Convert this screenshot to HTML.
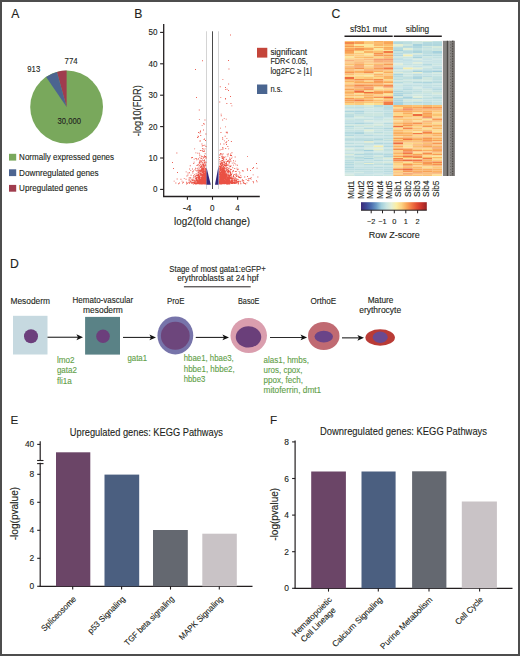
<!DOCTYPE html>
<html><head><meta charset="utf-8"><style>
html,body{margin:0;padding:0;background:#fff;}
body{width:520px;height:656px;overflow:hidden;position:relative;}
svg{position:absolute;left:0;top:0;}
text{font-family:"Liberation Sans", sans-serif;stroke:currentColor;stroke-width:0.12px;}
</style></head><body>
<svg width="520" height="656" viewBox="0 0 520 656" shape-rendering="auto">
<rect x="0" y="0" width="520" height="656" fill="#fff"/>
<text x="11.3" y="17.9" font-size="12.2" text-anchor="start" fill="#231f20" color="#231f20">A</text>
<circle cx="66.6" cy="107.0" r="36.4" fill="#79a85c"/>
<path d="M66.6,107.0 L66.60,70.60 A36.4,36.4 0 0 0 56.93,71.91 Z" fill="#a03c4e"/>
<path d="M66.6,107.0 L56.93,71.91 A36.4,36.4 0 0 0 46.14,76.89 Z" fill="#4c6490"/>
<text x="27.3" y="72.3" font-size="9.0" text-anchor="start" fill="#231f20" color="#231f20" textLength="12.9" lengthAdjust="spacingAndGlyphs">913</text>
<text x="64.6" y="64.0" font-size="9.0" text-anchor="start" fill="#231f20" color="#231f20" textLength="13.1" lengthAdjust="spacingAndGlyphs">774</text>
<text x="57.5" y="124.1" font-size="9.0" text-anchor="start" fill="#231f20" color="#231f20" textLength="23.5" lengthAdjust="spacingAndGlyphs">30,000</text>
<rect x="9" y="153.8" width="7.2" height="6.8" fill="#79a85c"/>
<rect x="9" y="169.3" width="7.2" height="6.8" fill="#4c6490"/>
<rect x="9" y="184.9" width="7.2" height="6.8" fill="#a03c4e"/>
<text x="19.1" y="160.0" font-size="8.6" text-anchor="start" fill="#231f20" color="#231f20" textLength="95" lengthAdjust="spacingAndGlyphs">Normally expressed genes</text>
<text x="19.1" y="175.5" font-size="8.6" text-anchor="start" fill="#231f20" color="#231f20" textLength="79.6" lengthAdjust="spacingAndGlyphs">Downregulated genes</text>
<text x="19.1" y="191.1" font-size="8.6" text-anchor="start" fill="#231f20" color="#231f20" textLength="68.4" lengthAdjust="spacingAndGlyphs">Upregulated genes</text>
<text x="134.2" y="18.3" font-size="12.2" text-anchor="start" fill="#231f20" color="#231f20">B</text>
<line x1="206.5" y1="31.3" x2="206.5" y2="189" stroke="#cfcfcf" stroke-width="0.9"/>
<line x1="218.5" y1="31.3" x2="218.5" y2="189" stroke="#cfcfcf" stroke-width="0.9"/>
<path d="M203.9,182.4h0.9v0.9h-0.9zM205.3,179.3h0.9v0.9h-0.9zM205.3,179.9h0.9v0.9h-0.9zM203.2,183.3h0.9v0.9h-0.9zM203.2,174.1h0.9v0.9h-0.9zM204.5,177.6h0.9v0.9h-0.9zM201.9,180.2h0.9v0.9h-0.9zM205.4,172.8h0.9v0.9h-0.9zM204.9,182.9h0.9v0.9h-0.9zM198.3,182.2h0.9v0.9h-0.9zM201.2,180.8h0.9v0.9h-0.9zM205.3,183.3h0.9v0.9h-0.9zM200.7,180.5h0.9v0.9h-0.9zM201.8,180.2h0.9v0.9h-0.9zM198.8,177.0h0.9v0.9h-0.9zM201.9,179.0h0.9v0.9h-0.9zM200.0,181.1h0.9v0.9h-0.9zM205.1,180.2h0.9v0.9h-0.9zM204.9,180.1h0.9v0.9h-0.9zM200.9,175.4h0.9v0.9h-0.9zM196.6,181.2h0.9v0.9h-0.9zM201.7,178.7h0.9v0.9h-0.9zM197.7,167.5h0.9v0.9h-0.9zM200.9,182.9h0.9v0.9h-0.9zM201.1,155.8h0.9v0.9h-0.9zM204.2,180.6h0.9v0.9h-0.9zM205.5,180.3h0.9v0.9h-0.9zM205.1,182.9h0.9v0.9h-0.9zM205.0,181.9h0.9v0.9h-0.9zM196.8,183.0h0.9v0.9h-0.9zM202.2,171.3h0.9v0.9h-0.9zM197.0,181.7h0.9v0.9h-0.9zM203.7,171.2h0.9v0.9h-0.9zM204.9,182.5h0.9v0.9h-0.9zM204.5,179.7h0.9v0.9h-0.9zM204.3,183.4h0.9v0.9h-0.9zM203.6,178.4h0.9v0.9h-0.9zM200.6,179.3h0.9v0.9h-0.9zM200.8,182.8h0.9v0.9h-0.9zM199.1,171.7h0.9v0.9h-0.9zM203.5,180.9h0.9v0.9h-0.9zM201.3,183.4h0.9v0.9h-0.9zM204.6,182.6h0.9v0.9h-0.9zM205.4,183.7h0.9v0.9h-0.9zM205.1,181.3h0.9v0.9h-0.9zM196.7,178.4h0.9v0.9h-0.9zM204.4,181.2h0.9v0.9h-0.9zM205.0,172.6h0.9v0.9h-0.9zM202.9,180.1h0.9v0.9h-0.9zM205.1,181.3h0.9v0.9h-0.9zM198.0,182.8h0.9v0.9h-0.9zM192.6,179.6h0.9v0.9h-0.9zM202.2,183.2h0.9v0.9h-0.9zM189.1,172.3h0.9v0.9h-0.9zM204.3,181.2h0.9v0.9h-0.9zM199.2,179.0h0.9v0.9h-0.9zM203.9,181.8h0.9v0.9h-0.9zM187.6,172.6h0.9v0.9h-0.9zM198.3,176.2h0.9v0.9h-0.9zM202.5,181.4h0.9v0.9h-0.9zM205.5,181.8h0.9v0.9h-0.9zM200.5,166.2h0.9v0.9h-0.9zM193.7,158.7h0.9v0.9h-0.9zM203.6,182.2h0.9v0.9h-0.9zM204.7,182.0h0.9v0.9h-0.9zM195.7,173.3h0.9v0.9h-0.9zM201.0,174.9h0.9v0.9h-0.9zM201.0,169.9h0.9v0.9h-0.9zM199.6,180.1h0.9v0.9h-0.9zM198.9,180.9h0.9v0.9h-0.9zM190.3,180.7h0.9v0.9h-0.9zM193.0,176.6h0.9v0.9h-0.9zM205.0,182.2h0.9v0.9h-0.9zM198.5,182.3h0.9v0.9h-0.9zM188.7,177.6h0.9v0.9h-0.9zM202.2,183.0h0.9v0.9h-0.9zM190.4,177.6h0.9v0.9h-0.9zM193.9,180.0h0.9v0.9h-0.9zM198.1,182.3h0.9v0.9h-0.9zM204.1,181.8h0.9v0.9h-0.9zM204.3,180.7h0.9v0.9h-0.9zM195.2,181.0h0.9v0.9h-0.9zM201.8,170.6h0.9v0.9h-0.9zM194.9,179.5h0.9v0.9h-0.9zM202.4,183.3h0.9v0.9h-0.9zM204.7,183.1h0.9v0.9h-0.9zM204.8,179.7h0.9v0.9h-0.9zM202.1,181.2h0.9v0.9h-0.9zM202.1,175.3h0.9v0.9h-0.9zM202.1,182.0h0.9v0.9h-0.9zM199.2,179.5h0.9v0.9h-0.9zM199.5,170.0h0.9v0.9h-0.9zM201.5,179.5h0.9v0.9h-0.9zM200.5,180.1h0.9v0.9h-0.9zM202.8,167.6h0.9v0.9h-0.9zM196.6,167.9h0.9v0.9h-0.9zM202.1,167.3h0.9v0.9h-0.9zM205.0,182.7h0.9v0.9h-0.9zM205.3,182.2h0.9v0.9h-0.9zM200.8,174.7h0.9v0.9h-0.9zM204.9,176.3h0.9v0.9h-0.9zM204.9,171.2h0.9v0.9h-0.9zM204.5,166.7h0.9v0.9h-0.9zM202.7,157.9h0.9v0.9h-0.9zM204.8,180.3h0.9v0.9h-0.9zM203.8,182.3h0.9v0.9h-0.9zM200.1,183.2h0.9v0.9h-0.9zM203.1,183.4h0.9v0.9h-0.9zM201.4,179.8h0.9v0.9h-0.9zM187.5,174.5h0.9v0.9h-0.9zM205.1,182.1h0.9v0.9h-0.9zM199.1,182.0h0.9v0.9h-0.9zM203.2,169.8h0.9v0.9h-0.9zM204.3,182.2h0.9v0.9h-0.9zM202.0,177.1h0.9v0.9h-0.9zM205.3,177.0h0.9v0.9h-0.9zM205.3,168.0h0.9v0.9h-0.9zM198.6,182.6h0.9v0.9h-0.9zM205.3,172.5h0.9v0.9h-0.9zM203.8,178.6h0.9v0.9h-0.9zM204.3,182.6h0.9v0.9h-0.9zM204.4,183.0h0.9v0.9h-0.9zM205.4,182.3h0.9v0.9h-0.9zM204.0,175.7h0.9v0.9h-0.9zM202.6,182.4h0.9v0.9h-0.9zM205.5,182.2h0.9v0.9h-0.9zM199.9,179.2h0.9v0.9h-0.9zM202.8,168.7h0.9v0.9h-0.9zM198.3,180.3h0.9v0.9h-0.9zM197.9,180.6h0.9v0.9h-0.9zM200.6,161.3h0.9v0.9h-0.9zM197.9,176.5h0.9v0.9h-0.9zM203.4,181.4h0.9v0.9h-0.9zM205.0,182.8h0.9v0.9h-0.9zM204.3,182.8h0.9v0.9h-0.9zM197.7,172.0h0.9v0.9h-0.9zM204.2,182.0h0.9v0.9h-0.9zM203.0,182.5h0.9v0.9h-0.9zM204.3,165.1h0.9v0.9h-0.9zM202.2,181.5h0.9v0.9h-0.9zM204.0,181.4h0.9v0.9h-0.9zM203.5,179.9h0.9v0.9h-0.9zM204.6,179.9h0.9v0.9h-0.9zM204.3,183.0h0.9v0.9h-0.9zM205.4,183.4h0.9v0.9h-0.9zM204.5,178.5h0.9v0.9h-0.9zM199.6,177.3h0.9v0.9h-0.9zM196.5,180.8h0.9v0.9h-0.9zM187.6,182.3h0.9v0.9h-0.9zM201.2,182.9h0.9v0.9h-0.9zM196.0,177.8h0.9v0.9h-0.9zM198.4,182.6h0.9v0.9h-0.9zM202.6,173.2h0.9v0.9h-0.9zM198.1,178.3h0.9v0.9h-0.9zM200.7,177.1h0.9v0.9h-0.9zM205.5,182.7h0.9v0.9h-0.9zM205.1,173.4h0.9v0.9h-0.9zM201.4,177.8h0.9v0.9h-0.9zM202.7,183.1h0.9v0.9h-0.9zM199.7,179.5h0.9v0.9h-0.9zM201.0,182.8h0.9v0.9h-0.9zM204.4,183.2h0.9v0.9h-0.9zM200.0,181.9h0.9v0.9h-0.9zM189.6,179.7h0.9v0.9h-0.9zM202.8,176.9h0.9v0.9h-0.9zM201.5,178.1h0.9v0.9h-0.9zM204.9,181.6h0.9v0.9h-0.9zM204.0,179.2h0.9v0.9h-0.9zM205.3,181.5h0.9v0.9h-0.9zM200.5,177.4h0.9v0.9h-0.9zM202.5,180.0h0.9v0.9h-0.9zM205.1,171.3h0.9v0.9h-0.9zM189.2,168.6h0.9v0.9h-0.9zM203.0,173.6h0.9v0.9h-0.9zM203.0,181.9h0.9v0.9h-0.9zM193.1,182.0h0.9v0.9h-0.9zM204.9,179.0h0.9v0.9h-0.9zM205.0,174.0h0.9v0.9h-0.9zM196.2,176.9h0.9v0.9h-0.9zM195.8,180.1h0.9v0.9h-0.9zM205.6,179.7h0.9v0.9h-0.9zM204.1,182.7h0.9v0.9h-0.9zM204.0,173.7h0.9v0.9h-0.9zM199.6,173.7h0.9v0.9h-0.9zM194.4,176.2h0.9v0.9h-0.9zM204.1,180.9h0.9v0.9h-0.9zM176.7,178.6h0.9v0.9h-0.9zM203.2,182.0h0.9v0.9h-0.9zM205.1,173.7h0.9v0.9h-0.9zM193.8,182.0h0.9v0.9h-0.9zM202.5,182.3h0.9v0.9h-0.9zM192.2,171.3h0.9v0.9h-0.9zM201.3,169.6h0.9v0.9h-0.9zM202.2,176.8h0.9v0.9h-0.9zM199.9,179.9h0.9v0.9h-0.9zM201.2,181.9h0.9v0.9h-0.9zM194.4,182.7h0.9v0.9h-0.9zM203.8,181.3h0.9v0.9h-0.9zM189.5,181.6h0.9v0.9h-0.9zM204.1,179.0h0.9v0.9h-0.9zM204.8,182.7h0.9v0.9h-0.9zM195.4,179.8h0.9v0.9h-0.9zM195.4,152.4h0.9v0.9h-0.9zM205.0,182.6h0.9v0.9h-0.9zM203.8,183.1h0.9v0.9h-0.9zM204.3,178.5h0.9v0.9h-0.9zM199.6,180.5h0.9v0.9h-0.9zM202.4,180.9h0.9v0.9h-0.9zM205.3,181.2h0.9v0.9h-0.9zM205.0,179.4h0.9v0.9h-0.9zM197.1,182.2h0.9v0.9h-0.9zM204.4,180.6h0.9v0.9h-0.9zM192.4,172.7h0.9v0.9h-0.9zM205.5,183.1h0.9v0.9h-0.9zM195.9,179.8h0.9v0.9h-0.9zM205.6,180.3h0.9v0.9h-0.9zM198.1,172.4h0.9v0.9h-0.9zM204.4,183.0h0.9v0.9h-0.9zM202.4,176.7h0.9v0.9h-0.9zM200.1,177.5h0.9v0.9h-0.9zM203.0,179.4h0.9v0.9h-0.9zM199.0,181.6h0.9v0.9h-0.9zM201.1,181.7h0.9v0.9h-0.9zM204.4,177.7h0.9v0.9h-0.9zM205.1,183.0h0.9v0.9h-0.9zM201.8,180.9h0.9v0.9h-0.9zM201.6,183.5h0.9v0.9h-0.9zM202.9,165.7h0.9v0.9h-0.9zM196.3,180.1h0.9v0.9h-0.9zM204.4,165.4h0.9v0.9h-0.9zM204.0,183.3h0.9v0.9h-0.9zM200.8,180.6h0.9v0.9h-0.9zM200.9,169.4h0.9v0.9h-0.9zM205.5,181.2h0.9v0.9h-0.9zM200.7,181.9h0.9v0.9h-0.9zM199.8,179.8h0.9v0.9h-0.9zM190.5,181.1h0.9v0.9h-0.9zM204.5,181.8h0.9v0.9h-0.9zM204.1,166.7h0.9v0.9h-0.9zM204.7,182.1h0.9v0.9h-0.9zM200.9,167.3h0.9v0.9h-0.9zM203.5,181.7h0.9v0.9h-0.9zM204.9,183.5h0.9v0.9h-0.9zM203.5,170.5h0.9v0.9h-0.9zM199.9,150.0h0.9v0.9h-0.9zM203.9,181.9h0.9v0.9h-0.9zM199.7,183.1h0.9v0.9h-0.9zM203.6,181.0h0.9v0.9h-0.9zM204.8,183.6h0.9v0.9h-0.9zM203.7,166.6h0.9v0.9h-0.9zM191.3,182.2h0.9v0.9h-0.9zM198.2,174.0h0.9v0.9h-0.9zM205.4,180.0h0.9v0.9h-0.9zM194.8,182.3h0.9v0.9h-0.9zM195.8,183.3h0.9v0.9h-0.9zM198.4,175.8h0.9v0.9h-0.9zM205.4,182.7h0.9v0.9h-0.9zM204.3,175.5h0.9v0.9h-0.9zM203.8,181.3h0.9v0.9h-0.9zM201.5,181.6h0.9v0.9h-0.9zM204.0,182.0h0.9v0.9h-0.9zM199.5,169.6h0.9v0.9h-0.9zM193.3,183.5h0.9v0.9h-0.9zM202.8,165.8h0.9v0.9h-0.9zM203.5,181.9h0.9v0.9h-0.9zM202.7,169.2h0.9v0.9h-0.9zM198.6,175.8h0.9v0.9h-0.9zM199.2,178.4h0.9v0.9h-0.9zM203.9,180.7h0.9v0.9h-0.9zM205.2,182.0h0.9v0.9h-0.9zM204.4,183.4h0.9v0.9h-0.9zM202.1,180.8h0.9v0.9h-0.9zM196.4,159.3h0.9v0.9h-0.9zM205.2,182.8h0.9v0.9h-0.9zM200.3,180.4h0.9v0.9h-0.9zM203.3,177.9h0.9v0.9h-0.9zM199.7,172.9h0.9v0.9h-0.9zM205.0,173.5h0.9v0.9h-0.9zM202.0,180.6h0.9v0.9h-0.9zM204.6,182.0h0.9v0.9h-0.9zM204.9,171.5h0.9v0.9h-0.9zM203.9,180.2h0.9v0.9h-0.9zM202.6,181.7h0.9v0.9h-0.9zM201.0,157.8h0.9v0.9h-0.9zM202.8,173.7h0.9v0.9h-0.9zM195.0,183.3h0.9v0.9h-0.9zM205.1,181.9h0.9v0.9h-0.9zM201.8,168.9h0.9v0.9h-0.9zM197.0,180.3h0.9v0.9h-0.9zM199.1,167.7h0.9v0.9h-0.9zM201.7,178.3h0.9v0.9h-0.9zM203.6,182.8h0.9v0.9h-0.9zM204.3,178.2h0.9v0.9h-0.9zM204.6,183.5h0.9v0.9h-0.9zM200.7,182.4h0.9v0.9h-0.9zM204.6,174.6h0.9v0.9h-0.9zM205.3,182.9h0.9v0.9h-0.9zM202.2,178.1h0.9v0.9h-0.9zM204.8,176.9h0.9v0.9h-0.9zM204.2,181.0h0.9v0.9h-0.9zM204.0,178.9h0.9v0.9h-0.9zM203.3,172.0h0.9v0.9h-0.9zM203.7,182.0h0.9v0.9h-0.9zM204.6,183.0h0.9v0.9h-0.9zM203.2,174.0h0.9v0.9h-0.9zM196.4,180.3h0.9v0.9h-0.9zM205.5,178.9h0.9v0.9h-0.9zM195.3,182.8h0.9v0.9h-0.9zM203.6,179.8h0.9v0.9h-0.9zM204.2,179.0h0.9v0.9h-0.9zM205.1,179.4h0.9v0.9h-0.9zM190.9,182.5h0.9v0.9h-0.9zM193.3,163.0h0.9v0.9h-0.9zM205.4,169.2h0.9v0.9h-0.9zM195.5,177.8h0.9v0.9h-0.9zM204.8,175.1h0.9v0.9h-0.9zM203.4,172.8h0.9v0.9h-0.9zM204.7,182.1h0.9v0.9h-0.9zM202.5,181.0h0.9v0.9h-0.9zM204.4,176.0h0.9v0.9h-0.9zM205.4,178.6h0.9v0.9h-0.9zM205.4,173.7h0.9v0.9h-0.9zM201.7,178.9h0.9v0.9h-0.9zM204.0,180.3h0.9v0.9h-0.9zM203.2,177.5h0.9v0.9h-0.9zM203.1,183.2h0.9v0.9h-0.9zM202.7,181.7h0.9v0.9h-0.9zM199.1,180.3h0.9v0.9h-0.9zM202.8,183.1h0.9v0.9h-0.9zM203.2,182.9h0.9v0.9h-0.9zM202.5,183.1h0.9v0.9h-0.9zM205.2,175.9h0.9v0.9h-0.9zM202.5,183.1h0.9v0.9h-0.9zM203.6,167.1h0.9v0.9h-0.9zM197.2,152.7h0.9v0.9h-0.9zM198.3,181.8h0.9v0.9h-0.9zM202.7,165.8h0.9v0.9h-0.9zM204.8,174.5h0.9v0.9h-0.9zM205.3,180.8h0.9v0.9h-0.9zM204.9,171.1h0.9v0.9h-0.9zM198.3,182.5h0.9v0.9h-0.9zM194.7,182.3h0.9v0.9h-0.9zM202.6,181.7h0.9v0.9h-0.9zM204.7,182.1h0.9v0.9h-0.9zM200.7,171.2h0.9v0.9h-0.9zM199.0,182.7h0.9v0.9h-0.9zM201.3,180.6h0.9v0.9h-0.9zM202.1,178.3h0.9v0.9h-0.9zM205.1,156.0h0.9v0.9h-0.9zM203.4,174.8h0.9v0.9h-0.9zM185.6,178.8h0.9v0.9h-0.9zM199.4,180.4h0.9v0.9h-0.9zM199.7,182.9h0.9v0.9h-0.9zM204.3,177.4h0.9v0.9h-0.9zM201.8,177.6h0.9v0.9h-0.9zM205.6,183.5h0.9v0.9h-0.9zM201.5,180.3h0.9v0.9h-0.9zM195.9,182.8h0.9v0.9h-0.9zM201.0,183.7h0.9v0.9h-0.9zM203.7,182.9h0.9v0.9h-0.9zM204.5,178.5h0.9v0.9h-0.9zM204.6,178.0h0.9v0.9h-0.9zM205.0,168.4h0.9v0.9h-0.9zM204.9,182.7h0.9v0.9h-0.9zM196.8,175.1h0.9v0.9h-0.9zM204.3,183.2h0.9v0.9h-0.9zM202.0,180.9h0.9v0.9h-0.9zM203.1,168.0h0.9v0.9h-0.9zM204.4,170.9h0.9v0.9h-0.9zM202.3,180.7h0.9v0.9h-0.9zM205.3,175.5h0.9v0.9h-0.9zM202.2,168.1h0.9v0.9h-0.9zM204.6,178.2h0.9v0.9h-0.9zM201.2,174.4h0.9v0.9h-0.9zM204.0,181.8h0.9v0.9h-0.9zM196.1,174.8h0.9v0.9h-0.9zM205.6,173.0h0.9v0.9h-0.9zM202.9,176.0h0.9v0.9h-0.9zM204.5,183.0h0.9v0.9h-0.9zM205.4,181.0h0.9v0.9h-0.9zM200.5,173.0h0.9v0.9h-0.9zM204.3,179.0h0.9v0.9h-0.9zM198.9,179.5h0.9v0.9h-0.9zM201.2,165.2h0.9v0.9h-0.9zM196.5,183.5h0.9v0.9h-0.9zM204.4,175.6h0.9v0.9h-0.9zM199.7,180.9h0.9v0.9h-0.9zM203.9,181.6h0.9v0.9h-0.9zM201.3,176.8h0.9v0.9h-0.9zM189.0,179.6h0.9v0.9h-0.9zM200.5,172.7h0.9v0.9h-0.9zM200.1,178.9h0.9v0.9h-0.9zM204.6,178.4h0.9v0.9h-0.9zM195.2,182.9h0.9v0.9h-0.9zM205.1,169.0h0.9v0.9h-0.9zM204.9,183.6h0.9v0.9h-0.9zM200.5,177.7h0.9v0.9h-0.9zM199.9,183.0h0.9v0.9h-0.9zM203.7,173.8h0.9v0.9h-0.9zM196.1,182.7h0.9v0.9h-0.9zM195.0,167.8h0.9v0.9h-0.9zM204.6,183.1h0.9v0.9h-0.9zM197.5,174.1h0.9v0.9h-0.9zM198.1,178.1h0.9v0.9h-0.9zM205.1,182.6h0.9v0.9h-0.9zM204.6,181.3h0.9v0.9h-0.9zM205.5,181.9h0.9v0.9h-0.9zM200.2,181.0h0.9v0.9h-0.9zM191.3,179.3h0.9v0.9h-0.9zM201.5,183.3h0.9v0.9h-0.9zM203.1,175.4h0.9v0.9h-0.9zM200.4,179.4h0.9v0.9h-0.9zM197.1,182.6h0.9v0.9h-0.9zM204.8,183.6h0.9v0.9h-0.9zM199.4,162.8h0.9v0.9h-0.9zM202.7,179.4h0.9v0.9h-0.9zM204.7,179.8h0.9v0.9h-0.9zM197.9,181.4h0.9v0.9h-0.9zM204.2,181.9h0.9v0.9h-0.9zM202.6,182.7h0.9v0.9h-0.9zM205.2,174.7h0.9v0.9h-0.9zM199.0,178.1h0.9v0.9h-0.9zM203.4,180.3h0.9v0.9h-0.9zM205.2,171.7h0.9v0.9h-0.9zM204.6,181.4h0.9v0.9h-0.9zM202.6,180.5h0.9v0.9h-0.9zM204.5,180.0h0.9v0.9h-0.9zM199.6,175.6h0.9v0.9h-0.9zM203.8,181.5h0.9v0.9h-0.9zM197.6,177.2h0.9v0.9h-0.9zM204.8,180.0h0.9v0.9h-0.9zM201.9,182.7h0.9v0.9h-0.9zM196.3,182.2h0.9v0.9h-0.9zM204.1,176.4h0.9v0.9h-0.9zM204.9,182.7h0.9v0.9h-0.9zM203.9,179.6h0.9v0.9h-0.9zM203.9,181.9h0.9v0.9h-0.9zM200.0,182.4h0.9v0.9h-0.9zM205.1,180.3h0.9v0.9h-0.9zM198.8,176.2h0.9v0.9h-0.9zM204.7,178.1h0.9v0.9h-0.9zM204.6,181.1h0.9v0.9h-0.9zM203.4,174.6h0.9v0.9h-0.9zM202.6,177.9h0.9v0.9h-0.9zM204.9,178.4h0.9v0.9h-0.9zM199.8,170.3h0.9v0.9h-0.9zM201.9,175.9h0.9v0.9h-0.9zM204.5,176.1h0.9v0.9h-0.9zM199.2,176.5h0.9v0.9h-0.9zM200.7,177.8h0.9v0.9h-0.9zM204.0,178.3h0.9v0.9h-0.9zM203.3,174.8h0.9v0.9h-0.9zM201.3,181.9h0.9v0.9h-0.9zM203.0,178.1h0.9v0.9h-0.9zM200.8,169.0h0.9v0.9h-0.9zM201.0,175.2h0.9v0.9h-0.9zM202.7,163.6h0.9v0.9h-0.9zM202.2,182.2h0.9v0.9h-0.9zM193.5,179.7h0.9v0.9h-0.9zM201.9,178.9h0.9v0.9h-0.9zM202.5,177.5h0.9v0.9h-0.9zM202.4,180.1h0.9v0.9h-0.9zM204.6,177.1h0.9v0.9h-0.9zM199.4,182.3h0.9v0.9h-0.9zM203.7,183.3h0.9v0.9h-0.9zM203.4,183.4h0.9v0.9h-0.9zM203.3,176.9h0.9v0.9h-0.9zM204.3,181.8h0.9v0.9h-0.9zM193.5,179.5h0.9v0.9h-0.9zM198.6,180.9h0.9v0.9h-0.9zM205.0,174.9h0.9v0.9h-0.9zM201.3,179.9h0.9v0.9h-0.9zM204.5,165.3h0.9v0.9h-0.9zM201.2,173.8h0.9v0.9h-0.9zM202.9,181.4h0.9v0.9h-0.9zM205.0,173.6h0.9v0.9h-0.9zM197.4,181.8h0.9v0.9h-0.9zM204.3,180.6h0.9v0.9h-0.9zM205.6,176.5h0.9v0.9h-0.9zM204.4,181.4h0.9v0.9h-0.9zM203.2,177.7h0.9v0.9h-0.9zM203.7,168.6h0.9v0.9h-0.9zM205.3,173.4h0.9v0.9h-0.9zM199.0,182.3h0.9v0.9h-0.9zM201.3,183.7h0.9v0.9h-0.9zM192.6,177.7h0.9v0.9h-0.9zM205.1,182.8h0.9v0.9h-0.9zM199.2,181.3h0.9v0.9h-0.9zM195.5,175.0h0.9v0.9h-0.9zM196.1,178.0h0.9v0.9h-0.9zM200.9,170.8h0.9v0.9h-0.9zM197.8,182.0h0.9v0.9h-0.9zM202.3,176.0h0.9v0.9h-0.9zM196.4,179.1h0.9v0.9h-0.9zM204.5,182.6h0.9v0.9h-0.9zM205.3,180.2h0.9v0.9h-0.9zM202.7,179.6h0.9v0.9h-0.9zM197.1,183.1h0.9v0.9h-0.9zM202.9,178.7h0.9v0.9h-0.9zM197.7,180.9h0.9v0.9h-0.9zM191.7,182.9h0.9v0.9h-0.9zM201.3,183.2h0.9v0.9h-0.9zM200.7,168.8h0.9v0.9h-0.9zM188.4,179.5h0.9v0.9h-0.9zM195.8,183.0h0.9v0.9h-0.9zM201.4,180.8h0.9v0.9h-0.9zM203.6,179.8h0.9v0.9h-0.9zM199.3,182.2h0.9v0.9h-0.9zM203.2,178.7h0.9v0.9h-0.9zM204.1,173.8h0.9v0.9h-0.9zM202.6,181.7h0.9v0.9h-0.9zM189.7,177.3h0.9v0.9h-0.9zM203.9,181.5h0.9v0.9h-0.9zM201.8,177.6h0.9v0.9h-0.9zM205.4,176.0h0.9v0.9h-0.9zM202.2,183.3h0.9v0.9h-0.9zM205.6,181.9h0.9v0.9h-0.9zM201.6,177.3h0.9v0.9h-0.9zM195.3,178.1h0.9v0.9h-0.9zM201.4,176.8h0.9v0.9h-0.9zM200.7,182.0h0.9v0.9h-0.9zM203.0,175.8h0.9v0.9h-0.9zM204.7,183.0h0.9v0.9h-0.9zM195.0,177.6h0.9v0.9h-0.9zM198.2,174.9h0.9v0.9h-0.9zM204.3,181.5h0.9v0.9h-0.9zM204.0,180.2h0.9v0.9h-0.9zM193.9,183.0h0.9v0.9h-0.9zM205.4,182.5h0.9v0.9h-0.9zM201.9,169.6h0.9v0.9h-0.9zM205.5,180.6h0.9v0.9h-0.9zM193.7,161.7h0.9v0.9h-0.9zM203.3,182.7h0.9v0.9h-0.9zM204.6,182.9h0.9v0.9h-0.9zM205.6,177.4h0.9v0.9h-0.9zM191.0,182.6h0.9v0.9h-0.9zM205.0,183.1h0.9v0.9h-0.9zM204.4,176.4h0.9v0.9h-0.9zM205.4,175.0h0.9v0.9h-0.9zM197.3,176.5h0.9v0.9h-0.9zM201.3,176.6h0.9v0.9h-0.9zM194.0,181.4h0.9v0.9h-0.9zM200.2,183.7h0.9v0.9h-0.9zM201.1,174.4h0.9v0.9h-0.9zM204.0,176.5h0.9v0.9h-0.9zM197.1,180.1h0.9v0.9h-0.9zM203.6,178.7h0.9v0.9h-0.9zM200.7,182.3h0.9v0.9h-0.9zM203.7,177.6h0.9v0.9h-0.9zM203.3,180.5h0.9v0.9h-0.9zM193.1,174.9h0.9v0.9h-0.9zM204.1,182.7h0.9v0.9h-0.9zM200.4,173.9h0.9v0.9h-0.9zM201.6,162.3h0.9v0.9h-0.9zM201.6,181.4h0.9v0.9h-0.9zM196.2,180.7h0.9v0.9h-0.9zM201.6,170.7h0.9v0.9h-0.9zM204.2,183.6h0.9v0.9h-0.9zM203.2,178.3h0.9v0.9h-0.9zM196.2,182.9h0.9v0.9h-0.9zM198.4,172.2h0.9v0.9h-0.9zM204.2,172.7h0.9v0.9h-0.9zM200.6,170.0h0.9v0.9h-0.9zM205.2,178.7h0.9v0.9h-0.9zM204.6,175.4h0.9v0.9h-0.9zM204.5,178.1h0.9v0.9h-0.9zM202.9,182.3h0.9v0.9h-0.9zM199.6,174.8h0.9v0.9h-0.9zM205.2,174.1h0.9v0.9h-0.9zM204.5,178.3h0.9v0.9h-0.9zM196.3,179.4h0.9v0.9h-0.9zM201.8,182.5h0.9v0.9h-0.9zM204.7,176.9h0.9v0.9h-0.9zM202.0,180.6h0.9v0.9h-0.9zM204.9,182.8h0.9v0.9h-0.9zM203.6,182.7h0.9v0.9h-0.9zM198.9,182.4h0.9v0.9h-0.9zM203.8,179.8h0.9v0.9h-0.9zM205.5,157.6h0.9v0.9h-0.9zM202.7,179.0h0.9v0.9h-0.9zM199.1,180.0h0.9v0.9h-0.9zM199.3,173.6h0.9v0.9h-0.9zM204.3,183.4h0.9v0.9h-0.9zM204.7,183.3h0.9v0.9h-0.9zM202.1,172.2h0.9v0.9h-0.9zM193.0,170.5h0.9v0.9h-0.9zM201.7,180.9h0.9v0.9h-0.9zM191.8,181.7h0.9v0.9h-0.9zM201.2,166.0h0.9v0.9h-0.9zM203.5,180.4h0.9v0.9h-0.9zM191.1,157.3h0.9v0.9h-0.9zM205.4,181.9h0.9v0.9h-0.9zM195.6,170.2h0.9v0.9h-0.9zM205.4,174.7h0.9v0.9h-0.9zM201.1,160.5h0.9v0.9h-0.9zM204.9,175.3h0.9v0.9h-0.9zM200.7,181.4h0.9v0.9h-0.9zM199.5,182.9h0.9v0.9h-0.9zM204.3,182.7h0.9v0.9h-0.9zM204.8,182.2h0.9v0.9h-0.9zM200.7,183.2h0.9v0.9h-0.9zM204.7,182.9h0.9v0.9h-0.9zM204.5,168.2h0.9v0.9h-0.9zM196.2,182.6h0.9v0.9h-0.9zM205.2,168.6h0.9v0.9h-0.9zM201.3,180.2h0.9v0.9h-0.9zM198.2,179.7h0.9v0.9h-0.9zM204.9,182.4h0.9v0.9h-0.9zM200.2,179.3h0.9v0.9h-0.9zM196.8,181.8h0.9v0.9h-0.9zM204.9,181.4h0.9v0.9h-0.9zM203.8,182.4h0.9v0.9h-0.9zM204.0,170.9h0.9v0.9h-0.9zM189.1,182.8h0.9v0.9h-0.9zM200.9,182.1h0.9v0.9h-0.9zM204.2,182.0h0.9v0.9h-0.9zM203.7,157.1h0.9v0.9h-0.9zM194.5,183.0h0.9v0.9h-0.9zM195.9,182.9h0.9v0.9h-0.9zM204.1,162.6h0.9v0.9h-0.9zM198.5,181.4h0.9v0.9h-0.9zM205.6,173.6h0.9v0.9h-0.9zM204.7,179.9h0.9v0.9h-0.9zM204.5,179.0h0.9v0.9h-0.9zM204.7,175.1h0.9v0.9h-0.9zM204.7,183.3h0.9v0.9h-0.9zM201.6,179.8h0.9v0.9h-0.9zM204.6,178.0h0.9v0.9h-0.9zM198.4,178.8h0.9v0.9h-0.9zM205.3,176.2h0.9v0.9h-0.9zM200.1,182.8h0.9v0.9h-0.9zM203.8,173.0h0.9v0.9h-0.9zM202.7,183.0h0.9v0.9h-0.9zM202.8,172.3h0.9v0.9h-0.9zM204.7,173.7h0.9v0.9h-0.9zM204.8,180.8h0.9v0.9h-0.9zM205.6,179.4h0.9v0.9h-0.9zM202.5,182.5h0.9v0.9h-0.9zM198.3,172.5h0.9v0.9h-0.9zM200.3,180.6h0.9v0.9h-0.9zM205.3,171.7h0.9v0.9h-0.9zM202.7,179.4h0.9v0.9h-0.9zM202.3,182.9h0.9v0.9h-0.9zM204.5,182.6h0.9v0.9h-0.9zM204.4,174.4h0.9v0.9h-0.9zM205.2,177.0h0.9v0.9h-0.9zM205.5,178.3h0.9v0.9h-0.9zM202.4,177.0h0.9v0.9h-0.9zM196.8,176.8h0.9v0.9h-0.9zM205.0,179.7h0.9v0.9h-0.9zM204.2,182.8h0.9v0.9h-0.9zM205.0,178.2h0.9v0.9h-0.9zM204.9,178.5h0.9v0.9h-0.9zM204.8,173.4h0.9v0.9h-0.9zM203.5,180.1h0.9v0.9h-0.9zM202.4,180.3h0.9v0.9h-0.9zM199.1,181.3h0.9v0.9h-0.9zM203.8,179.9h0.9v0.9h-0.9zM198.6,169.7h0.9v0.9h-0.9zM197.5,183.1h0.9v0.9h-0.9zM192.0,168.6h0.9v0.9h-0.9zM203.2,178.0h0.9v0.9h-0.9zM202.3,183.1h0.9v0.9h-0.9zM202.6,183.6h0.9v0.9h-0.9zM190.6,174.8h0.9v0.9h-0.9zM201.3,174.0h0.9v0.9h-0.9zM196.3,183.1h0.9v0.9h-0.9zM204.3,177.3h0.9v0.9h-0.9zM202.2,169.1h0.9v0.9h-0.9zM204.4,179.4h0.9v0.9h-0.9zM192.6,181.7h0.9v0.9h-0.9zM201.1,182.6h0.9v0.9h-0.9zM192.2,179.6h0.9v0.9h-0.9zM202.9,179.5h0.9v0.9h-0.9zM205.0,182.8h0.9v0.9h-0.9zM203.4,181.7h0.9v0.9h-0.9zM205.2,178.8h0.9v0.9h-0.9zM201.6,178.6h0.9v0.9h-0.9zM204.6,176.6h0.9v0.9h-0.9zM202.2,178.2h0.9v0.9h-0.9zM204.0,182.1h0.9v0.9h-0.9zM202.5,180.7h0.9v0.9h-0.9zM205.5,180.7h0.9v0.9h-0.9zM204.4,178.9h0.9v0.9h-0.9zM204.2,159.5h0.9v0.9h-0.9zM199.2,182.8h0.9v0.9h-0.9zM196.8,180.6h0.9v0.9h-0.9zM203.5,180.0h0.9v0.9h-0.9zM205.1,181.6h0.9v0.9h-0.9zM199.8,182.6h0.9v0.9h-0.9zM203.7,177.1h0.9v0.9h-0.9zM197.4,173.9h0.9v0.9h-0.9zM199.8,175.7h0.9v0.9h-0.9zM202.8,174.8h0.9v0.9h-0.9zM195.0,182.4h0.9v0.9h-0.9zM205.6,175.4h0.9v0.9h-0.9zM202.6,165.2h0.9v0.9h-0.9zM203.3,174.7h0.9v0.9h-0.9zM201.6,180.8h0.9v0.9h-0.9zM203.0,176.5h0.9v0.9h-0.9zM203.5,179.0h0.9v0.9h-0.9zM203.9,174.6h0.9v0.9h-0.9zM202.6,180.4h0.9v0.9h-0.9zM204.0,182.5h0.9v0.9h-0.9zM201.9,182.6h0.9v0.9h-0.9zM203.9,172.9h0.9v0.9h-0.9zM191.9,182.2h0.9v0.9h-0.9zM195.2,183.7h0.9v0.9h-0.9zM202.0,179.3h0.9v0.9h-0.9zM199.2,178.7h0.9v0.9h-0.9zM202.5,179.2h0.9v0.9h-0.9zM203.5,180.9h0.9v0.9h-0.9zM203.7,167.0h0.9v0.9h-0.9zM202.4,182.9h0.9v0.9h-0.9zM203.4,178.8h0.9v0.9h-0.9zM196.5,165.1h0.9v0.9h-0.9zM203.1,177.6h0.9v0.9h-0.9zM203.8,179.0h0.9v0.9h-0.9zM204.8,180.9h0.9v0.9h-0.9zM198.1,179.8h0.9v0.9h-0.9zM195.9,176.7h0.9v0.9h-0.9zM185.7,171.4h0.9v0.9h-0.9zM204.9,181.5h0.9v0.9h-0.9zM202.6,182.5h0.9v0.9h-0.9zM201.3,178.4h0.9v0.9h-0.9zM183.8,178.2h0.9v0.9h-0.9zM203.3,175.0h0.9v0.9h-0.9zM200.6,183.5h0.9v0.9h-0.9zM197.7,178.4h0.9v0.9h-0.9zM204.7,179.6h0.9v0.9h-0.9zM204.3,177.7h0.9v0.9h-0.9zM180.5,178.8h0.9v0.9h-0.9zM205.0,182.3h0.9v0.9h-0.9zM205.1,183.1h0.9v0.9h-0.9zM202.4,173.8h0.9v0.9h-0.9zM198.5,183.4h0.9v0.9h-0.9zM199.3,181.1h0.9v0.9h-0.9zM203.7,182.6h0.9v0.9h-0.9zM205.1,170.5h0.9v0.9h-0.9zM203.8,180.2h0.9v0.9h-0.9zM205.4,171.2h0.9v0.9h-0.9zM191.8,180.1h0.9v0.9h-0.9zM204.4,182.8h0.9v0.9h-0.9zM197.3,181.0h0.9v0.9h-0.9zM198.3,181.3h0.9v0.9h-0.9zM191.8,179.3h0.9v0.9h-0.9zM204.4,180.5h0.9v0.9h-0.9zM204.5,181.1h0.9v0.9h-0.9zM202.8,174.9h0.9v0.9h-0.9zM204.8,181.2h0.9v0.9h-0.9zM190.3,181.5h0.9v0.9h-0.9zM205.1,179.3h0.9v0.9h-0.9zM203.4,183.3h0.9v0.9h-0.9zM198.1,181.2h0.9v0.9h-0.9zM204.7,181.8h0.9v0.9h-0.9zM205.4,177.5h0.9v0.9h-0.9zM204.9,177.0h0.9v0.9h-0.9zM204.2,173.8h0.9v0.9h-0.9zM203.1,173.2h0.9v0.9h-0.9zM204.9,180.8h0.9v0.9h-0.9zM203.6,166.1h0.9v0.9h-0.9zM192.6,179.8h0.9v0.9h-0.9zM203.0,182.5h0.9v0.9h-0.9zM204.3,170.7h0.9v0.9h-0.9zM203.6,181.8h0.9v0.9h-0.9zM204.6,172.4h0.9v0.9h-0.9zM202.5,179.3h0.9v0.9h-0.9zM199.2,180.6h0.9v0.9h-0.9zM202.0,181.4h0.9v0.9h-0.9zM205.2,182.0h0.9v0.9h-0.9zM203.9,177.7h0.9v0.9h-0.9zM202.1,180.9h0.9v0.9h-0.9zM204.1,183.2h0.9v0.9h-0.9zM204.5,182.5h0.9v0.9h-0.9zM204.2,180.2h0.9v0.9h-0.9zM199.2,171.3h0.9v0.9h-0.9zM205.0,182.0h0.9v0.9h-0.9zM200.7,177.5h0.9v0.9h-0.9zM203.3,177.3h0.9v0.9h-0.9zM204.4,173.2h0.9v0.9h-0.9zM201.3,182.6h0.9v0.9h-0.9zM195.1,175.9h0.9v0.9h-0.9zM205.4,183.4h0.9v0.9h-0.9zM204.7,181.5h0.9v0.9h-0.9zM205.4,181.2h0.9v0.9h-0.9zM204.7,173.3h0.9v0.9h-0.9zM200.2,181.8h0.9v0.9h-0.9zM200.6,181.4h0.9v0.9h-0.9zM197.9,175.3h0.9v0.9h-0.9zM205.4,172.7h0.9v0.9h-0.9zM205.4,182.2h0.9v0.9h-0.9zM198.9,181.8h0.9v0.9h-0.9zM199.6,182.7h0.9v0.9h-0.9zM203.4,175.6h0.9v0.9h-0.9zM204.2,182.5h0.9v0.9h-0.9zM203.2,168.6h0.9v0.9h-0.9zM199.8,173.6h0.9v0.9h-0.9zM203.0,182.9h0.9v0.9h-0.9zM203.2,179.1h0.9v0.9h-0.9zM205.0,175.9h0.9v0.9h-0.9zM200.4,174.6h0.9v0.9h-0.9zM202.2,164.1h0.9v0.9h-0.9zM202.2,182.2h0.9v0.9h-0.9zM203.7,180.7h0.9v0.9h-0.9zM204.0,182.4h0.9v0.9h-0.9zM200.8,182.1h0.9v0.9h-0.9zM202.5,179.8h0.9v0.9h-0.9zM203.7,181.1h0.9v0.9h-0.9zM204.9,179.0h0.9v0.9h-0.9zM198.3,178.8h0.9v0.9h-0.9zM204.8,177.3h0.9v0.9h-0.9zM202.9,175.1h0.9v0.9h-0.9zM205.1,181.6h0.9v0.9h-0.9zM204.6,183.2h0.9v0.9h-0.9zM204.7,176.8h0.9v0.9h-0.9zM205.1,181.3h0.9v0.9h-0.9zM203.7,182.7h0.9v0.9h-0.9zM205.6,156.6h0.9v0.9h-0.9zM205.2,176.1h0.9v0.9h-0.9zM202.0,182.8h0.9v0.9h-0.9zM203.2,182.2h0.9v0.9h-0.9zM205.6,169.4h0.9v0.9h-0.9zM201.4,168.2h0.9v0.9h-0.9zM204.4,182.1h0.9v0.9h-0.9zM205.5,174.9h0.9v0.9h-0.9zM204.1,182.2h0.9v0.9h-0.9zM197.6,169.3h0.9v0.9h-0.9zM199.0,173.4h0.9v0.9h-0.9zM203.9,182.0h0.9v0.9h-0.9zM203.9,180.8h0.9v0.9h-0.9zM203.6,173.8h0.9v0.9h-0.9zM205.4,178.7h0.9v0.9h-0.9zM198.2,176.4h0.9v0.9h-0.9zM193.1,179.6h0.9v0.9h-0.9zM204.9,181.4h0.9v0.9h-0.9zM205.2,177.3h0.9v0.9h-0.9zM203.1,164.5h0.9v0.9h-0.9zM205.4,180.5h0.9v0.9h-0.9zM200.1,183.1h0.9v0.9h-0.9zM197.3,175.0h0.9v0.9h-0.9zM204.2,177.4h0.9v0.9h-0.9zM203.2,181.2h0.9v0.9h-0.9zM200.9,173.5h0.9v0.9h-0.9zM204.8,181.5h0.9v0.9h-0.9zM202.0,181.3h0.9v0.9h-0.9zM205.2,181.3h0.9v0.9h-0.9zM190.3,169.9h0.9v0.9h-0.9zM189.8,165.3h0.9v0.9h-0.9zM198.4,182.9h0.9v0.9h-0.9zM201.6,181.4h0.9v0.9h-0.9zM192.5,179.7h0.9v0.9h-0.9zM204.1,180.8h0.9v0.9h-0.9zM205.5,182.1h0.9v0.9h-0.9zM203.1,182.8h0.9v0.9h-0.9zM203.6,178.7h0.9v0.9h-0.9zM202.4,178.9h0.9v0.9h-0.9zM205.1,182.0h0.9v0.9h-0.9zM202.2,182.5h0.9v0.9h-0.9zM204.3,182.8h0.9v0.9h-0.9zM204.4,179.7h0.9v0.9h-0.9zM204.5,179.0h0.9v0.9h-0.9zM202.5,178.9h0.9v0.9h-0.9zM203.3,183.0h0.9v0.9h-0.9zM197.0,178.8h0.9v0.9h-0.9zM199.5,182.3h0.9v0.9h-0.9zM200.1,182.5h0.9v0.9h-0.9zM203.5,182.0h0.9v0.9h-0.9zM202.0,175.5h0.9v0.9h-0.9zM199.2,183.3h0.9v0.9h-0.9zM203.6,183.2h0.9v0.9h-0.9zM204.6,181.3h0.9v0.9h-0.9zM203.2,171.2h0.9v0.9h-0.9zM196.8,178.5h0.9v0.9h-0.9zM196.8,182.2h0.9v0.9h-0.9zM203.8,175.3h0.9v0.9h-0.9zM198.1,182.8h0.9v0.9h-0.9zM199.9,167.0h0.9v0.9h-0.9zM205.4,178.6h0.9v0.9h-0.9zM202.2,174.8h0.9v0.9h-0.9zM194.4,177.4h0.9v0.9h-0.9zM204.7,179.9h0.9v0.9h-0.9zM201.9,183.1h0.9v0.9h-0.9zM205.1,174.8h0.9v0.9h-0.9zM202.1,181.4h0.9v0.9h-0.9zM203.5,182.2h0.9v0.9h-0.9zM202.3,176.7h0.9v0.9h-0.9zM192.8,183.4h0.9v0.9h-0.9zM204.9,179.3h0.9v0.9h-0.9zM198.7,183.5h0.9v0.9h-0.9zM198.3,177.2h0.9v0.9h-0.9zM202.8,182.2h0.9v0.9h-0.9zM203.5,172.0h0.9v0.9h-0.9zM205.3,181.4h0.9v0.9h-0.9zM196.0,178.9h0.9v0.9h-0.9zM204.8,181.0h0.9v0.9h-0.9zM201.9,180.8h0.9v0.9h-0.9zM205.6,178.8h0.9v0.9h-0.9zM205.5,179.6h0.9v0.9h-0.9zM205.4,182.4h0.9v0.9h-0.9zM204.2,181.6h0.9v0.9h-0.9zM204.3,178.7h0.9v0.9h-0.9zM192.1,157.1h0.9v0.9h-0.9zM202.1,175.0h0.9v0.9h-0.9zM199.2,177.8h0.9v0.9h-0.9zM203.7,181.3h0.9v0.9h-0.9zM196.7,167.9h0.9v0.9h-0.9zM204.0,175.3h0.9v0.9h-0.9zM202.5,178.0h0.9v0.9h-0.9zM202.2,180.9h0.9v0.9h-0.9zM203.8,180.9h0.9v0.9h-0.9zM202.8,181.1h0.9v0.9h-0.9zM204.4,181.3h0.9v0.9h-0.9zM205.6,172.2h0.9v0.9h-0.9zM203.1,178.9h0.9v0.9h-0.9zM204.8,183.2h0.9v0.9h-0.9zM204.0,176.2h0.9v0.9h-0.9zM193.7,180.8h0.9v0.9h-0.9zM201.8,183.2h0.9v0.9h-0.9zM201.9,159.4h0.9v0.9h-0.9zM199.2,180.0h0.9v0.9h-0.9zM205.3,179.4h0.9v0.9h-0.9zM204.2,182.1h0.9v0.9h-0.9zM204.8,181.5h0.9v0.9h-0.9zM204.5,180.8h0.9v0.9h-0.9zM201.6,172.3h0.9v0.9h-0.9zM204.7,175.7h0.9v0.9h-0.9zM201.6,182.7h0.9v0.9h-0.9zM196.6,181.4h0.9v0.9h-0.9zM204.7,178.9h0.9v0.9h-0.9zM201.2,169.5h0.9v0.9h-0.9zM203.9,175.7h0.9v0.9h-0.9zM203.4,177.3h0.9v0.9h-0.9zM205.3,180.8h0.9v0.9h-0.9zM201.4,181.2h0.9v0.9h-0.9zM201.7,181.8h0.9v0.9h-0.9zM205.5,169.1h0.9v0.9h-0.9zM186.7,183.0h0.9v0.9h-0.9zM200.1,181.5h0.9v0.9h-0.9zM204.9,182.3h0.9v0.9h-0.9zM205.2,174.2h0.9v0.9h-0.9zM202.3,178.5h0.9v0.9h-0.9zM201.0,178.5h0.9v0.9h-0.9zM199.8,181.6h0.9v0.9h-0.9zM199.4,175.3h0.9v0.9h-0.9zM199.2,162.6h0.9v0.9h-0.9zM204.2,179.0h0.9v0.9h-0.9zM205.0,183.4h0.9v0.9h-0.9zM201.0,175.3h0.9v0.9h-0.9zM186.0,181.8h0.9v0.9h-0.9zM205.2,183.5h0.9v0.9h-0.9zM205.3,179.5h0.9v0.9h-0.9zM204.7,168.1h0.9v0.9h-0.9zM204.9,182.1h0.9v0.9h-0.9zM194.7,182.8h0.9v0.9h-0.9zM199.1,181.5h0.9v0.9h-0.9zM202.6,178.0h0.9v0.9h-0.9zM198.7,180.2h0.9v0.9h-0.9zM195.5,182.6h0.9v0.9h-0.9zM205.3,177.8h0.9v0.9h-0.9zM197.0,183.0h0.9v0.9h-0.9zM203.3,169.2h0.9v0.9h-0.9zM201.4,182.2h0.9v0.9h-0.9zM204.3,180.5h0.9v0.9h-0.9zM204.6,175.5h0.9v0.9h-0.9zM204.1,155.2h0.9v0.9h-0.9zM202.0,182.2h0.9v0.9h-0.9zM196.9,181.5h0.9v0.9h-0.9zM198.2,181.7h0.9v0.9h-0.9zM202.7,171.5h0.9v0.9h-0.9zM200.7,178.4h0.9v0.9h-0.9zM201.9,171.8h0.9v0.9h-0.9zM196.4,180.7h0.9v0.9h-0.9zM197.0,182.0h0.9v0.9h-0.9zM183.0,181.8h0.9v0.9h-0.9zM205.1,163.6h0.9v0.9h-0.9zM195.2,182.3h0.9v0.9h-0.9zM205.2,182.2h0.9v0.9h-0.9zM205.2,180.8h0.9v0.9h-0.9zM200.2,171.3h0.9v0.9h-0.9zM205.5,181.7h0.9v0.9h-0.9zM200.6,183.2h0.9v0.9h-0.9zM204.5,180.6h0.9v0.9h-0.9zM205.5,157.8h0.9v0.9h-0.9zM196.5,182.7h0.9v0.9h-0.9zM205.0,180.6h0.9v0.9h-0.9zM200.6,182.3h0.9v0.9h-0.9zM202.6,182.9h0.9v0.9h-0.9zM202.7,169.7h0.9v0.9h-0.9zM204.6,164.2h0.9v0.9h-0.9zM199.9,181.9h0.9v0.9h-0.9zM204.3,183.4h0.9v0.9h-0.9zM202.5,180.5h0.9v0.9h-0.9zM203.7,183.2h0.9v0.9h-0.9zM201.0,179.0h0.9v0.9h-0.9zM200.6,160.9h0.9v0.9h-0.9zM200.2,180.7h0.9v0.9h-0.9zM203.3,163.6h0.9v0.9h-0.9zM203.5,180.8h0.9v0.9h-0.9zM178.0,183.3h0.9v0.9h-0.9zM194.4,181.7h0.9v0.9h-0.9zM201.6,165.4h0.9v0.9h-0.9zM199.7,173.1h0.9v0.9h-0.9zM200.3,135.1h0.9v0.9h-0.9zM203.0,174.7h0.9v0.9h-0.9zM203.7,149.7h0.9v0.9h-0.9zM197.9,158.3h0.9v0.9h-0.9zM201.6,167.5h0.9v0.9h-0.9zM201.8,145.6h0.9v0.9h-0.9zM205.4,133.5h0.9v0.9h-0.9zM202.0,60.3h0.9v0.9h-0.9zM205.1,169.9h0.9v0.9h-0.9zM205.3,165.3h0.9v0.9h-0.9zM204.6,148.4h0.9v0.9h-0.9zM199.4,154.9h0.9v0.9h-0.9zM203.6,150.9h0.9v0.9h-0.9zM197.9,158.6h0.9v0.9h-0.9zM203.5,170.2h0.9v0.9h-0.9zM203.3,123.1h0.9v0.9h-0.9zM202.4,161.7h0.9v0.9h-0.9zM205.3,161.6h0.9v0.9h-0.9zM197.4,170.3h0.9v0.9h-0.9zM196.4,159.2h0.9v0.9h-0.9zM204.0,159.5h0.9v0.9h-0.9zM202.7,169.8h0.9v0.9h-0.9zM200.3,171.6h0.9v0.9h-0.9zM204.7,153.3h0.9v0.9h-0.9zM197.0,137.1h0.9v0.9h-0.9zM205.5,174.8h0.9v0.9h-0.9zM199.0,165.2h0.9v0.9h-0.9zM204.6,172.9h0.9v0.9h-0.9zM201.7,172.1h0.9v0.9h-0.9zM200.3,166.1h0.9v0.9h-0.9zM205.0,140.0h0.9v0.9h-0.9zM202.2,173.8h0.9v0.9h-0.9zM197.1,164.7h0.9v0.9h-0.9zM201.8,162.7h0.9v0.9h-0.9zM200.2,161.5h0.9v0.9h-0.9zM204.6,172.2h0.9v0.9h-0.9zM204.2,150.7h0.9v0.9h-0.9zM199.0,169.8h0.9v0.9h-0.9zM203.3,165.6h0.9v0.9h-0.9zM199.2,175.4h0.9v0.9h-0.9zM202.7,170.9h0.9v0.9h-0.9zM202.2,171.5h0.9v0.9h-0.9zM202.1,147.9h0.9v0.9h-0.9zM199.1,169.7h0.9v0.9h-0.9zM198.1,136.3h0.9v0.9h-0.9zM199.4,132.7h0.9v0.9h-0.9zM204.7,170.8h0.9v0.9h-0.9zM199.3,154.6h0.9v0.9h-0.9zM198.6,165.6h0.9v0.9h-0.9zM200.8,165.7h0.9v0.9h-0.9zM202.6,148.4h0.9v0.9h-0.9zM198.8,152.8h0.9v0.9h-0.9zM203.5,139.2h0.9v0.9h-0.9zM199.4,156.8h0.9v0.9h-0.9zM198.9,118.9h0.9v0.9h-0.9zM194.2,148.4h0.9v0.9h-0.9zM203.1,165.6h0.9v0.9h-0.9zM204.1,174.2h0.9v0.9h-0.9zM204.4,144.8h0.9v0.9h-0.9zM199.2,160.7h0.9v0.9h-0.9zM201.7,124.9h0.9v0.9h-0.9zM202.4,156.0h0.9v0.9h-0.9zM203.9,162.1h0.9v0.9h-0.9zM200.4,164.0h0.9v0.9h-0.9zM199.2,161.7h0.9v0.9h-0.9zM203.8,160.9h0.9v0.9h-0.9zM199.7,160.0h0.9v0.9h-0.9zM205.5,146.1h0.9v0.9h-0.9zM197.3,164.5h0.9v0.9h-0.9zM200.6,158.0h0.9v0.9h-0.9zM201.5,143.5h0.9v0.9h-0.9zM203.2,170.3h0.9v0.9h-0.9zM201.2,174.0h0.9v0.9h-0.9zM203.0,173.8h0.9v0.9h-0.9zM202.7,145.0h0.9v0.9h-0.9zM202.1,150.7h0.9v0.9h-0.9zM202.7,148.5h0.9v0.9h-0.9zM201.6,150.0h0.9v0.9h-0.9zM200.3,163.9h0.9v0.9h-0.9zM204.1,138.5h0.9v0.9h-0.9zM200.1,130.6h0.9v0.9h-0.9zM199.6,159.7h0.9v0.9h-0.9zM199.3,175.7h0.9v0.9h-0.9zM201.9,169.1h0.9v0.9h-0.9zM201.9,167.5h0.9v0.9h-0.9zM195.8,158.0h0.9v0.9h-0.9zM202.6,160.1h0.9v0.9h-0.9zM201.3,167.8h0.9v0.9h-0.9zM199.8,131.5h0.9v0.9h-0.9zM203.9,169.3h0.9v0.9h-0.9zM198.2,170.8h0.9v0.9h-0.9zM200.5,165.5h0.9v0.9h-0.9zM205.5,162.1h0.9v0.9h-0.9zM201.5,165.8h0.9v0.9h-0.9zM199.7,140.2h0.9v0.9h-0.9zM195.3,157.9h0.9v0.9h-0.9zM203.2,174.6h0.9v0.9h-0.9zM198.3,164.2h0.9v0.9h-0.9zM202.8,157.5h0.9v0.9h-0.9zM199.6,140.8h0.9v0.9h-0.9zM203.1,168.2h0.9v0.9h-0.9zM204.2,156.1h0.9v0.9h-0.9zM198.7,162.5h0.9v0.9h-0.9zM203.0,129.5h0.9v0.9h-0.9zM205.5,174.5h0.9v0.9h-0.9zM200.0,174.7h0.9v0.9h-0.9zM198.1,132.1h0.9v0.9h-0.9zM200.0,171.4h0.9v0.9h-0.9zM204.5,119.6h0.9v0.9h-0.9zM203.8,160.6h0.9v0.9h-0.9zM202.9,151.2h0.9v0.9h-0.9zM204.0,170.6h0.9v0.9h-0.9zM197.6,135.7h0.9v0.9h-0.9zM196.4,170.7h0.9v0.9h-0.9zM197.4,173.5h0.9v0.9h-0.9zM198.8,109.5h0.9v0.9h-0.9zM203.0,164.0h0.9v0.9h-0.9zM203.7,123.8h0.9v0.9h-0.9zM179.1,182.5h0.9v0.9h-0.9zM194.2,174.3h0.9v0.9h-0.9zM194.6,169.3h0.9v0.9h-0.9zM188.6,181.7h0.9v0.9h-0.9zM181.6,180.7h0.9v0.9h-0.9zM182.1,182.5h0.9v0.9h-0.9zM173.7,180.7h0.9v0.9h-0.9zM175.4,182.5h0.9v0.9h-0.9zM176.4,152.5h0.9v0.9h-0.9zM186.2,183.5h0.9v0.9h-0.9zM186.5,175.6h0.9v0.9h-0.9zM190.2,177.5h0.9v0.9h-0.9zM219.6,179.8h0.9v0.9h-0.9zM222.4,177.5h0.9v0.9h-0.9zM229.6,182.3h0.9v0.9h-0.9zM252.3,168.0h0.9v0.9h-0.9zM221.1,180.8h0.9v0.9h-0.9zM223.1,169.1h0.9v0.9h-0.9zM223.0,172.3h0.9v0.9h-0.9zM223.7,183.2h0.9v0.9h-0.9zM220.9,170.8h0.9v0.9h-0.9zM220.5,169.6h0.9v0.9h-0.9zM224.5,164.7h0.9v0.9h-0.9zM236.3,177.9h0.9v0.9h-0.9zM221.4,180.3h0.9v0.9h-0.9zM227.1,182.1h0.9v0.9h-0.9zM221.1,183.0h0.9v0.9h-0.9zM219.6,178.8h0.9v0.9h-0.9zM224.4,180.4h0.9v0.9h-0.9zM223.3,182.7h0.9v0.9h-0.9zM219.8,178.8h0.9v0.9h-0.9zM221.8,177.7h0.9v0.9h-0.9zM220.1,167.9h0.9v0.9h-0.9zM230.1,172.0h0.9v0.9h-0.9zM220.0,182.6h0.9v0.9h-0.9zM219.7,179.6h0.9v0.9h-0.9zM219.8,180.2h0.9v0.9h-0.9zM223.6,179.6h0.9v0.9h-0.9zM220.3,180.8h0.9v0.9h-0.9zM219.8,181.6h0.9v0.9h-0.9zM223.2,171.6h0.9v0.9h-0.9zM236.2,179.5h0.9v0.9h-0.9zM224.1,177.2h0.9v0.9h-0.9zM227.3,182.7h0.9v0.9h-0.9zM219.2,180.6h0.9v0.9h-0.9zM221.1,171.6h0.9v0.9h-0.9zM224.2,181.9h0.9v0.9h-0.9zM228.2,176.9h0.9v0.9h-0.9zM220.7,178.0h0.9v0.9h-0.9zM219.3,178.0h0.9v0.9h-0.9zM229.1,180.8h0.9v0.9h-0.9zM222.7,169.8h0.9v0.9h-0.9zM235.9,180.6h0.9v0.9h-0.9zM219.6,181.7h0.9v0.9h-0.9zM225.8,182.6h0.9v0.9h-0.9zM219.9,182.4h0.9v0.9h-0.9zM221.4,162.5h0.9v0.9h-0.9zM228.4,179.8h0.9v0.9h-0.9zM228.1,170.1h0.9v0.9h-0.9zM225.1,182.1h0.9v0.9h-0.9zM230.2,175.2h0.9v0.9h-0.9zM226.6,181.3h0.9v0.9h-0.9zM239.2,177.1h0.9v0.9h-0.9zM219.9,173.4h0.9v0.9h-0.9zM233.1,175.6h0.9v0.9h-0.9zM228.7,178.5h0.9v0.9h-0.9zM229.5,174.7h0.9v0.9h-0.9zM221.1,165.5h0.9v0.9h-0.9zM236.5,182.3h0.9v0.9h-0.9zM228.3,181.5h0.9v0.9h-0.9zM220.6,182.2h0.9v0.9h-0.9zM220.6,179.3h0.9v0.9h-0.9zM225.9,176.7h0.9v0.9h-0.9zM228.2,174.6h0.9v0.9h-0.9zM236.1,173.9h0.9v0.9h-0.9zM219.5,177.3h0.9v0.9h-0.9zM221.5,178.2h0.9v0.9h-0.9zM228.4,183.4h0.9v0.9h-0.9zM219.1,182.5h0.9v0.9h-0.9zM222.3,178.3h0.9v0.9h-0.9zM221.5,182.2h0.9v0.9h-0.9zM230.2,178.3h0.9v0.9h-0.9zM219.6,181.5h0.9v0.9h-0.9zM222.5,177.2h0.9v0.9h-0.9zM219.8,177.4h0.9v0.9h-0.9zM229.4,182.5h0.9v0.9h-0.9zM238.0,181.1h0.9v0.9h-0.9zM232.2,177.9h0.9v0.9h-0.9zM222.0,179.2h0.9v0.9h-0.9zM223.2,159.1h0.9v0.9h-0.9zM229.7,182.4h0.9v0.9h-0.9zM219.0,182.0h0.9v0.9h-0.9zM222.6,174.5h0.9v0.9h-0.9zM221.6,182.8h0.9v0.9h-0.9zM230.9,179.5h0.9v0.9h-0.9zM234.8,170.9h0.9v0.9h-0.9zM219.5,178.1h0.9v0.9h-0.9zM238.0,180.8h0.9v0.9h-0.9zM225.0,180.8h0.9v0.9h-0.9zM225.8,170.3h0.9v0.9h-0.9zM221.7,163.2h0.9v0.9h-0.9zM229.8,177.0h0.9v0.9h-0.9zM222.6,175.4h0.9v0.9h-0.9zM226.8,176.2h0.9v0.9h-0.9zM221.4,182.2h0.9v0.9h-0.9zM232.3,182.5h0.9v0.9h-0.9zM224.2,183.2h0.9v0.9h-0.9zM227.3,177.9h0.9v0.9h-0.9zM227.6,181.5h0.9v0.9h-0.9zM222.3,162.3h0.9v0.9h-0.9zM228.8,177.3h0.9v0.9h-0.9zM238.8,176.4h0.9v0.9h-0.9zM221.0,182.4h0.9v0.9h-0.9zM229.5,174.8h0.9v0.9h-0.9zM219.9,179.1h0.9v0.9h-0.9zM220.1,176.3h0.9v0.9h-0.9zM221.2,183.3h0.9v0.9h-0.9zM221.9,164.3h0.9v0.9h-0.9zM220.2,181.0h0.9v0.9h-0.9zM220.3,181.3h0.9v0.9h-0.9zM219.7,181.8h0.9v0.9h-0.9zM221.9,165.4h0.9v0.9h-0.9zM220.4,170.3h0.9v0.9h-0.9zM229.9,177.6h0.9v0.9h-0.9zM221.3,182.3h0.9v0.9h-0.9zM222.8,178.8h0.9v0.9h-0.9zM227.4,181.7h0.9v0.9h-0.9zM234.0,179.4h0.9v0.9h-0.9zM225.0,181.5h0.9v0.9h-0.9zM219.3,173.7h0.9v0.9h-0.9zM221.6,168.1h0.9v0.9h-0.9zM220.7,183.0h0.9v0.9h-0.9zM227.4,177.2h0.9v0.9h-0.9zM228.9,182.9h0.9v0.9h-0.9zM225.2,164.5h0.9v0.9h-0.9zM226.1,175.3h0.9v0.9h-0.9zM235.9,176.1h0.9v0.9h-0.9zM222.0,174.5h0.9v0.9h-0.9zM220.2,172.1h0.9v0.9h-0.9zM223.4,177.0h0.9v0.9h-0.9zM219.9,181.5h0.9v0.9h-0.9zM222.2,179.3h0.9v0.9h-0.9zM225.6,178.7h0.9v0.9h-0.9zM224.1,181.4h0.9v0.9h-0.9zM228.3,173.7h0.9v0.9h-0.9zM225.7,175.7h0.9v0.9h-0.9zM232.7,170.6h0.9v0.9h-0.9zM229.3,177.3h0.9v0.9h-0.9zM219.8,176.5h0.9v0.9h-0.9zM224.7,182.0h0.9v0.9h-0.9zM224.5,174.0h0.9v0.9h-0.9zM220.4,182.3h0.9v0.9h-0.9zM225.8,162.9h0.9v0.9h-0.9zM221.7,177.1h0.9v0.9h-0.9zM229.9,181.6h0.9v0.9h-0.9zM225.0,182.8h0.9v0.9h-0.9zM219.4,180.1h0.9v0.9h-0.9zM228.9,182.9h0.9v0.9h-0.9zM219.7,181.9h0.9v0.9h-0.9zM221.5,181.1h0.9v0.9h-0.9zM220.5,175.0h0.9v0.9h-0.9zM230.0,174.3h0.9v0.9h-0.9zM219.2,175.5h0.9v0.9h-0.9zM223.2,180.7h0.9v0.9h-0.9zM225.0,176.2h0.9v0.9h-0.9zM222.1,179.4h0.9v0.9h-0.9zM220.5,171.9h0.9v0.9h-0.9zM228.8,165.6h0.9v0.9h-0.9zM244.7,183.0h0.9v0.9h-0.9zM219.9,179.9h0.9v0.9h-0.9zM226.4,180.2h0.9v0.9h-0.9zM220.3,180.7h0.9v0.9h-0.9zM220.3,176.1h0.9v0.9h-0.9zM222.5,182.0h0.9v0.9h-0.9zM220.3,181.7h0.9v0.9h-0.9zM226.2,163.3h0.9v0.9h-0.9zM236.8,169.3h0.9v0.9h-0.9zM226.6,183.3h0.9v0.9h-0.9zM219.1,172.3h0.9v0.9h-0.9zM225.0,181.8h0.9v0.9h-0.9zM220.1,177.5h0.9v0.9h-0.9zM221.2,183.4h0.9v0.9h-0.9zM221.6,170.5h0.9v0.9h-0.9zM222.6,183.1h0.9v0.9h-0.9zM220.0,175.2h0.9v0.9h-0.9zM247.0,169.8h0.9v0.9h-0.9zM222.9,174.2h0.9v0.9h-0.9zM219.7,178.8h0.9v0.9h-0.9zM220.4,182.2h0.9v0.9h-0.9zM233.4,176.2h0.9v0.9h-0.9zM242.6,180.1h0.9v0.9h-0.9zM221.9,173.9h0.9v0.9h-0.9zM219.9,183.6h0.9v0.9h-0.9zM224.3,181.2h0.9v0.9h-0.9zM229.6,174.9h0.9v0.9h-0.9zM219.3,171.3h0.9v0.9h-0.9zM219.4,181.2h0.9v0.9h-0.9zM232.0,179.6h0.9v0.9h-0.9zM220.4,181.5h0.9v0.9h-0.9zM221.9,182.7h0.9v0.9h-0.9zM219.8,182.2h0.9v0.9h-0.9zM224.3,177.7h0.9v0.9h-0.9zM222.5,182.8h0.9v0.9h-0.9zM219.3,180.0h0.9v0.9h-0.9zM225.7,176.7h0.9v0.9h-0.9zM225.3,176.9h0.9v0.9h-0.9zM219.9,170.1h0.9v0.9h-0.9zM219.4,181.5h0.9v0.9h-0.9zM220.6,180.4h0.9v0.9h-0.9zM229.4,177.7h0.9v0.9h-0.9zM219.2,182.5h0.9v0.9h-0.9zM228.7,183.5h0.9v0.9h-0.9zM220.7,168.9h0.9v0.9h-0.9zM225.7,168.6h0.9v0.9h-0.9zM234.1,182.0h0.9v0.9h-0.9zM219.1,175.9h0.9v0.9h-0.9zM240.7,176.8h0.9v0.9h-0.9zM228.9,182.4h0.9v0.9h-0.9zM219.7,174.6h0.9v0.9h-0.9zM233.9,183.1h0.9v0.9h-0.9zM223.9,173.9h0.9v0.9h-0.9zM224.8,178.2h0.9v0.9h-0.9zM219.5,183.1h0.9v0.9h-0.9zM221.1,181.0h0.9v0.9h-0.9zM227.2,183.0h0.9v0.9h-0.9zM229.0,180.3h0.9v0.9h-0.9zM225.3,182.2h0.9v0.9h-0.9zM219.7,162.7h0.9v0.9h-0.9zM221.6,182.7h0.9v0.9h-0.9zM230.4,173.3h0.9v0.9h-0.9zM221.7,181.2h0.9v0.9h-0.9zM220.0,177.9h0.9v0.9h-0.9zM227.8,183.7h0.9v0.9h-0.9zM219.7,176.8h0.9v0.9h-0.9zM223.4,180.1h0.9v0.9h-0.9zM224.7,177.3h0.9v0.9h-0.9zM226.9,174.3h0.9v0.9h-0.9zM229.9,176.8h0.9v0.9h-0.9zM225.9,173.0h0.9v0.9h-0.9zM231.6,182.0h0.9v0.9h-0.9zM222.5,176.9h0.9v0.9h-0.9zM221.1,181.2h0.9v0.9h-0.9zM219.6,179.8h0.9v0.9h-0.9zM225.4,168.4h0.9v0.9h-0.9zM229.9,154.8h0.9v0.9h-0.9zM220.9,181.9h0.9v0.9h-0.9zM219.1,181.6h0.9v0.9h-0.9zM234.2,181.0h0.9v0.9h-0.9zM227.9,171.0h0.9v0.9h-0.9zM223.6,182.5h0.9v0.9h-0.9zM221.3,178.1h0.9v0.9h-0.9zM223.6,165.1h0.9v0.9h-0.9zM223.5,177.6h0.9v0.9h-0.9zM235.7,180.2h0.9v0.9h-0.9zM226.0,164.9h0.9v0.9h-0.9zM220.4,181.2h0.9v0.9h-0.9zM219.1,181.6h0.9v0.9h-0.9zM246.5,182.4h0.9v0.9h-0.9zM226.0,176.8h0.9v0.9h-0.9zM227.4,182.0h0.9v0.9h-0.9zM219.2,177.2h0.9v0.9h-0.9zM220.8,165.0h0.9v0.9h-0.9zM224.4,177.5h0.9v0.9h-0.9zM226.1,181.8h0.9v0.9h-0.9zM219.4,183.4h0.9v0.9h-0.9zM219.9,182.7h0.9v0.9h-0.9zM239.9,177.2h0.9v0.9h-0.9zM227.8,182.6h0.9v0.9h-0.9zM221.2,180.4h0.9v0.9h-0.9zM222.5,176.6h0.9v0.9h-0.9zM235.2,180.8h0.9v0.9h-0.9zM219.2,173.9h0.9v0.9h-0.9zM230.6,174.3h0.9v0.9h-0.9zM221.0,183.6h0.9v0.9h-0.9zM233.1,182.3h0.9v0.9h-0.9zM224.3,177.7h0.9v0.9h-0.9zM219.9,182.5h0.9v0.9h-0.9zM221.9,177.5h0.9v0.9h-0.9zM220.5,183.4h0.9v0.9h-0.9zM230.5,182.3h0.9v0.9h-0.9zM221.7,176.6h0.9v0.9h-0.9zM228.3,181.9h0.9v0.9h-0.9zM223.4,183.0h0.9v0.9h-0.9zM228.5,181.6h0.9v0.9h-0.9zM227.7,182.3h0.9v0.9h-0.9zM220.5,180.8h0.9v0.9h-0.9zM225.2,179.6h0.9v0.9h-0.9zM219.3,177.1h0.9v0.9h-0.9zM220.6,183.3h0.9v0.9h-0.9zM219.7,179.8h0.9v0.9h-0.9zM219.6,182.7h0.9v0.9h-0.9zM220.1,182.0h0.9v0.9h-0.9zM219.8,183.1h0.9v0.9h-0.9zM222.8,168.2h0.9v0.9h-0.9zM219.4,181.8h0.9v0.9h-0.9zM224.0,171.8h0.9v0.9h-0.9zM230.7,182.4h0.9v0.9h-0.9zM223.5,182.2h0.9v0.9h-0.9zM231.0,182.4h0.9v0.9h-0.9zM220.8,169.3h0.9v0.9h-0.9zM226.9,183.0h0.9v0.9h-0.9zM221.3,182.0h0.9v0.9h-0.9zM221.7,182.3h0.9v0.9h-0.9zM222.9,182.7h0.9v0.9h-0.9zM225.4,179.8h0.9v0.9h-0.9zM222.8,176.0h0.9v0.9h-0.9zM220.6,179.5h0.9v0.9h-0.9zM225.3,182.3h0.9v0.9h-0.9zM236.5,175.7h0.9v0.9h-0.9zM221.8,170.8h0.9v0.9h-0.9zM220.5,178.1h0.9v0.9h-0.9zM219.5,182.4h0.9v0.9h-0.9zM222.5,182.8h0.9v0.9h-0.9zM227.3,178.2h0.9v0.9h-0.9zM222.1,177.5h0.9v0.9h-0.9zM236.8,182.0h0.9v0.9h-0.9zM223.3,167.1h0.9v0.9h-0.9zM247.9,178.3h0.9v0.9h-0.9zM229.8,181.8h0.9v0.9h-0.9zM222.7,181.6h0.9v0.9h-0.9zM221.3,180.7h0.9v0.9h-0.9zM225.6,183.4h0.9v0.9h-0.9zM220.1,174.1h0.9v0.9h-0.9zM224.6,181.8h0.9v0.9h-0.9zM224.0,176.8h0.9v0.9h-0.9zM220.7,182.3h0.9v0.9h-0.9zM220.0,182.6h0.9v0.9h-0.9zM224.2,171.8h0.9v0.9h-0.9zM220.6,182.3h0.9v0.9h-0.9zM222.6,180.2h0.9v0.9h-0.9zM225.5,172.2h0.9v0.9h-0.9zM220.9,167.8h0.9v0.9h-0.9zM219.3,170.2h0.9v0.9h-0.9zM219.1,181.7h0.9v0.9h-0.9zM239.4,172.2h0.9v0.9h-0.9zM223.5,172.8h0.9v0.9h-0.9zM225.4,179.8h0.9v0.9h-0.9zM220.7,177.4h0.9v0.9h-0.9zM228.7,170.4h0.9v0.9h-0.9zM220.3,182.6h0.9v0.9h-0.9zM224.1,182.1h0.9v0.9h-0.9zM220.8,182.0h0.9v0.9h-0.9zM223.5,177.5h0.9v0.9h-0.9zM227.1,178.0h0.9v0.9h-0.9zM225.7,175.0h0.9v0.9h-0.9zM222.9,177.0h0.9v0.9h-0.9zM225.3,181.9h0.9v0.9h-0.9zM228.2,182.0h0.9v0.9h-0.9zM238.0,182.2h0.9v0.9h-0.9zM238.6,170.9h0.9v0.9h-0.9zM227.0,180.8h0.9v0.9h-0.9zM227.7,182.9h0.9v0.9h-0.9zM220.5,182.1h0.9v0.9h-0.9zM219.9,180.6h0.9v0.9h-0.9zM219.5,178.2h0.9v0.9h-0.9zM224.2,180.8h0.9v0.9h-0.9zM222.4,182.4h0.9v0.9h-0.9zM219.1,177.5h0.9v0.9h-0.9zM221.8,165.1h0.9v0.9h-0.9zM229.8,177.6h0.9v0.9h-0.9zM226.3,165.0h0.9v0.9h-0.9zM227.7,181.6h0.9v0.9h-0.9zM229.3,178.1h0.9v0.9h-0.9zM231.5,178.8h0.9v0.9h-0.9zM219.1,179.0h0.9v0.9h-0.9zM220.9,183.4h0.9v0.9h-0.9zM220.1,177.2h0.9v0.9h-0.9zM220.6,181.5h0.9v0.9h-0.9zM245.2,183.6h0.9v0.9h-0.9zM235.4,164.4h0.9v0.9h-0.9zM221.5,179.5h0.9v0.9h-0.9zM222.2,180.0h0.9v0.9h-0.9zM219.3,183.2h0.9v0.9h-0.9zM219.6,177.9h0.9v0.9h-0.9zM220.8,174.6h0.9v0.9h-0.9zM221.5,179.9h0.9v0.9h-0.9zM234.9,179.2h0.9v0.9h-0.9zM220.0,177.0h0.9v0.9h-0.9zM226.6,181.7h0.9v0.9h-0.9zM228.7,182.8h0.9v0.9h-0.9zM220.3,176.4h0.9v0.9h-0.9zM228.4,182.3h0.9v0.9h-0.9zM225.5,179.1h0.9v0.9h-0.9zM220.3,178.9h0.9v0.9h-0.9zM225.0,182.1h0.9v0.9h-0.9zM222.3,179.0h0.9v0.9h-0.9zM219.2,176.5h0.9v0.9h-0.9zM221.1,177.6h0.9v0.9h-0.9zM224.7,170.9h0.9v0.9h-0.9zM221.2,177.6h0.9v0.9h-0.9zM220.0,181.8h0.9v0.9h-0.9zM229.5,176.1h0.9v0.9h-0.9zM228.5,181.5h0.9v0.9h-0.9zM226.7,183.0h0.9v0.9h-0.9zM219.6,183.1h0.9v0.9h-0.9zM220.0,168.3h0.9v0.9h-0.9zM222.7,182.5h0.9v0.9h-0.9zM223.2,179.5h0.9v0.9h-0.9zM226.6,179.0h0.9v0.9h-0.9zM219.7,183.1h0.9v0.9h-0.9zM223.0,181.7h0.9v0.9h-0.9zM220.5,181.3h0.9v0.9h-0.9zM226.5,175.4h0.9v0.9h-0.9zM222.6,168.6h0.9v0.9h-0.9zM224.8,182.8h0.9v0.9h-0.9zM225.1,182.0h0.9v0.9h-0.9zM242.8,170.5h0.9v0.9h-0.9zM222.8,178.2h0.9v0.9h-0.9zM219.4,175.5h0.9v0.9h-0.9zM222.5,183.0h0.9v0.9h-0.9zM219.6,165.5h0.9v0.9h-0.9zM221.0,175.7h0.9v0.9h-0.9zM219.7,183.3h0.9v0.9h-0.9zM223.6,173.8h0.9v0.9h-0.9zM220.1,175.5h0.9v0.9h-0.9zM221.5,182.9h0.9v0.9h-0.9zM240.4,182.9h0.9v0.9h-0.9zM227.1,170.8h0.9v0.9h-0.9zM222.8,166.1h0.9v0.9h-0.9zM221.0,179.8h0.9v0.9h-0.9zM226.9,182.9h0.9v0.9h-0.9zM238.1,182.5h0.9v0.9h-0.9zM221.5,182.0h0.9v0.9h-0.9zM222.8,158.0h0.9v0.9h-0.9zM230.6,181.5h0.9v0.9h-0.9zM227.2,181.4h0.9v0.9h-0.9zM222.3,173.6h0.9v0.9h-0.9zM224.1,183.1h0.9v0.9h-0.9zM224.6,170.4h0.9v0.9h-0.9zM221.4,172.8h0.9v0.9h-0.9zM220.9,181.0h0.9v0.9h-0.9zM221.6,181.1h0.9v0.9h-0.9zM220.5,170.3h0.9v0.9h-0.9zM225.1,171.2h0.9v0.9h-0.9zM220.7,169.3h0.9v0.9h-0.9zM247.0,176.0h0.9v0.9h-0.9zM229.1,181.7h0.9v0.9h-0.9zM221.9,173.6h0.9v0.9h-0.9zM223.6,180.9h0.9v0.9h-0.9zM221.5,172.9h0.9v0.9h-0.9zM231.7,182.2h0.9v0.9h-0.9zM227.2,177.1h0.9v0.9h-0.9zM219.3,172.1h0.9v0.9h-0.9zM222.6,180.9h0.9v0.9h-0.9zM228.1,172.4h0.9v0.9h-0.9zM221.5,182.1h0.9v0.9h-0.9zM221.4,183.0h0.9v0.9h-0.9zM220.5,183.3h0.9v0.9h-0.9zM227.1,182.2h0.9v0.9h-0.9zM222.1,174.1h0.9v0.9h-0.9zM221.2,177.6h0.9v0.9h-0.9zM222.8,170.6h0.9v0.9h-0.9zM221.2,172.0h0.9v0.9h-0.9zM219.7,178.3h0.9v0.9h-0.9zM223.4,179.8h0.9v0.9h-0.9zM231.7,177.6h0.9v0.9h-0.9zM221.7,180.6h0.9v0.9h-0.9zM226.1,182.3h0.9v0.9h-0.9zM219.2,178.5h0.9v0.9h-0.9zM226.6,180.6h0.9v0.9h-0.9zM223.4,173.7h0.9v0.9h-0.9zM221.6,181.8h0.9v0.9h-0.9zM228.7,181.7h0.9v0.9h-0.9zM248.3,180.4h0.9v0.9h-0.9zM226.4,169.0h0.9v0.9h-0.9zM221.2,181.0h0.9v0.9h-0.9zM220.2,179.0h0.9v0.9h-0.9zM225.6,182.2h0.9v0.9h-0.9zM220.2,170.1h0.9v0.9h-0.9zM227.6,172.4h0.9v0.9h-0.9zM234.5,182.5h0.9v0.9h-0.9zM223.2,170.5h0.9v0.9h-0.9zM237.6,179.1h0.9v0.9h-0.9zM223.9,182.4h0.9v0.9h-0.9zM228.8,180.3h0.9v0.9h-0.9zM220.8,181.7h0.9v0.9h-0.9zM223.3,180.3h0.9v0.9h-0.9zM219.0,180.9h0.9v0.9h-0.9zM227.3,182.1h0.9v0.9h-0.9zM223.4,182.3h0.9v0.9h-0.9zM233.1,182.1h0.9v0.9h-0.9zM226.7,175.6h0.9v0.9h-0.9zM226.4,181.4h0.9v0.9h-0.9zM234.5,182.7h0.9v0.9h-0.9zM222.5,183.2h0.9v0.9h-0.9zM228.6,177.5h0.9v0.9h-0.9zM222.7,177.4h0.9v0.9h-0.9zM221.5,175.6h0.9v0.9h-0.9zM220.3,182.5h0.9v0.9h-0.9zM224.8,181.7h0.9v0.9h-0.9zM220.5,183.2h0.9v0.9h-0.9zM221.3,179.8h0.9v0.9h-0.9zM222.9,179.8h0.9v0.9h-0.9zM223.0,167.5h0.9v0.9h-0.9zM220.3,178.8h0.9v0.9h-0.9zM220.1,182.8h0.9v0.9h-0.9zM239.5,180.7h0.9v0.9h-0.9zM222.3,180.9h0.9v0.9h-0.9zM222.0,182.2h0.9v0.9h-0.9zM224.1,183.1h0.9v0.9h-0.9zM226.8,180.9h0.9v0.9h-0.9zM234.2,180.6h0.9v0.9h-0.9zM221.1,178.8h0.9v0.9h-0.9zM227.0,167.3h0.9v0.9h-0.9zM221.7,172.7h0.9v0.9h-0.9zM224.3,177.3h0.9v0.9h-0.9zM236.4,179.1h0.9v0.9h-0.9zM220.2,182.4h0.9v0.9h-0.9zM228.7,183.4h0.9v0.9h-0.9zM222.9,179.7h0.9v0.9h-0.9zM232.5,181.0h0.9v0.9h-0.9zM234.9,177.8h0.9v0.9h-0.9zM221.4,180.6h0.9v0.9h-0.9zM228.2,181.8h0.9v0.9h-0.9zM221.9,180.6h0.9v0.9h-0.9zM223.6,181.8h0.9v0.9h-0.9zM229.3,182.3h0.9v0.9h-0.9zM219.1,182.6h0.9v0.9h-0.9zM228.8,182.7h0.9v0.9h-0.9zM219.4,181.5h0.9v0.9h-0.9zM226.6,169.8h0.9v0.9h-0.9zM223.8,169.7h0.9v0.9h-0.9zM234.5,180.5h0.9v0.9h-0.9zM227.3,172.7h0.9v0.9h-0.9zM219.6,171.9h0.9v0.9h-0.9zM224.5,163.1h0.9v0.9h-0.9zM219.3,183.1h0.9v0.9h-0.9zM226.4,178.2h0.9v0.9h-0.9zM220.1,182.2h0.9v0.9h-0.9zM225.7,164.3h0.9v0.9h-0.9zM242.2,180.4h0.9v0.9h-0.9zM220.8,181.6h0.9v0.9h-0.9zM250.7,176.9h0.9v0.9h-0.9zM220.2,182.6h0.9v0.9h-0.9zM227.0,183.0h0.9v0.9h-0.9zM225.8,183.3h0.9v0.9h-0.9zM228.4,178.7h0.9v0.9h-0.9zM231.8,178.5h0.9v0.9h-0.9zM222.0,167.3h0.9v0.9h-0.9zM233.8,179.2h0.9v0.9h-0.9zM220.2,180.6h0.9v0.9h-0.9zM219.0,174.3h0.9v0.9h-0.9zM223.3,183.1h0.9v0.9h-0.9zM222.2,177.3h0.9v0.9h-0.9zM226.8,180.1h0.9v0.9h-0.9zM237.7,168.8h0.9v0.9h-0.9zM221.3,181.0h0.9v0.9h-0.9zM233.0,174.5h0.9v0.9h-0.9zM229.3,157.5h0.9v0.9h-0.9zM221.3,175.8h0.9v0.9h-0.9zM224.7,182.2h0.9v0.9h-0.9zM223.0,181.3h0.9v0.9h-0.9zM219.5,168.6h0.9v0.9h-0.9zM220.0,175.5h0.9v0.9h-0.9zM233.3,178.6h0.9v0.9h-0.9zM235.3,182.7h0.9v0.9h-0.9zM219.7,181.9h0.9v0.9h-0.9zM231.3,180.0h0.9v0.9h-0.9zM220.8,176.1h0.9v0.9h-0.9zM219.6,179.5h0.9v0.9h-0.9zM220.4,177.7h0.9v0.9h-0.9zM221.8,169.2h0.9v0.9h-0.9zM256.0,180.3h0.9v0.9h-0.9zM228.9,175.6h0.9v0.9h-0.9zM231.0,180.2h0.9v0.9h-0.9zM222.8,182.5h0.9v0.9h-0.9zM219.9,177.5h0.9v0.9h-0.9zM245.7,178.9h0.9v0.9h-0.9zM219.8,177.9h0.9v0.9h-0.9zM220.7,174.5h0.9v0.9h-0.9zM222.9,182.6h0.9v0.9h-0.9zM232.4,183.2h0.9v0.9h-0.9zM222.8,176.2h0.9v0.9h-0.9zM221.5,168.8h0.9v0.9h-0.9zM219.9,174.4h0.9v0.9h-0.9zM220.2,179.7h0.9v0.9h-0.9zM220.1,168.8h0.9v0.9h-0.9zM228.2,181.5h0.9v0.9h-0.9zM220.5,170.3h0.9v0.9h-0.9zM240.3,175.2h0.9v0.9h-0.9zM223.6,172.8h0.9v0.9h-0.9zM219.6,169.7h0.9v0.9h-0.9zM225.9,176.1h0.9v0.9h-0.9zM222.7,173.5h0.9v0.9h-0.9zM234.4,182.3h0.9v0.9h-0.9zM223.8,180.8h0.9v0.9h-0.9zM219.9,179.9h0.9v0.9h-0.9zM220.9,180.8h0.9v0.9h-0.9zM227.6,178.8h0.9v0.9h-0.9zM232.0,180.5h0.9v0.9h-0.9zM243.0,182.5h0.9v0.9h-0.9zM239.4,180.7h0.9v0.9h-0.9zM221.3,183.5h0.9v0.9h-0.9zM219.8,181.5h0.9v0.9h-0.9zM224.0,167.0h0.9v0.9h-0.9zM221.7,166.9h0.9v0.9h-0.9zM223.7,172.3h0.9v0.9h-0.9zM221.7,178.5h0.9v0.9h-0.9zM239.9,181.5h0.9v0.9h-0.9zM219.4,183.3h0.9v0.9h-0.9zM220.4,179.8h0.9v0.9h-0.9zM229.9,177.2h0.9v0.9h-0.9zM234.7,156.6h0.9v0.9h-0.9zM226.5,183.8h0.9v0.9h-0.9zM222.3,164.4h0.9v0.9h-0.9zM224.0,183.4h0.9v0.9h-0.9zM233.0,178.2h0.9v0.9h-0.9zM219.1,182.4h0.9v0.9h-0.9zM229.7,182.5h0.9v0.9h-0.9zM220.9,171.7h0.9v0.9h-0.9zM221.3,164.8h0.9v0.9h-0.9zM226.2,182.8h0.9v0.9h-0.9zM242.8,182.6h0.9v0.9h-0.9zM220.9,182.6h0.9v0.9h-0.9zM225.5,166.1h0.9v0.9h-0.9zM249.3,177.9h0.9v0.9h-0.9zM220.1,176.2h0.9v0.9h-0.9zM221.7,170.9h0.9v0.9h-0.9zM219.9,182.7h0.9v0.9h-0.9zM224.3,174.8h0.9v0.9h-0.9zM223.2,178.7h0.9v0.9h-0.9zM222.2,179.5h0.9v0.9h-0.9zM219.4,180.6h0.9v0.9h-0.9zM227.5,181.6h0.9v0.9h-0.9zM220.7,182.9h0.9v0.9h-0.9zM221.9,180.9h0.9v0.9h-0.9zM220.5,177.0h0.9v0.9h-0.9zM222.6,179.2h0.9v0.9h-0.9zM224.6,182.6h0.9v0.9h-0.9zM219.5,181.5h0.9v0.9h-0.9zM225.3,180.5h0.9v0.9h-0.9zM223.3,168.4h0.9v0.9h-0.9zM220.0,181.5h0.9v0.9h-0.9zM233.4,176.7h0.9v0.9h-0.9zM220.1,183.4h0.9v0.9h-0.9zM230.3,177.9h0.9v0.9h-0.9zM224.9,183.1h0.9v0.9h-0.9zM221.5,182.6h0.9v0.9h-0.9zM226.6,179.7h0.9v0.9h-0.9zM225.6,180.1h0.9v0.9h-0.9zM219.6,171.0h0.9v0.9h-0.9zM220.5,180.8h0.9v0.9h-0.9zM219.6,176.6h0.9v0.9h-0.9zM221.4,181.6h0.9v0.9h-0.9zM220.5,180.4h0.9v0.9h-0.9zM222.4,182.8h0.9v0.9h-0.9zM223.7,157.4h0.9v0.9h-0.9zM219.6,179.6h0.9v0.9h-0.9zM220.3,177.3h0.9v0.9h-0.9zM228.9,181.2h0.9v0.9h-0.9zM229.1,180.2h0.9v0.9h-0.9zM223.0,182.5h0.9v0.9h-0.9zM226.2,178.3h0.9v0.9h-0.9zM219.3,176.3h0.9v0.9h-0.9zM219.7,181.6h0.9v0.9h-0.9zM224.2,176.5h0.9v0.9h-0.9zM226.1,180.7h0.9v0.9h-0.9zM220.9,162.4h0.9v0.9h-0.9zM219.0,182.7h0.9v0.9h-0.9zM231.0,178.1h0.9v0.9h-0.9zM231.3,176.8h0.9v0.9h-0.9zM221.9,177.7h0.9v0.9h-0.9zM219.3,180.7h0.9v0.9h-0.9zM252.7,181.0h0.9v0.9h-0.9zM228.3,172.3h0.9v0.9h-0.9zM239.9,177.4h0.9v0.9h-0.9zM224.0,182.2h0.9v0.9h-0.9zM223.0,181.2h0.9v0.9h-0.9zM223.3,178.7h0.9v0.9h-0.9zM220.9,179.6h0.9v0.9h-0.9zM222.3,177.7h0.9v0.9h-0.9zM223.6,181.4h0.9v0.9h-0.9zM226.3,175.0h0.9v0.9h-0.9zM220.7,169.1h0.9v0.9h-0.9zM221.8,181.6h0.9v0.9h-0.9zM226.4,174.0h0.9v0.9h-0.9zM226.9,182.1h0.9v0.9h-0.9zM221.7,181.5h0.9v0.9h-0.9zM227.4,176.4h0.9v0.9h-0.9zM220.6,174.8h0.9v0.9h-0.9zM225.8,177.7h0.9v0.9h-0.9zM220.9,183.2h0.9v0.9h-0.9zM219.2,165.4h0.9v0.9h-0.9zM225.7,164.5h0.9v0.9h-0.9zM220.6,181.5h0.9v0.9h-0.9zM228.5,176.1h0.9v0.9h-0.9zM221.8,181.7h0.9v0.9h-0.9zM226.5,170.7h0.9v0.9h-0.9zM231.1,180.3h0.9v0.9h-0.9zM221.3,163.5h0.9v0.9h-0.9zM220.0,181.2h0.9v0.9h-0.9zM230.5,180.9h0.9v0.9h-0.9zM232.3,180.6h0.9v0.9h-0.9zM227.9,181.1h0.9v0.9h-0.9zM233.0,180.3h0.9v0.9h-0.9zM224.4,182.2h0.9v0.9h-0.9zM222.0,181.2h0.9v0.9h-0.9zM221.8,175.7h0.9v0.9h-0.9zM225.8,178.3h0.9v0.9h-0.9zM219.1,177.1h0.9v0.9h-0.9zM221.1,181.9h0.9v0.9h-0.9zM233.4,181.9h0.9v0.9h-0.9zM224.1,181.6h0.9v0.9h-0.9zM221.4,177.6h0.9v0.9h-0.9zM223.3,182.9h0.9v0.9h-0.9zM221.2,180.5h0.9v0.9h-0.9zM233.0,182.3h0.9v0.9h-0.9zM220.6,172.9h0.9v0.9h-0.9zM224.3,181.2h0.9v0.9h-0.9zM228.5,174.4h0.9v0.9h-0.9zM228.0,179.4h0.9v0.9h-0.9zM219.3,181.0h0.9v0.9h-0.9zM224.9,174.9h0.9v0.9h-0.9zM223.8,180.5h0.9v0.9h-0.9zM219.7,181.5h0.9v0.9h-0.9zM222.5,156.4h0.9v0.9h-0.9zM222.7,182.5h0.9v0.9h-0.9zM219.6,183.0h0.9v0.9h-0.9zM222.4,179.7h0.9v0.9h-0.9zM226.3,179.0h0.9v0.9h-0.9zM220.1,179.5h0.9v0.9h-0.9zM221.8,172.8h0.9v0.9h-0.9zM231.6,181.1h0.9v0.9h-0.9zM224.7,179.0h0.9v0.9h-0.9zM219.5,166.4h0.9v0.9h-0.9zM219.7,177.5h0.9v0.9h-0.9zM221.4,180.9h0.9v0.9h-0.9zM221.5,180.1h0.9v0.9h-0.9zM221.7,180.8h0.9v0.9h-0.9zM225.5,177.4h0.9v0.9h-0.9zM222.1,181.7h0.9v0.9h-0.9zM222.7,173.7h0.9v0.9h-0.9zM226.9,183.5h0.9v0.9h-0.9zM238.4,177.0h0.9v0.9h-0.9zM223.1,180.1h0.9v0.9h-0.9zM220.1,177.5h0.9v0.9h-0.9zM220.8,178.0h0.9v0.9h-0.9zM224.7,182.4h0.9v0.9h-0.9zM221.3,179.3h0.9v0.9h-0.9zM223.0,178.4h0.9v0.9h-0.9zM221.2,177.1h0.9v0.9h-0.9zM224.8,175.0h0.9v0.9h-0.9zM220.5,179.9h0.9v0.9h-0.9zM224.0,175.8h0.9v0.9h-0.9zM222.6,163.9h0.9v0.9h-0.9zM225.3,182.7h0.9v0.9h-0.9zM219.2,168.1h0.9v0.9h-0.9zM226.8,181.4h0.9v0.9h-0.9zM220.2,173.7h0.9v0.9h-0.9zM219.1,171.3h0.9v0.9h-0.9zM229.6,177.0h0.9v0.9h-0.9zM230.9,181.8h0.9v0.9h-0.9zM221.5,183.4h0.9v0.9h-0.9zM219.4,182.9h0.9v0.9h-0.9zM219.8,182.6h0.9v0.9h-0.9zM221.0,169.2h0.9v0.9h-0.9zM231.2,158.2h0.9v0.9h-0.9zM228.5,181.2h0.9v0.9h-0.9zM229.0,176.4h0.9v0.9h-0.9zM219.6,169.1h0.9v0.9h-0.9zM224.7,172.8h0.9v0.9h-0.9zM226.2,179.7h0.9v0.9h-0.9zM222.7,181.8h0.9v0.9h-0.9zM221.0,175.6h0.9v0.9h-0.9zM220.7,177.0h0.9v0.9h-0.9zM220.5,181.7h0.9v0.9h-0.9zM221.8,179.5h0.9v0.9h-0.9zM219.2,175.5h0.9v0.9h-0.9zM231.5,181.2h0.9v0.9h-0.9zM221.6,176.0h0.9v0.9h-0.9zM222.1,179.6h0.9v0.9h-0.9zM234.0,179.9h0.9v0.9h-0.9zM228.3,182.0h0.9v0.9h-0.9zM221.6,174.5h0.9v0.9h-0.9zM220.9,177.9h0.9v0.9h-0.9zM221.8,178.9h0.9v0.9h-0.9zM222.5,183.2h0.9v0.9h-0.9zM220.8,173.6h0.9v0.9h-0.9zM224.5,178.3h0.9v0.9h-0.9zM228.0,181.2h0.9v0.9h-0.9zM228.3,176.9h0.9v0.9h-0.9zM222.4,176.9h0.9v0.9h-0.9zM220.3,182.9h0.9v0.9h-0.9zM223.3,182.7h0.9v0.9h-0.9zM231.1,181.0h0.9v0.9h-0.9zM220.2,178.9h0.9v0.9h-0.9zM222.9,179.2h0.9v0.9h-0.9zM223.2,173.8h0.9v0.9h-0.9zM235.0,182.5h0.9v0.9h-0.9zM227.8,178.7h0.9v0.9h-0.9zM220.5,175.2h0.9v0.9h-0.9zM226.8,181.9h0.9v0.9h-0.9zM225.3,180.9h0.9v0.9h-0.9zM219.4,177.6h0.9v0.9h-0.9zM220.0,178.8h0.9v0.9h-0.9zM219.6,173.1h0.9v0.9h-0.9zM219.3,182.2h0.9v0.9h-0.9zM220.7,182.9h0.9v0.9h-0.9zM220.7,181.5h0.9v0.9h-0.9zM221.8,174.7h0.9v0.9h-0.9zM219.7,182.4h0.9v0.9h-0.9zM221.4,182.6h0.9v0.9h-0.9zM228.1,153.5h0.9v0.9h-0.9zM219.2,175.7h0.9v0.9h-0.9zM235.0,180.8h0.9v0.9h-0.9zM219.5,167.1h0.9v0.9h-0.9zM222.5,180.0h0.9v0.9h-0.9zM229.7,180.1h0.9v0.9h-0.9zM222.1,171.3h0.9v0.9h-0.9zM225.5,178.9h0.9v0.9h-0.9zM224.1,181.8h0.9v0.9h-0.9zM231.0,183.0h0.9v0.9h-0.9zM231.8,162.7h0.9v0.9h-0.9zM224.9,177.6h0.9v0.9h-0.9zM222.8,182.8h0.9v0.9h-0.9zM226.5,176.5h0.9v0.9h-0.9zM225.2,177.4h0.9v0.9h-0.9zM219.1,180.3h0.9v0.9h-0.9zM224.5,181.4h0.9v0.9h-0.9zM225.7,181.3h0.9v0.9h-0.9zM221.2,178.8h0.9v0.9h-0.9zM219.7,176.5h0.9v0.9h-0.9zM235.5,183.1h0.9v0.9h-0.9zM221.8,182.4h0.9v0.9h-0.9zM223.2,180.8h0.9v0.9h-0.9zM223.4,181.1h0.9v0.9h-0.9zM221.9,180.5h0.9v0.9h-0.9zM239.8,181.1h0.9v0.9h-0.9zM229.7,180.4h0.9v0.9h-0.9zM221.0,183.1h0.9v0.9h-0.9zM222.6,172.2h0.9v0.9h-0.9zM222.5,175.7h0.9v0.9h-0.9zM220.0,179.4h0.9v0.9h-0.9zM235.7,171.1h0.9v0.9h-0.9zM223.9,180.8h0.9v0.9h-0.9zM222.5,170.0h0.9v0.9h-0.9zM224.3,176.9h0.9v0.9h-0.9zM234.5,182.9h0.9v0.9h-0.9zM226.5,183.4h0.9v0.9h-0.9zM219.8,180.3h0.9v0.9h-0.9zM220.0,182.4h0.9v0.9h-0.9zM219.6,182.2h0.9v0.9h-0.9zM219.9,174.0h0.9v0.9h-0.9zM220.7,181.6h0.9v0.9h-0.9zM219.3,176.3h0.9v0.9h-0.9zM236.4,180.4h0.9v0.9h-0.9zM230.9,183.2h0.9v0.9h-0.9zM226.1,178.4h0.9v0.9h-0.9zM221.0,179.9h0.9v0.9h-0.9zM222.4,181.5h0.9v0.9h-0.9zM221.1,181.5h0.9v0.9h-0.9zM219.5,174.5h0.9v0.9h-0.9zM220.6,182.7h0.9v0.9h-0.9zM223.2,176.5h0.9v0.9h-0.9zM222.2,171.3h0.9v0.9h-0.9zM242.8,170.7h0.9v0.9h-0.9zM236.2,181.5h0.9v0.9h-0.9zM224.7,181.7h0.9v0.9h-0.9zM225.3,174.2h0.9v0.9h-0.9zM219.5,172.7h0.9v0.9h-0.9zM220.8,178.4h0.9v0.9h-0.9zM222.7,176.8h0.9v0.9h-0.9zM225.5,182.8h0.9v0.9h-0.9zM225.3,177.4h0.9v0.9h-0.9zM220.3,165.8h0.9v0.9h-0.9zM222.3,180.7h0.9v0.9h-0.9zM227.1,177.7h0.9v0.9h-0.9zM224.1,179.7h0.9v0.9h-0.9zM236.9,164.8h0.9v0.9h-0.9zM248.4,179.7h0.9v0.9h-0.9zM220.7,175.8h0.9v0.9h-0.9zM235.7,173.2h0.9v0.9h-0.9zM220.9,174.9h0.9v0.9h-0.9zM221.2,180.6h0.9v0.9h-0.9zM230.1,173.0h0.9v0.9h-0.9zM220.1,182.4h0.9v0.9h-0.9zM220.4,181.5h0.9v0.9h-0.9zM220.0,176.7h0.9v0.9h-0.9zM230.3,180.9h0.9v0.9h-0.9zM221.2,181.8h0.9v0.9h-0.9zM219.1,180.4h0.9v0.9h-0.9zM219.1,172.6h0.9v0.9h-0.9zM219.0,165.9h0.9v0.9h-0.9zM220.8,183.6h0.9v0.9h-0.9zM226.4,178.6h0.9v0.9h-0.9zM220.7,181.2h0.9v0.9h-0.9zM221.8,158.1h0.9v0.9h-0.9zM219.8,173.4h0.9v0.9h-0.9zM226.4,174.1h0.9v0.9h-0.9zM223.8,174.5h0.9v0.9h-0.9zM223.7,181.8h0.9v0.9h-0.9zM220.3,176.6h0.9v0.9h-0.9zM228.1,177.9h0.9v0.9h-0.9zM234.3,174.1h0.9v0.9h-0.9zM221.4,169.0h0.9v0.9h-0.9zM219.6,181.0h0.9v0.9h-0.9zM235.1,177.6h0.9v0.9h-0.9zM235.6,175.2h0.9v0.9h-0.9zM222.7,175.7h0.9v0.9h-0.9zM219.7,177.8h0.9v0.9h-0.9zM220.7,176.8h0.9v0.9h-0.9zM219.8,182.6h0.9v0.9h-0.9zM221.4,166.6h0.9v0.9h-0.9zM222.5,174.6h0.9v0.9h-0.9zM220.1,164.0h0.9v0.9h-0.9zM219.5,180.5h0.9v0.9h-0.9zM222.9,180.1h0.9v0.9h-0.9zM222.2,172.8h0.9v0.9h-0.9zM224.3,182.1h0.9v0.9h-0.9zM223.1,180.5h0.9v0.9h-0.9zM223.2,181.2h0.9v0.9h-0.9zM253.0,182.3h0.9v0.9h-0.9zM219.1,183.2h0.9v0.9h-0.9zM222.3,173.3h0.9v0.9h-0.9zM239.3,173.4h0.9v0.9h-0.9zM224.2,183.4h0.9v0.9h-0.9zM220.8,178.4h0.9v0.9h-0.9zM223.7,180.8h0.9v0.9h-0.9zM222.1,182.6h0.9v0.9h-0.9zM228.7,178.7h0.9v0.9h-0.9zM224.5,171.7h0.9v0.9h-0.9zM227.5,182.8h0.9v0.9h-0.9zM225.6,181.3h0.9v0.9h-0.9zM229.5,171.2h0.9v0.9h-0.9zM224.2,180.9h0.9v0.9h-0.9zM227.6,178.3h0.9v0.9h-0.9zM223.7,168.8h0.9v0.9h-0.9zM233.7,178.4h0.9v0.9h-0.9zM219.2,180.0h0.9v0.9h-0.9zM226.8,164.2h0.9v0.9h-0.9zM222.9,177.8h0.9v0.9h-0.9zM226.3,167.6h0.9v0.9h-0.9zM221.3,172.3h0.9v0.9h-0.9zM228.4,183.1h0.9v0.9h-0.9zM228.7,182.0h0.9v0.9h-0.9zM220.5,176.7h0.9v0.9h-0.9zM224.6,181.2h0.9v0.9h-0.9zM237.5,174.7h0.9v0.9h-0.9zM220.7,179.5h0.9v0.9h-0.9zM221.5,174.7h0.9v0.9h-0.9zM223.9,174.9h0.9v0.9h-0.9zM219.1,181.7h0.9v0.9h-0.9zM235.5,182.1h0.9v0.9h-0.9zM222.0,178.7h0.9v0.9h-0.9zM219.4,181.5h0.9v0.9h-0.9zM219.9,181.2h0.9v0.9h-0.9zM224.2,182.4h0.9v0.9h-0.9zM223.2,182.3h0.9v0.9h-0.9zM229.3,181.7h0.9v0.9h-0.9zM229.0,182.4h0.9v0.9h-0.9zM231.1,174.1h0.9v0.9h-0.9zM227.7,175.1h0.9v0.9h-0.9zM229.7,160.5h0.9v0.9h-0.9zM229.8,169.6h0.9v0.9h-0.9zM225.9,176.8h0.9v0.9h-0.9zM224.0,181.8h0.9v0.9h-0.9zM223.7,182.3h0.9v0.9h-0.9zM232.2,181.7h0.9v0.9h-0.9zM225.7,182.5h0.9v0.9h-0.9zM227.7,181.7h0.9v0.9h-0.9zM221.0,175.3h0.9v0.9h-0.9zM229.1,182.8h0.9v0.9h-0.9zM221.6,172.0h0.9v0.9h-0.9zM219.5,176.0h0.9v0.9h-0.9zM225.6,183.1h0.9v0.9h-0.9zM225.5,172.1h0.9v0.9h-0.9zM222.6,183.4h0.9v0.9h-0.9zM220.7,174.7h0.9v0.9h-0.9zM228.2,179.1h0.9v0.9h-0.9zM219.8,180.9h0.9v0.9h-0.9zM221.0,176.2h0.9v0.9h-0.9zM221.4,181.3h0.9v0.9h-0.9zM225.1,179.9h0.9v0.9h-0.9zM234.3,168.0h0.9v0.9h-0.9zM224.0,172.7h0.9v0.9h-0.9zM220.8,182.8h0.9v0.9h-0.9zM227.8,182.5h0.9v0.9h-0.9zM247.0,179.9h0.9v0.9h-0.9zM230.0,171.3h0.9v0.9h-0.9zM219.8,177.6h0.9v0.9h-0.9zM234.4,177.6h0.9v0.9h-0.9zM223.3,181.6h0.9v0.9h-0.9zM222.8,169.7h0.9v0.9h-0.9zM234.6,179.5h0.9v0.9h-0.9zM219.9,169.3h0.9v0.9h-0.9zM231.4,180.1h0.9v0.9h-0.9zM219.2,172.8h0.9v0.9h-0.9zM221.8,173.9h0.9v0.9h-0.9zM227.4,180.0h0.9v0.9h-0.9zM220.3,174.4h0.9v0.9h-0.9zM219.6,162.6h0.9v0.9h-0.9zM221.8,180.4h0.9v0.9h-0.9zM232.3,167.3h0.9v0.9h-0.9zM221.7,183.1h0.9v0.9h-0.9zM223.4,178.6h0.9v0.9h-0.9zM243.3,180.6h0.9v0.9h-0.9zM222.2,182.0h0.9v0.9h-0.9zM224.4,179.2h0.9v0.9h-0.9zM220.7,181.3h0.9v0.9h-0.9zM222.5,162.0h0.9v0.9h-0.9zM220.4,183.4h0.9v0.9h-0.9zM221.5,174.7h0.9v0.9h-0.9zM220.6,175.1h0.9v0.9h-0.9zM223.6,179.6h0.9v0.9h-0.9zM219.4,177.2h0.9v0.9h-0.9zM221.9,169.3h0.9v0.9h-0.9zM221.2,183.0h0.9v0.9h-0.9zM225.4,182.4h0.9v0.9h-0.9zM223.0,183.0h0.9v0.9h-0.9zM224.9,181.6h0.9v0.9h-0.9zM220.6,182.5h0.9v0.9h-0.9zM229.1,179.9h0.9v0.9h-0.9zM221.6,174.3h0.9v0.9h-0.9zM225.4,180.6h0.9v0.9h-0.9zM220.3,163.2h0.9v0.9h-0.9zM223.6,178.1h0.9v0.9h-0.9zM221.4,181.7h0.9v0.9h-0.9zM219.1,179.9h0.9v0.9h-0.9zM228.2,176.6h0.9v0.9h-0.9zM220.6,176.9h0.9v0.9h-0.9zM226.7,180.8h0.9v0.9h-0.9zM224.1,173.7h0.9v0.9h-0.9zM221.9,160.1h0.9v0.9h-0.9zM231.6,183.2h0.9v0.9h-0.9zM221.9,175.5h0.9v0.9h-0.9zM220.4,174.9h0.9v0.9h-0.9zM227.5,180.1h0.9v0.9h-0.9zM227.8,182.1h0.9v0.9h-0.9zM219.0,181.6h0.9v0.9h-0.9zM227.7,177.9h0.9v0.9h-0.9zM226.9,177.6h0.9v0.9h-0.9zM223.6,178.2h0.9v0.9h-0.9zM220.3,181.5h0.9v0.9h-0.9zM219.6,180.9h0.9v0.9h-0.9zM224.2,182.2h0.9v0.9h-0.9zM219.7,176.0h0.9v0.9h-0.9zM219.6,181.8h0.9v0.9h-0.9zM220.9,171.2h0.9v0.9h-0.9zM221.0,175.6h0.9v0.9h-0.9zM223.9,181.4h0.9v0.9h-0.9zM237.8,183.5h0.9v0.9h-0.9zM221.3,182.2h0.9v0.9h-0.9zM232.7,183.0h0.9v0.9h-0.9zM221.2,183.0h0.9v0.9h-0.9zM220.9,182.4h0.9v0.9h-0.9zM221.7,183.0h0.9v0.9h-0.9zM220.7,178.7h0.9v0.9h-0.9zM221.2,179.1h0.9v0.9h-0.9zM226.7,180.8h0.9v0.9h-0.9zM228.4,178.9h0.9v0.9h-0.9zM221.4,182.3h0.9v0.9h-0.9zM224.6,182.5h0.9v0.9h-0.9zM232.1,183.1h0.9v0.9h-0.9zM220.6,178.9h0.9v0.9h-0.9zM221.6,179.5h0.9v0.9h-0.9zM220.3,178.0h0.9v0.9h-0.9zM243.3,182.1h0.9v0.9h-0.9zM219.3,181.9h0.9v0.9h-0.9zM220.0,179.5h0.9v0.9h-0.9zM228.5,182.7h0.9v0.9h-0.9zM230.8,182.9h0.9v0.9h-0.9zM227.7,179.6h0.9v0.9h-0.9zM221.5,180.2h0.9v0.9h-0.9zM221.5,164.4h0.9v0.9h-0.9zM220.3,178.7h0.9v0.9h-0.9zM219.7,172.8h0.9v0.9h-0.9zM227.3,178.7h0.9v0.9h-0.9zM238.1,182.6h0.9v0.9h-0.9zM226.7,181.2h0.9v0.9h-0.9zM222.2,176.1h0.9v0.9h-0.9zM235.3,180.5h0.9v0.9h-0.9zM222.8,174.4h0.9v0.9h-0.9zM223.7,183.3h0.9v0.9h-0.9zM219.5,172.5h0.9v0.9h-0.9zM222.3,162.9h0.9v0.9h-0.9zM237.8,182.8h0.9v0.9h-0.9zM226.8,178.7h0.9v0.9h-0.9zM234.5,180.1h0.9v0.9h-0.9zM229.1,182.0h0.9v0.9h-0.9zM234.4,182.0h0.9v0.9h-0.9zM219.9,154.3h0.9v0.9h-0.9zM220.4,182.2h0.9v0.9h-0.9zM225.6,178.9h0.9v0.9h-0.9zM222.2,167.7h0.9v0.9h-0.9zM222.3,182.7h0.9v0.9h-0.9zM219.7,166.2h0.9v0.9h-0.9zM226.9,183.0h0.9v0.9h-0.9zM223.1,180.0h0.9v0.9h-0.9zM223.3,174.8h0.9v0.9h-0.9zM231.5,180.6h0.9v0.9h-0.9zM220.6,179.9h0.9v0.9h-0.9zM224.1,171.2h0.9v0.9h-0.9zM223.3,158.9h0.9v0.9h-0.9zM219.1,181.4h0.9v0.9h-0.9zM219.8,180.8h0.9v0.9h-0.9zM234.2,179.5h0.9v0.9h-0.9zM226.2,176.0h0.9v0.9h-0.9zM221.2,176.5h0.9v0.9h-0.9zM223.9,178.2h0.9v0.9h-0.9zM220.1,180.8h0.9v0.9h-0.9zM228.8,162.7h0.9v0.9h-0.9zM220.4,182.6h0.9v0.9h-0.9zM227.2,177.4h0.9v0.9h-0.9zM223.4,178.5h0.9v0.9h-0.9zM225.3,177.5h0.9v0.9h-0.9zM223.1,175.6h0.9v0.9h-0.9zM219.8,180.4h0.9v0.9h-0.9zM222.4,179.0h0.9v0.9h-0.9zM222.0,180.4h0.9v0.9h-0.9zM240.4,183.3h0.9v0.9h-0.9zM226.7,180.7h0.9v0.9h-0.9zM224.4,181.1h0.9v0.9h-0.9zM219.1,171.7h0.9v0.9h-0.9zM221.0,180.1h0.9v0.9h-0.9zM219.4,170.9h0.9v0.9h-0.9zM220.7,181.6h0.9v0.9h-0.9zM228.6,180.0h0.9v0.9h-0.9zM220.6,174.3h0.9v0.9h-0.9zM230.7,182.7h0.9v0.9h-0.9zM244.3,176.5h0.9v0.9h-0.9zM219.9,182.9h0.9v0.9h-0.9zM219.4,174.2h0.9v0.9h-0.9zM222.8,170.8h0.9v0.9h-0.9zM224.8,182.8h0.9v0.9h-0.9zM222.3,181.5h0.9v0.9h-0.9zM226.9,182.9h0.9v0.9h-0.9zM221.5,178.9h0.9v0.9h-0.9zM222.5,174.4h0.9v0.9h-0.9zM226.6,180.8h0.9v0.9h-0.9zM237.2,181.1h0.9v0.9h-0.9zM219.7,180.4h0.9v0.9h-0.9zM225.1,181.5h0.9v0.9h-0.9zM219.8,179.1h0.9v0.9h-0.9zM221.2,177.8h0.9v0.9h-0.9zM223.3,181.7h0.9v0.9h-0.9zM220.9,175.3h0.9v0.9h-0.9zM220.8,179.9h0.9v0.9h-0.9zM220.1,182.5h0.9v0.9h-0.9zM220.4,181.3h0.9v0.9h-0.9zM227.6,180.6h0.9v0.9h-0.9zM222.0,174.9h0.9v0.9h-0.9zM222.3,169.6h0.9v0.9h-0.9zM241.9,179.2h0.9v0.9h-0.9zM221.9,181.9h0.9v0.9h-0.9zM232.0,180.8h0.9v0.9h-0.9zM222.7,179.5h0.9v0.9h-0.9zM220.2,181.0h0.9v0.9h-0.9zM223.7,183.2h0.9v0.9h-0.9zM222.4,183.2h0.9v0.9h-0.9zM220.4,173.8h0.9v0.9h-0.9zM221.4,182.0h0.9v0.9h-0.9zM221.0,180.8h0.9v0.9h-0.9zM228.3,176.5h0.9v0.9h-0.9zM225.4,183.1h0.9v0.9h-0.9zM220.1,181.7h0.9v0.9h-0.9zM229.4,178.6h0.9v0.9h-0.9zM220.7,161.2h0.9v0.9h-0.9zM221.5,182.8h0.9v0.9h-0.9zM220.8,173.4h0.9v0.9h-0.9zM225.4,180.7h0.9v0.9h-0.9zM221.1,183.1h0.9v0.9h-0.9zM228.8,162.1h0.9v0.9h-0.9zM225.9,181.8h0.9v0.9h-0.9zM219.5,160.7h0.9v0.9h-0.9zM224.7,181.3h0.9v0.9h-0.9zM222.4,168.9h0.9v0.9h-0.9zM220.1,177.8h0.9v0.9h-0.9zM223.3,182.0h0.9v0.9h-0.9zM219.7,182.6h0.9v0.9h-0.9zM223.3,179.8h0.9v0.9h-0.9zM226.8,171.1h0.9v0.9h-0.9zM219.3,174.0h0.9v0.9h-0.9zM221.3,182.5h0.9v0.9h-0.9zM228.1,182.8h0.9v0.9h-0.9zM230.4,177.3h0.9v0.9h-0.9zM226.0,174.8h0.9v0.9h-0.9zM220.0,177.6h0.9v0.9h-0.9zM219.9,182.5h0.9v0.9h-0.9zM219.8,180.7h0.9v0.9h-0.9zM223.8,180.3h0.9v0.9h-0.9zM219.6,180.9h0.9v0.9h-0.9zM231.0,169.2h0.9v0.9h-0.9zM223.6,174.8h0.9v0.9h-0.9zM219.8,182.1h0.9v0.9h-0.9zM231.5,181.3h0.9v0.9h-0.9zM223.6,182.7h0.9v0.9h-0.9zM228.5,174.3h0.9v0.9h-0.9zM221.3,182.3h0.9v0.9h-0.9zM226.1,181.0h0.9v0.9h-0.9zM220.0,173.6h0.9v0.9h-0.9zM229.0,181.3h0.9v0.9h-0.9zM223.3,175.6h0.9v0.9h-0.9zM221.6,177.0h0.9v0.9h-0.9zM230.9,175.5h0.9v0.9h-0.9zM221.7,181.3h0.9v0.9h-0.9zM228.7,181.7h0.9v0.9h-0.9zM220.3,165.5h0.9v0.9h-0.9zM229.0,179.2h0.9v0.9h-0.9zM223.7,180.4h0.9v0.9h-0.9zM219.6,169.8h0.9v0.9h-0.9zM219.9,177.1h0.9v0.9h-0.9zM228.9,176.6h0.9v0.9h-0.9zM219.3,183.6h0.9v0.9h-0.9zM228.1,182.5h0.9v0.9h-0.9zM227.8,182.4h0.9v0.9h-0.9zM232.9,175.9h0.9v0.9h-0.9zM222.9,181.2h0.9v0.9h-0.9zM228.2,177.3h0.9v0.9h-0.9zM226.9,179.5h0.9v0.9h-0.9zM221.7,171.5h0.9v0.9h-0.9zM222.6,178.6h0.9v0.9h-0.9zM223.5,166.1h0.9v0.9h-0.9zM232.7,176.5h0.9v0.9h-0.9zM230.4,182.6h0.9v0.9h-0.9zM226.5,174.0h0.9v0.9h-0.9zM249.8,178.0h0.9v0.9h-0.9zM219.8,182.9h0.9v0.9h-0.9zM221.3,181.8h0.9v0.9h-0.9zM219.5,170.0h0.9v0.9h-0.9zM223.9,180.3h0.9v0.9h-0.9zM224.5,180.7h0.9v0.9h-0.9zM237.8,176.0h0.9v0.9h-0.9zM219.5,182.8h0.9v0.9h-0.9zM219.8,180.0h0.9v0.9h-0.9zM229.8,166.1h0.9v0.9h-0.9zM220.5,183.5h0.9v0.9h-0.9zM219.3,179.4h0.9v0.9h-0.9zM225.7,178.8h0.9v0.9h-0.9zM221.1,175.9h0.9v0.9h-0.9zM226.5,179.9h0.9v0.9h-0.9zM221.0,183.2h0.9v0.9h-0.9zM224.7,182.0h0.9v0.9h-0.9zM231.7,172.6h0.9v0.9h-0.9zM223.0,182.5h0.9v0.9h-0.9zM227.0,160.8h0.9v0.9h-0.9zM219.0,181.1h0.9v0.9h-0.9zM224.5,182.5h0.9v0.9h-0.9zM221.5,170.4h0.9v0.9h-0.9zM221.2,182.0h0.9v0.9h-0.9zM224.3,174.1h0.9v0.9h-0.9zM223.7,175.7h0.9v0.9h-0.9zM235.6,182.9h0.9v0.9h-0.9zM220.8,182.9h0.9v0.9h-0.9zM220.8,179.0h0.9v0.9h-0.9zM224.2,168.1h0.9v0.9h-0.9zM231.6,181.5h0.9v0.9h-0.9zM219.1,180.1h0.9v0.9h-0.9zM220.8,180.8h0.9v0.9h-0.9zM220.6,176.5h0.9v0.9h-0.9zM219.6,169.8h0.9v0.9h-0.9zM226.2,181.3h0.9v0.9h-0.9zM219.5,149.7h0.9v0.9h-0.9zM222.7,174.3h0.9v0.9h-0.9zM234.7,179.4h0.9v0.9h-0.9zM223.4,161.3h0.9v0.9h-0.9zM225.6,173.3h0.9v0.9h-0.9zM223.9,173.3h0.9v0.9h-0.9zM230.7,183.2h0.9v0.9h-0.9zM224.1,182.2h0.9v0.9h-0.9zM222.5,182.3h0.9v0.9h-0.9zM224.4,180.7h0.9v0.9h-0.9zM219.6,176.8h0.9v0.9h-0.9zM220.8,174.0h0.9v0.9h-0.9zM231.8,182.7h0.9v0.9h-0.9zM227.4,178.5h0.9v0.9h-0.9zM219.1,180.5h0.9v0.9h-0.9zM224.3,161.9h0.9v0.9h-0.9zM219.5,177.2h0.9v0.9h-0.9zM220.5,179.8h0.9v0.9h-0.9zM221.4,181.3h0.9v0.9h-0.9zM220.1,180.4h0.9v0.9h-0.9zM221.3,174.9h0.9v0.9h-0.9zM219.6,178.0h0.9v0.9h-0.9zM234.0,182.6h0.9v0.9h-0.9zM225.6,181.2h0.9v0.9h-0.9zM224.7,175.6h0.9v0.9h-0.9zM222.8,176.9h0.9v0.9h-0.9zM222.3,182.3h0.9v0.9h-0.9zM223.8,170.5h0.9v0.9h-0.9zM223.9,181.4h0.9v0.9h-0.9zM225.0,176.2h0.9v0.9h-0.9zM226.0,144.1h0.9v0.9h-0.9zM235.8,180.1h0.9v0.9h-0.9zM231.1,182.3h0.9v0.9h-0.9zM243.9,183.2h0.9v0.9h-0.9zM222.9,175.8h0.9v0.9h-0.9zM234.9,177.7h0.9v0.9h-0.9zM219.4,183.2h0.9v0.9h-0.9zM219.2,179.2h0.9v0.9h-0.9zM220.4,172.8h0.9v0.9h-0.9zM238.3,180.9h0.9v0.9h-0.9zM223.7,181.5h0.9v0.9h-0.9zM219.0,182.0h0.9v0.9h-0.9zM231.8,180.0h0.9v0.9h-0.9zM221.1,178.0h0.9v0.9h-0.9zM219.7,175.2h0.9v0.9h-0.9zM223.5,180.4h0.9v0.9h-0.9zM246.9,169.2h0.9v0.9h-0.9zM227.0,177.1h0.9v0.9h-0.9zM219.2,173.5h0.9v0.9h-0.9zM225.0,181.5h0.9v0.9h-0.9zM234.2,179.6h0.9v0.9h-0.9zM221.5,181.4h0.9v0.9h-0.9zM241.9,170.3h0.9v0.9h-0.9zM219.0,180.7h0.9v0.9h-0.9zM226.8,174.1h0.9v0.9h-0.9zM228.4,183.1h0.9v0.9h-0.9zM219.6,173.0h0.9v0.9h-0.9zM223.4,181.6h0.9v0.9h-0.9zM219.8,181.6h0.9v0.9h-0.9zM219.8,86.3h0.9v0.9h-0.9zM228.1,140.2h0.9v0.9h-0.9zM231.6,156.7h0.9v0.9h-0.9zM223.8,118.2h0.9v0.9h-0.9zM230.5,103.0h0.9v0.9h-0.9zM227.9,170.2h0.9v0.9h-0.9zM220.4,167.2h0.9v0.9h-0.9zM234.9,174.4h0.9v0.9h-0.9zM234.5,163.2h0.9v0.9h-0.9zM234.9,160.7h0.9v0.9h-0.9zM220.7,149.2h0.9v0.9h-0.9zM223.5,166.8h0.9v0.9h-0.9zM224.2,164.1h0.9v0.9h-0.9zM220.1,127.7h0.9v0.9h-0.9zM228.4,167.7h0.9v0.9h-0.9zM219.2,157.1h0.9v0.9h-0.9zM222.9,164.3h0.9v0.9h-0.9zM223.7,173.6h0.9v0.9h-0.9zM225.3,167.6h0.9v0.9h-0.9zM225.3,148.0h0.9v0.9h-0.9zM222.3,146.9h0.9v0.9h-0.9zM222.5,147.6h0.9v0.9h-0.9zM222.2,137.3h0.9v0.9h-0.9zM222.3,157.5h0.9v0.9h-0.9zM224.1,164.8h0.9v0.9h-0.9zM226.8,131.8h0.9v0.9h-0.9zM226.8,153.8h0.9v0.9h-0.9zM223.3,169.1h0.9v0.9h-0.9zM227.7,160.1h0.9v0.9h-0.9zM225.7,158.7h0.9v0.9h-0.9zM229.0,161.3h0.9v0.9h-0.9zM221.4,153.5h0.9v0.9h-0.9zM225.3,156.4h0.9v0.9h-0.9zM220.5,175.8h0.9v0.9h-0.9zM225.0,89.2h0.9v0.9h-0.9zM222.3,173.2h0.9v0.9h-0.9zM223.2,170.3h0.9v0.9h-0.9zM222.5,175.4h0.9v0.9h-0.9zM227.6,160.8h0.9v0.9h-0.9zM224.5,165.2h0.9v0.9h-0.9zM227.7,170.7h0.9v0.9h-0.9zM224.5,169.7h0.9v0.9h-0.9zM221.0,167.2h0.9v0.9h-0.9zM226.4,167.2h0.9v0.9h-0.9zM228.0,175.4h0.9v0.9h-0.9zM219.5,160.9h0.9v0.9h-0.9zM225.3,175.7h0.9v0.9h-0.9zM233.4,162.4h0.9v0.9h-0.9zM228.2,170.7h0.9v0.9h-0.9zM221.6,172.9h0.9v0.9h-0.9zM222.5,160.5h0.9v0.9h-0.9zM223.6,167.3h0.9v0.9h-0.9zM221.7,154.6h0.9v0.9h-0.9zM219.2,154.5h0.9v0.9h-0.9zM225.1,165.4h0.9v0.9h-0.9zM224.7,135.8h0.9v0.9h-0.9zM225.8,131.8h0.9v0.9h-0.9zM223.5,143.5h0.9v0.9h-0.9zM222.8,171.7h0.9v0.9h-0.9zM226.7,132.5h0.9v0.9h-0.9zM226.4,138.2h0.9v0.9h-0.9zM220.8,115.3h0.9v0.9h-0.9zM219.2,169.2h0.9v0.9h-0.9zM221.6,169.9h0.9v0.9h-0.9zM230.5,165.2h0.9v0.9h-0.9zM228.8,171.3h0.9v0.9h-0.9zM223.4,172.6h0.9v0.9h-0.9zM230.3,153.5h0.9v0.9h-0.9zM228.7,159.4h0.9v0.9h-0.9zM219.2,170.6h0.9v0.9h-0.9zM225.9,159.0h0.9v0.9h-0.9zM227.1,172.3h0.9v0.9h-0.9zM219.2,174.0h0.9v0.9h-0.9zM231.5,152.3h0.9v0.9h-0.9zM225.5,173.8h0.9v0.9h-0.9zM229.9,159.2h0.9v0.9h-0.9zM228.9,175.2h0.9v0.9h-0.9zM227.4,155.6h0.9v0.9h-0.9zM224.8,174.0h0.9v0.9h-0.9zM221.3,156.2h0.9v0.9h-0.9zM219.0,159.2h0.9v0.9h-0.9zM233.0,164.7h0.9v0.9h-0.9zM221.4,163.7h0.9v0.9h-0.9zM222.4,79.2h0.9v0.9h-0.9zM220.1,143.5h0.9v0.9h-0.9zM222.8,153.4h0.9v0.9h-0.9zM231.4,105.4h0.9v0.9h-0.9zM223.1,170.4h0.9v0.9h-0.9zM221.6,157.3h0.9v0.9h-0.9zM225.5,142.3h0.9v0.9h-0.9zM223.2,170.3h0.9v0.9h-0.9zM219.7,163.6h0.9v0.9h-0.9zM222.4,148.8h0.9v0.9h-0.9zM223.9,140.4h0.9v0.9h-0.9zM230.6,160.7h0.9v0.9h-0.9zM220.7,113.7h0.9v0.9h-0.9zM225.7,175.2h0.9v0.9h-0.9zM220.9,161.8h0.9v0.9h-0.9zM223.7,173.4h0.9v0.9h-0.9zM226.7,161.2h0.9v0.9h-0.9zM225.5,162.9h0.9v0.9h-0.9zM219.2,166.4h0.9v0.9h-0.9zM224.4,165.0h0.9v0.9h-0.9zM229.7,172.6h0.9v0.9h-0.9zM225.0,98.6h0.9v0.9h-0.9zM222.2,168.5h0.9v0.9h-0.9zM227.4,146.0h0.9v0.9h-0.9zM224.5,160.8h0.9v0.9h-0.9zM224.0,172.7h0.9v0.9h-0.9zM221.5,170.7h0.9v0.9h-0.9zM227.5,165.1h0.9v0.9h-0.9zM219.3,101.6h0.9v0.9h-0.9zM226.4,103.0h0.9v0.9h-0.9zM220.1,153.2h0.9v0.9h-0.9zM220.0,166.8h0.9v0.9h-0.9zM229.4,175.0h0.9v0.9h-0.9zM223.0,156.6h0.9v0.9h-0.9zM224.3,174.3h0.9v0.9h-0.9zM220.3,153.1h0.9v0.9h-0.9zM227.9,168.5h0.9v0.9h-0.9zM222.4,168.7h0.9v0.9h-0.9zM225.0,126.4h0.9v0.9h-0.9zM227.7,161.1h0.9v0.9h-0.9zM226.6,88.8h0.9v0.9h-0.9zM226.3,140.9h0.9v0.9h-0.9zM219.9,174.1h0.9v0.9h-0.9zM228.2,148.4h0.9v0.9h-0.9zM230.9,141.1h0.9v0.9h-0.9zM230.3,166.1h0.9v0.9h-0.9zM222.3,138.8h0.9v0.9h-0.9zM226.0,161.5h0.9v0.9h-0.9zM227.3,169.2h0.9v0.9h-0.9zM228.4,174.7h0.9v0.9h-0.9zM228.3,171.9h0.9v0.9h-0.9zM220.5,132.0h0.9v0.9h-0.9zM219.7,172.2h0.9v0.9h-0.9zM225.0,173.3h0.9v0.9h-0.9zM230.3,169.1h0.9v0.9h-0.9zM221.2,160.2h0.9v0.9h-0.9zM231.1,155.1h0.9v0.9h-0.9zM221.6,155.9h0.9v0.9h-0.9zM226.1,174.7h0.9v0.9h-0.9zM222.6,169.8h0.9v0.9h-0.9zM219.1,172.6h0.9v0.9h-0.9zM224.0,162.2h0.9v0.9h-0.9zM228.6,161.8h0.9v0.9h-0.9zM229.6,158.8h0.9v0.9h-0.9zM229.4,167.7h0.9v0.9h-0.9zM222.2,119.6h0.9v0.9h-0.9zM228.2,83.5h0.9v0.9h-0.9zM226.1,162.7h0.9v0.9h-0.9zM224.0,169.3h0.9v0.9h-0.9zM222.7,172.5h0.9v0.9h-0.9zM233.0,160.3h0.9v0.9h-0.9zM222.6,162.6h0.9v0.9h-0.9zM219.5,173.4h0.9v0.9h-0.9zM225.8,141.9h0.9v0.9h-0.9zM222.2,171.3h0.9v0.9h-0.9zM236.3,175.5h0.9v0.9h-0.9zM230.2,155.0h0.9v0.9h-0.9zM228.3,163.7h0.9v0.9h-0.9zM225.8,118.7h0.9v0.9h-0.9zM232.9,170.1h0.9v0.9h-0.9zM225.8,174.7h0.9v0.9h-0.9zM225.3,165.0h0.9v0.9h-0.9zM220.3,97.2h0.9v0.9h-0.9zM229.7,175.0h0.9v0.9h-0.9zM222.6,159.8h0.9v0.9h-0.9zM223.9,156.7h0.9v0.9h-0.9zM241.7,180.6h0.9v0.9h-0.9zM252.7,174.4h0.9v0.9h-0.9zM232.4,182.9h0.9v0.9h-0.9zM230.5,181.4h0.9v0.9h-0.9zM247.1,156.2h0.9v0.9h-0.9zM256.6,167.8h0.9v0.9h-0.9zM232.5,171.2h0.9v0.9h-0.9zM250.7,178.7h0.9v0.9h-0.9zM257.4,176.5h0.9v0.9h-0.9zM232.4,181.9h0.9v0.9h-0.9zM232.7,176.3h0.9v0.9h-0.9zM246.8,168.2h0.9v0.9h-0.9zM229.3,183.7h0.9v0.9h-0.9zM256.7,181.4h0.9v0.9h-0.9zM236.5,167.7h0.9v0.9h-0.9zM232.2,171.2h0.9v0.9h-0.9zM230.0,34.6h0.9v0.9h-0.9zM228.0,60.0h0.9v0.9h-0.9zM228.5,68.5h0.9v0.9h-0.9zM195.0,69.0h0.9v0.9h-0.9zM196.0,97.0h0.9v0.9h-0.9zM225.0,87.0h0.9v0.9h-0.9zM228.0,90.0h0.9v0.9h-0.9zM230.0,96.0h0.9v0.9h-0.9zM225.0,98.0h0.9v0.9h-0.9zM172.0,162.0h0.9v0.9h-0.9zM173.0,168.0h0.9v0.9h-0.9zM177.0,172.0h0.9v0.9h-0.9zM253.0,167.0h0.9v0.9h-0.9zM256.0,163.0h0.9v0.9h-0.9zM250.0,170.0h0.9v0.9h-0.9z" fill="#e63323" fill-opacity="0.85"/>
<path d="M206.5,167.2 L206.5,184.7 L210.8,184.7 Z" fill="#35297e"/>
<path d="M218.5,165.9 L218.5,184.7 L215,184.7 Z" fill="#35297e"/>
<line x1="212.5" y1="31.3" x2="212.5" y2="189" stroke="#4a4a4a" stroke-width="1.0"/>
<line x1="163.7" y1="24" x2="163.7" y2="196.5" stroke="#231f20" stroke-width="1.3"/>
<line x1="163.05" y1="196.5" x2="259.8" y2="196.5" stroke="#231f20" stroke-width="1.3"/>
<line x1="160.1" y1="189.4" x2="163.7" y2="189.4" stroke="#231f20" stroke-width="1.1"/>
<text x="157.6" y="192.3" font-size="8.4" text-anchor="end" fill="#231f20" color="#231f20" textLength="4.5" lengthAdjust="spacingAndGlyphs">0</text>
<line x1="160.1" y1="158.0" x2="163.7" y2="158.0" stroke="#231f20" stroke-width="1.1"/>
<text x="157.6" y="160.9" font-size="8.4" text-anchor="end" fill="#231f20" color="#231f20" textLength="9.0" lengthAdjust="spacingAndGlyphs">10</text>
<line x1="160.1" y1="126.60000000000001" x2="163.7" y2="126.60000000000001" stroke="#231f20" stroke-width="1.1"/>
<text x="157.6" y="129.5" font-size="8.4" text-anchor="end" fill="#231f20" color="#231f20" textLength="9.0" lengthAdjust="spacingAndGlyphs">20</text>
<line x1="160.1" y1="95.20000000000002" x2="163.7" y2="95.20000000000002" stroke="#231f20" stroke-width="1.1"/>
<text x="157.6" y="98.10000000000002" font-size="8.4" text-anchor="end" fill="#231f20" color="#231f20" textLength="9.0" lengthAdjust="spacingAndGlyphs">30</text>
<line x1="160.1" y1="63.80000000000001" x2="163.7" y2="63.80000000000001" stroke="#231f20" stroke-width="1.1"/>
<text x="157.6" y="66.70000000000002" font-size="8.4" text-anchor="end" fill="#231f20" color="#231f20" textLength="9.0" lengthAdjust="spacingAndGlyphs">40</text>
<line x1="160.1" y1="32.400000000000006" x2="163.7" y2="32.400000000000006" stroke="#231f20" stroke-width="1.1"/>
<text x="157.6" y="35.300000000000004" font-size="8.4" text-anchor="end" fill="#231f20" color="#231f20" textLength="9.0" lengthAdjust="spacingAndGlyphs">50</text>
<line x1="187.4" y1="196.5" x2="187.4" y2="199.8" stroke="#231f20" stroke-width="1.1"/>
<text x="187.20000000000002" y="211.0" font-size="8.4" text-anchor="middle" fill="#231f20" color="#231f20" textLength="9.0" lengthAdjust="spacingAndGlyphs">-4</text>
<line x1="212.5" y1="196.5" x2="212.5" y2="199.8" stroke="#231f20" stroke-width="1.1"/>
<text x="212.3" y="211.0" font-size="8.4" text-anchor="middle" fill="#231f20" color="#231f20" textLength="4.5" lengthAdjust="spacingAndGlyphs">0</text>
<line x1="237.6" y1="196.5" x2="237.6" y2="199.8" stroke="#231f20" stroke-width="1.1"/>
<text x="237.4" y="211.0" font-size="8.4" text-anchor="middle" fill="#231f20" color="#231f20" textLength="4.5" lengthAdjust="spacingAndGlyphs">4</text>
<text x="174.1" y="224.7" font-size="10" text-anchor="start" fill="#231f20" color="#231f20" textLength="76" lengthAdjust="spacingAndGlyphs">log2(fold change)</text>
<text x="141.4" y="110.7" font-size="10" text-anchor="middle" fill="#231f20" color="#231f20" textLength="51" lengthAdjust="spacingAndGlyphs" transform="rotate(-90 141.4 110.7)">-log10(FDR)</text>
<rect x="257" y="47.8" width="10.3" height="9.8" fill="#c4453a"/>
<rect x="257" y="84.5" width="10.3" height="9.5" fill="#4a6590"/>
<text x="270.4" y="54.7" font-size="8.6" text-anchor="start" fill="#231f20" color="#231f20" textLength="36.7" lengthAdjust="spacingAndGlyphs">significant</text>
<text x="270.4" y="64.4" font-size="8.6" text-anchor="start" fill="#231f20" color="#231f20" textLength="37.5" lengthAdjust="spacingAndGlyphs">FDR&lt; 0.05,</text>
<text x="270.4" y="74.3" font-size="8.6" text-anchor="start" fill="#231f20" color="#231f20" textLength="41.5" lengthAdjust="spacingAndGlyphs">log2FC ≥ |1|</text>
<text x="270.4" y="92.0" font-size="8.6" text-anchor="start" fill="#231f20" color="#231f20" textLength="12.2" lengthAdjust="spacingAndGlyphs">n.s.</text>
<text x="331.5" y="18.2" font-size="12.2" text-anchor="start" fill="#231f20" color="#231f20">C</text>
<text x="350" y="31.5" font-size="8.8" text-anchor="start" fill="#231f20" color="#231f20" textLength="36.8" lengthAdjust="spacingAndGlyphs">sf3b1 mut</text>
<text x="405.8" y="31.5" font-size="8.8" text-anchor="start" fill="#231f20" color="#231f20" textLength="23.4" lengthAdjust="spacingAndGlyphs">sibling</text>
<line x1="344.5" y1="36.2" x2="392.7" y2="36.2" stroke="#231f20" stroke-width="1.5"/>
<line x1="393.8" y1="36.2" x2="441.8" y2="36.2" stroke="#231f20" stroke-width="1.5"/>
<defs><filter id="hb" x="-1%" y="-1%" width="102%" height="102%"><feGaussianBlur stdDeviation="0.35 0.45"/></filter><clipPath id="hc"><rect x="344.5" y="41" width="97.5" height="135"/></clipPath></defs><g clip-path="url(#hc)"><g filter="url(#hb)">
<rect x="344.50" y="41.0" width="9.80" height="1.05" fill="#fcc576"/>
<rect x="344.50" y="42.0" width="9.80" height="2.05" fill="#f4874b"/>
<rect x="344.50" y="44.0" width="9.80" height="2.05" fill="#fbb96a"/>
<rect x="344.50" y="46.0" width="9.80" height="1.05" fill="#f79953"/>
<rect x="344.50" y="47.0" width="9.80" height="1.05" fill="#fcc879"/>
<rect x="344.50" y="48.0" width="9.80" height="2.05" fill="#f9a559"/>
<rect x="344.50" y="50.0" width="9.80" height="1.05" fill="#f69552"/>
<rect x="344.50" y="51.0" width="9.80" height="2.05" fill="#f8a257"/>
<rect x="344.50" y="53.0" width="9.80" height="1.55" fill="#fab364"/>
<rect x="344.50" y="54.5" width="9.80" height="2.05" fill="#fcc778"/>
<rect x="344.50" y="56.5" width="9.80" height="2.05" fill="#fce79c"/>
<rect x="344.50" y="58.5" width="9.80" height="1.05" fill="#fbbd6f"/>
<rect x="344.50" y="59.5" width="9.80" height="1.05" fill="#fcc677"/>
<rect x="344.50" y="60.5" width="9.80" height="1.05" fill="#f4864b"/>
<rect x="344.50" y="61.5" width="9.80" height="1.05" fill="#fdd98b"/>
<rect x="344.50" y="62.5" width="9.80" height="1.05" fill="#fab465"/>
<rect x="344.50" y="63.5" width="9.80" height="2.05" fill="#fbc172"/>
<rect x="344.50" y="65.5" width="9.80" height="1.05" fill="#fdd688"/>
<rect x="344.50" y="66.5" width="9.80" height="1.05" fill="#f69652"/>
<rect x="344.50" y="67.5" width="9.80" height="2.05" fill="#fab365"/>
<rect x="344.50" y="69.5" width="9.80" height="1.05" fill="#f9ab5d"/>
<rect x="344.50" y="70.5" width="9.80" height="1.55" fill="#fab466"/>
<rect x="344.50" y="72.0" width="9.80" height="1.55" fill="#f69552"/>
<rect x="344.50" y="73.5" width="9.80" height="2.05" fill="#fbc173"/>
<rect x="344.50" y="75.5" width="9.80" height="1.55" fill="#fdd88a"/>
<rect x="344.50" y="77.0" width="9.80" height="2.05" fill="#ed6c40"/>
<rect x="344.50" y="79.0" width="9.80" height="1.55" fill="#fab162"/>
<rect x="344.50" y="80.5" width="9.80" height="1.55" fill="#fab365"/>
<rect x="344.50" y="82.0" width="9.80" height="1.55" fill="#fdd485"/>
<rect x="344.50" y="83.5" width="9.80" height="1.05" fill="#fbc071"/>
<rect x="344.50" y="84.5" width="9.80" height="2.05" fill="#fab668"/>
<rect x="344.50" y="86.5" width="9.80" height="1.05" fill="#f8a257"/>
<rect x="344.50" y="87.5" width="9.80" height="1.05" fill="#fdcf81"/>
<rect x="344.50" y="88.5" width="9.80" height="2.05" fill="#f8a157"/>
<rect x="344.50" y="90.5" width="9.80" height="1.55" fill="#fbc273"/>
<rect x="344.50" y="92.0" width="9.80" height="1.05" fill="#f9ac5e"/>
<rect x="344.50" y="93.0" width="9.80" height="1.55" fill="#fbbe6f"/>
<rect x="344.50" y="94.5" width="9.80" height="2.05" fill="#fbbd6f"/>
<rect x="344.50" y="96.5" width="9.80" height="1.55" fill="#fdd485"/>
<rect x="344.50" y="98.0" width="9.80" height="1.55" fill="#f79a54"/>
<rect x="344.50" y="99.5" width="9.80" height="2.05" fill="#f8a358"/>
<rect x="344.50" y="101.5" width="9.80" height="1.55" fill="#fab466"/>
<rect x="344.50" y="103.0" width="9.80" height="2.05" fill="#fdd384"/>
<rect x="344.50" y="105.0" width="9.80" height="2.05" fill="#cfe7df"/>
<rect x="344.50" y="107.0" width="9.80" height="1.55" fill="#c2e1e1"/>
<rect x="344.50" y="108.5" width="9.80" height="1.05" fill="#b8dbe0"/>
<rect x="344.50" y="109.5" width="9.80" height="1.05" fill="#d8eadb"/>
<rect x="344.50" y="110.5" width="9.80" height="2.05" fill="#afd6de"/>
<rect x="344.50" y="112.5" width="9.80" height="1.55" fill="#cce6e0"/>
<rect x="344.50" y="114.0" width="9.80" height="2.05" fill="#bddee0"/>
<rect x="344.50" y="116.0" width="9.80" height="1.55" fill="#b6dadf"/>
<rect x="344.50" y="117.5" width="9.80" height="1.05" fill="#bbdde0"/>
<rect x="344.50" y="118.5" width="9.80" height="2.05" fill="#cce6e0"/>
<rect x="344.50" y="120.5" width="9.80" height="1.05" fill="#aed6de"/>
<rect x="344.50" y="121.5" width="9.80" height="1.05" fill="#b8dbdf"/>
<rect x="344.50" y="122.5" width="9.80" height="2.05" fill="#b9dce0"/>
<rect x="344.50" y="124.5" width="9.80" height="1.55" fill="#cfe7df"/>
<rect x="344.50" y="126.0" width="9.80" height="1.55" fill="#b4d9df"/>
<rect x="344.50" y="127.5" width="9.80" height="2.05" fill="#c2e1e1"/>
<rect x="344.50" y="129.5" width="9.80" height="2.05" fill="#c8e4e2"/>
<rect x="344.50" y="131.5" width="9.80" height="1.55" fill="#b6dadf"/>
<rect x="344.50" y="133.0" width="9.80" height="1.55" fill="#badde0"/>
<rect x="344.50" y="134.5" width="9.80" height="2.05" fill="#b4d9df"/>
<rect x="344.50" y="136.5" width="9.80" height="1.05" fill="#d6e9dc"/>
<rect x="344.50" y="137.5" width="9.80" height="1.55" fill="#c0e0e1"/>
<rect x="344.50" y="139.0" width="9.80" height="1.05" fill="#badce0"/>
<rect x="344.50" y="140.0" width="9.80" height="1.55" fill="#bedee0"/>
<rect x="344.50" y="141.5" width="9.80" height="1.05" fill="#c9e4e1"/>
<rect x="344.50" y="142.5" width="9.80" height="2.05" fill="#bbdde0"/>
<rect x="344.50" y="144.5" width="9.80" height="1.05" fill="#cee6df"/>
<rect x="344.50" y="145.5" width="9.80" height="2.05" fill="#b8dbe0"/>
<rect x="344.50" y="147.5" width="9.80" height="1.05" fill="#cae5e1"/>
<rect x="344.50" y="148.5" width="9.80" height="1.55" fill="#d5e9dc"/>
<rect x="344.50" y="150.0" width="9.80" height="1.55" fill="#cae5e1"/>
<rect x="344.50" y="151.5" width="9.80" height="1.05" fill="#c7e3e2"/>
<rect x="344.50" y="152.5" width="9.80" height="1.55" fill="#c5e2e2"/>
<rect x="344.50" y="154.0" width="9.80" height="1.55" fill="#daebda"/>
<rect x="344.50" y="155.5" width="9.80" height="1.55" fill="#c1e0e1"/>
<rect x="344.50" y="157.0" width="9.80" height="1.05" fill="#c5e3e2"/>
<rect x="344.50" y="158.0" width="9.80" height="1.55" fill="#cfe7df"/>
<rect x="344.50" y="159.5" width="9.80" height="2.05" fill="#bbdde0"/>
<rect x="344.50" y="161.5" width="9.80" height="1.55" fill="#b7dbdf"/>
<rect x="344.50" y="163.0" width="9.80" height="1.05" fill="#c8e4e2"/>
<rect x="344.50" y="164.0" width="9.80" height="1.55" fill="#b4d9df"/>
<rect x="344.50" y="165.5" width="9.80" height="1.05" fill="#b6dadf"/>
<rect x="344.50" y="166.5" width="9.80" height="2.05" fill="#b0d7de"/>
<rect x="344.50" y="168.5" width="9.80" height="2.05" fill="#bcdde0"/>
<rect x="344.50" y="170.5" width="9.80" height="2.05" fill="#c0e0e1"/>
<rect x="344.50" y="172.5" width="9.80" height="1.05" fill="#c1e0e1"/>
<rect x="344.50" y="173.5" width="9.80" height="1.05" fill="#cde6e0"/>
<rect x="344.50" y="174.5" width="9.80" height="1.55" fill="#d1e7de"/>
<rect x="354.25" y="41.0" width="9.80" height="1.05" fill="#fbbb6d"/>
<rect x="354.25" y="42.0" width="9.80" height="2.05" fill="#f79d55"/>
<rect x="354.25" y="44.0" width="9.80" height="2.05" fill="#fce69a"/>
<rect x="354.25" y="46.0" width="9.80" height="1.05" fill="#f9a95b"/>
<rect x="354.25" y="47.0" width="9.80" height="1.05" fill="#fcca7b"/>
<rect x="354.25" y="48.0" width="9.80" height="2.05" fill="#f69551"/>
<rect x="354.25" y="50.0" width="9.80" height="1.05" fill="#fab466"/>
<rect x="354.25" y="51.0" width="9.80" height="2.05" fill="#fce397"/>
<rect x="354.25" y="53.0" width="9.80" height="1.55" fill="#fcca7b"/>
<rect x="354.25" y="54.5" width="9.80" height="2.05" fill="#fdce7f"/>
<rect x="354.25" y="56.5" width="9.80" height="2.05" fill="#fbc273"/>
<rect x="354.25" y="58.5" width="9.80" height="1.05" fill="#fdd88a"/>
<rect x="354.25" y="59.5" width="9.80" height="1.05" fill="#f9a659"/>
<rect x="354.25" y="60.5" width="9.80" height="1.05" fill="#fbc172"/>
<rect x="354.25" y="61.5" width="9.80" height="1.05" fill="#fab365"/>
<rect x="354.25" y="62.5" width="9.80" height="1.05" fill="#f9a559"/>
<rect x="354.25" y="63.5" width="9.80" height="2.05" fill="#faae60"/>
<rect x="354.25" y="65.5" width="9.80" height="1.05" fill="#f4854a"/>
<rect x="354.25" y="66.5" width="9.80" height="1.05" fill="#f8a358"/>
<rect x="354.25" y="67.5" width="9.80" height="2.05" fill="#f69451"/>
<rect x="354.25" y="69.5" width="9.80" height="1.05" fill="#fce195"/>
<rect x="354.25" y="70.5" width="9.80" height="1.55" fill="#fab061"/>
<rect x="354.25" y="72.0" width="9.80" height="1.55" fill="#fab465"/>
<rect x="354.25" y="73.5" width="9.80" height="2.05" fill="#fdd88a"/>
<rect x="354.25" y="75.5" width="9.80" height="1.55" fill="#fdd88a"/>
<rect x="354.25" y="77.0" width="9.80" height="2.05" fill="#fdcf80"/>
<rect x="354.25" y="79.0" width="9.80" height="1.55" fill="#f58e4e"/>
<rect x="354.25" y="80.5" width="9.80" height="1.55" fill="#fab264"/>
<rect x="354.25" y="82.0" width="9.80" height="1.55" fill="#f9a85a"/>
<rect x="354.25" y="83.5" width="9.80" height="1.05" fill="#fbc172"/>
<rect x="354.25" y="84.5" width="9.80" height="2.05" fill="#f58b4d"/>
<rect x="354.25" y="86.5" width="9.80" height="1.05" fill="#f79a54"/>
<rect x="354.25" y="87.5" width="9.80" height="1.05" fill="#f79b54"/>
<rect x="354.25" y="88.5" width="9.80" height="2.05" fill="#fab264"/>
<rect x="354.25" y="90.5" width="9.80" height="1.55" fill="#ed6c40"/>
<rect x="354.25" y="92.0" width="9.80" height="1.05" fill="#f58b4d"/>
<rect x="354.25" y="93.0" width="9.80" height="1.55" fill="#fce296"/>
<rect x="354.25" y="94.5" width="9.80" height="2.05" fill="#fbbf70"/>
<rect x="354.25" y="96.5" width="9.80" height="1.55" fill="#fcdd90"/>
<rect x="354.25" y="98.0" width="9.80" height="1.55" fill="#fab566"/>
<rect x="354.25" y="99.5" width="9.80" height="2.05" fill="#f38048"/>
<rect x="354.25" y="101.5" width="9.80" height="1.55" fill="#fbbf70"/>
<rect x="354.25" y="103.0" width="9.80" height="2.05" fill="#fccc7d"/>
<rect x="354.25" y="105.0" width="9.80" height="2.05" fill="#cbe5e1"/>
<rect x="354.25" y="107.0" width="9.80" height="1.55" fill="#c0dfe1"/>
<rect x="354.25" y="108.5" width="9.80" height="1.05" fill="#b6dadf"/>
<rect x="354.25" y="109.5" width="9.80" height="1.05" fill="#cce6e0"/>
<rect x="354.25" y="110.5" width="9.80" height="2.05" fill="#add5de"/>
<rect x="354.25" y="112.5" width="9.80" height="1.55" fill="#b9dce0"/>
<rect x="354.25" y="114.0" width="9.80" height="2.05" fill="#c9e4e2"/>
<rect x="354.25" y="116.0" width="9.80" height="1.55" fill="#d1e8de"/>
<rect x="354.25" y="117.5" width="9.80" height="1.05" fill="#cfe7df"/>
<rect x="354.25" y="118.5" width="9.80" height="2.05" fill="#c2e1e1"/>
<rect x="354.25" y="120.5" width="9.80" height="1.05" fill="#b1d7de"/>
<rect x="354.25" y="121.5" width="9.80" height="1.05" fill="#bfdfe1"/>
<rect x="354.25" y="122.5" width="9.80" height="2.05" fill="#acd5de"/>
<rect x="354.25" y="124.5" width="9.80" height="1.55" fill="#d3e8dd"/>
<rect x="354.25" y="126.0" width="9.80" height="1.55" fill="#c6e3e2"/>
<rect x="354.25" y="127.5" width="9.80" height="2.05" fill="#cde6e0"/>
<rect x="354.25" y="129.5" width="9.80" height="2.05" fill="#c5e2e2"/>
<rect x="354.25" y="131.5" width="9.80" height="1.55" fill="#b0d7de"/>
<rect x="354.25" y="133.0" width="9.80" height="1.55" fill="#abd4dd"/>
<rect x="354.25" y="134.5" width="9.80" height="2.05" fill="#c3e1e1"/>
<rect x="354.25" y="136.5" width="9.80" height="1.05" fill="#bddee0"/>
<rect x="354.25" y="137.5" width="9.80" height="1.55" fill="#c0dfe1"/>
<rect x="354.25" y="139.0" width="9.80" height="1.05" fill="#badce0"/>
<rect x="354.25" y="140.0" width="9.80" height="1.55" fill="#bddee0"/>
<rect x="354.25" y="141.5" width="9.80" height="1.05" fill="#c9e4e2"/>
<rect x="354.25" y="142.5" width="9.80" height="2.05" fill="#c5e2e1"/>
<rect x="354.25" y="144.5" width="9.80" height="1.05" fill="#c8e4e2"/>
<rect x="354.25" y="145.5" width="9.80" height="2.05" fill="#b2d8de"/>
<rect x="354.25" y="147.5" width="9.80" height="1.05" fill="#c9e4e1"/>
<rect x="354.25" y="148.5" width="9.80" height="1.55" fill="#c1e0e1"/>
<rect x="354.25" y="150.0" width="9.80" height="1.55" fill="#bedee0"/>
<rect x="354.25" y="151.5" width="9.80" height="1.05" fill="#c3e1e1"/>
<rect x="354.25" y="152.5" width="9.80" height="1.55" fill="#cce6e0"/>
<rect x="354.25" y="154.0" width="9.80" height="1.55" fill="#b1d7de"/>
<rect x="354.25" y="155.5" width="9.80" height="1.55" fill="#cae5e1"/>
<rect x="354.25" y="157.0" width="9.80" height="1.05" fill="#b4d9df"/>
<rect x="354.25" y="158.0" width="9.80" height="1.55" fill="#bedfe0"/>
<rect x="354.25" y="159.5" width="9.80" height="2.05" fill="#b5dadf"/>
<rect x="354.25" y="161.5" width="9.80" height="1.55" fill="#cde6e0"/>
<rect x="354.25" y="163.0" width="9.80" height="1.05" fill="#c7e3e2"/>
<rect x="354.25" y="164.0" width="9.80" height="1.55" fill="#c8e4e2"/>
<rect x="354.25" y="165.5" width="9.80" height="1.05" fill="#bddee0"/>
<rect x="354.25" y="166.5" width="9.80" height="2.05" fill="#c5e2e1"/>
<rect x="354.25" y="168.5" width="9.80" height="2.05" fill="#b9dce0"/>
<rect x="354.25" y="170.5" width="9.80" height="2.05" fill="#c4e2e1"/>
<rect x="354.25" y="172.5" width="9.80" height="1.05" fill="#cee7df"/>
<rect x="354.25" y="173.5" width="9.80" height="1.05" fill="#aed6de"/>
<rect x="354.25" y="174.5" width="9.80" height="1.55" fill="#c2e1e1"/>
<rect x="364.00" y="41.0" width="9.80" height="1.05" fill="#fdd182"/>
<rect x="364.00" y="42.0" width="9.80" height="2.05" fill="#fcc677"/>
<rect x="364.00" y="44.0" width="9.80" height="2.05" fill="#fce79c"/>
<rect x="364.00" y="46.0" width="9.80" height="1.05" fill="#fce79c"/>
<rect x="364.00" y="47.0" width="9.80" height="1.05" fill="#fdcf80"/>
<rect x="364.00" y="48.0" width="9.80" height="2.05" fill="#f9a95b"/>
<rect x="364.00" y="50.0" width="9.80" height="1.05" fill="#fdd486"/>
<rect x="364.00" y="51.0" width="9.80" height="2.05" fill="#fab365"/>
<rect x="364.00" y="53.0" width="9.80" height="1.55" fill="#fce296"/>
<rect x="364.00" y="54.5" width="9.80" height="2.05" fill="#fcde91"/>
<rect x="364.00" y="56.5" width="9.80" height="2.05" fill="#fab667"/>
<rect x="364.00" y="58.5" width="9.80" height="1.05" fill="#fdcf80"/>
<rect x="364.00" y="59.5" width="9.80" height="1.05" fill="#f69451"/>
<rect x="364.00" y="60.5" width="9.80" height="1.05" fill="#fce194"/>
<rect x="364.00" y="61.5" width="9.80" height="1.05" fill="#f8a358"/>
<rect x="364.00" y="62.5" width="9.80" height="1.05" fill="#fdd587"/>
<rect x="364.00" y="63.5" width="9.80" height="2.05" fill="#fcc779"/>
<rect x="364.00" y="65.5" width="9.80" height="1.05" fill="#fce296"/>
<rect x="364.00" y="66.5" width="9.80" height="1.05" fill="#fab667"/>
<rect x="364.00" y="67.5" width="9.80" height="2.05" fill="#fcc476"/>
<rect x="364.00" y="69.5" width="9.80" height="1.05" fill="#f69150"/>
<rect x="364.00" y="70.5" width="9.80" height="1.55" fill="#f9a559"/>
<rect x="364.00" y="72.0" width="9.80" height="1.55" fill="#f58e4e"/>
<rect x="364.00" y="73.5" width="9.80" height="2.05" fill="#fcdc8e"/>
<rect x="364.00" y="75.5" width="9.80" height="1.55" fill="#fce296"/>
<rect x="364.00" y="77.0" width="9.80" height="2.05" fill="#fcc577"/>
<rect x="364.00" y="79.0" width="9.80" height="1.55" fill="#f89f56"/>
<rect x="364.00" y="80.5" width="9.80" height="1.55" fill="#fdd486"/>
<rect x="364.00" y="82.0" width="9.80" height="1.55" fill="#f9a75a"/>
<rect x="364.00" y="83.5" width="9.80" height="1.05" fill="#fbbd6f"/>
<rect x="364.00" y="84.5" width="9.80" height="2.05" fill="#f69752"/>
<rect x="364.00" y="86.5" width="9.80" height="1.05" fill="#f9a75a"/>
<rect x="364.00" y="87.5" width="9.80" height="1.05" fill="#ee6f41"/>
<rect x="364.00" y="88.5" width="9.80" height="2.05" fill="#f79953"/>
<rect x="364.00" y="90.5" width="9.80" height="1.55" fill="#fcda8c"/>
<rect x="364.00" y="92.0" width="9.80" height="1.05" fill="#ed6c40"/>
<rect x="364.00" y="93.0" width="9.80" height="1.55" fill="#faaf61"/>
<rect x="364.00" y="94.5" width="9.80" height="2.05" fill="#fab768"/>
<rect x="364.00" y="96.5" width="9.80" height="1.55" fill="#faae60"/>
<rect x="364.00" y="98.0" width="9.80" height="1.55" fill="#fbc071"/>
<rect x="364.00" y="99.5" width="9.80" height="2.05" fill="#f8a458"/>
<rect x="364.00" y="101.5" width="9.80" height="1.55" fill="#fcc778"/>
<rect x="364.00" y="103.0" width="9.80" height="2.05" fill="#fce79c"/>
<rect x="364.00" y="105.0" width="9.80" height="2.05" fill="#d5e9dd"/>
<rect x="364.00" y="107.0" width="9.80" height="1.55" fill="#c8e4e2"/>
<rect x="364.00" y="108.5" width="9.80" height="1.05" fill="#cce5e0"/>
<rect x="364.00" y="109.5" width="9.80" height="1.05" fill="#b9dce0"/>
<rect x="364.00" y="110.5" width="9.80" height="2.05" fill="#c8e4e2"/>
<rect x="364.00" y="112.5" width="9.80" height="1.55" fill="#cbe5e1"/>
<rect x="364.00" y="114.0" width="9.80" height="2.05" fill="#cce6e0"/>
<rect x="364.00" y="116.0" width="9.80" height="1.55" fill="#c4e2e1"/>
<rect x="364.00" y="117.5" width="9.80" height="1.05" fill="#cae5e1"/>
<rect x="364.00" y="118.5" width="9.80" height="2.05" fill="#c3e1e1"/>
<rect x="364.00" y="120.5" width="9.80" height="1.05" fill="#dcecd9"/>
<rect x="364.00" y="121.5" width="9.80" height="1.05" fill="#c5e2e1"/>
<rect x="364.00" y="122.5" width="9.80" height="2.05" fill="#badce0"/>
<rect x="364.00" y="124.5" width="9.80" height="1.55" fill="#cfe7df"/>
<rect x="364.00" y="126.0" width="9.80" height="1.55" fill="#d5e9dc"/>
<rect x="364.00" y="127.5" width="9.80" height="2.05" fill="#b6dadf"/>
<rect x="364.00" y="129.5" width="9.80" height="2.05" fill="#e0eed8"/>
<rect x="364.00" y="131.5" width="9.80" height="1.55" fill="#cae5e1"/>
<rect x="364.00" y="133.0" width="9.80" height="1.55" fill="#cce5e0"/>
<rect x="364.00" y="134.5" width="9.80" height="2.05" fill="#b7dadf"/>
<rect x="364.00" y="136.5" width="9.80" height="1.05" fill="#cce5e0"/>
<rect x="364.00" y="137.5" width="9.80" height="1.55" fill="#c0dfe1"/>
<rect x="364.00" y="139.0" width="9.80" height="1.05" fill="#bddee0"/>
<rect x="364.00" y="140.0" width="9.80" height="1.55" fill="#b1d7de"/>
<rect x="364.00" y="141.5" width="9.80" height="1.05" fill="#f3eeb5"/>
<rect x="364.00" y="142.5" width="9.80" height="2.05" fill="#c4e2e1"/>
<rect x="364.00" y="144.5" width="9.80" height="1.05" fill="#aed5de"/>
<rect x="364.00" y="145.5" width="9.80" height="2.05" fill="#d0e7de"/>
<rect x="364.00" y="147.5" width="9.80" height="1.05" fill="#c7e4e2"/>
<rect x="364.00" y="148.5" width="9.80" height="1.55" fill="#d5e9dc"/>
<rect x="364.00" y="150.0" width="9.80" height="1.55" fill="#a2cfdc"/>
<rect x="364.00" y="151.5" width="9.80" height="1.05" fill="#c5e3e2"/>
<rect x="364.00" y="152.5" width="9.80" height="1.55" fill="#b9dce0"/>
<rect x="364.00" y="154.0" width="9.80" height="1.55" fill="#b4d9df"/>
<rect x="364.00" y="155.5" width="9.80" height="1.55" fill="#bcdde0"/>
<rect x="364.00" y="157.0" width="9.80" height="1.05" fill="#c7e4e2"/>
<rect x="364.00" y="158.0" width="9.80" height="1.55" fill="#a7d2dd"/>
<rect x="364.00" y="159.5" width="9.80" height="2.05" fill="#c6e3e2"/>
<rect x="364.00" y="161.5" width="9.80" height="1.55" fill="#bfdfe1"/>
<rect x="364.00" y="163.0" width="9.80" height="1.05" fill="#e7efd0"/>
<rect x="364.00" y="164.0" width="9.80" height="1.55" fill="#b9dce0"/>
<rect x="364.00" y="165.5" width="9.80" height="1.05" fill="#bbdde0"/>
<rect x="364.00" y="166.5" width="9.80" height="2.05" fill="#c1e0e1"/>
<rect x="364.00" y="168.5" width="9.80" height="2.05" fill="#bddee0"/>
<rect x="364.00" y="170.5" width="9.80" height="2.05" fill="#c2e0e1"/>
<rect x="364.00" y="172.5" width="9.80" height="1.05" fill="#b2d8df"/>
<rect x="364.00" y="173.5" width="9.80" height="1.05" fill="#b8dbdf"/>
<rect x="364.00" y="174.5" width="9.80" height="1.55" fill="#c7e3e2"/>
<rect x="373.75" y="41.0" width="9.80" height="1.05" fill="#fab062"/>
<rect x="373.75" y="42.0" width="9.80" height="2.05" fill="#fbbc6e"/>
<rect x="373.75" y="44.0" width="9.80" height="2.05" fill="#fab769"/>
<rect x="373.75" y="46.0" width="9.80" height="1.05" fill="#fcde91"/>
<rect x="373.75" y="47.0" width="9.80" height="1.05" fill="#fab264"/>
<rect x="373.75" y="48.0" width="9.80" height="2.05" fill="#fce79c"/>
<rect x="373.75" y="50.0" width="9.80" height="1.05" fill="#fdda8c"/>
<rect x="373.75" y="51.0" width="9.80" height="2.05" fill="#fbc071"/>
<rect x="373.75" y="53.0" width="9.80" height="1.55" fill="#f69250"/>
<rect x="373.75" y="54.5" width="9.80" height="2.05" fill="#f79d55"/>
<rect x="373.75" y="56.5" width="9.80" height="2.05" fill="#fcda8c"/>
<rect x="373.75" y="58.5" width="9.80" height="1.05" fill="#f8a358"/>
<rect x="373.75" y="59.5" width="9.80" height="1.05" fill="#ed6c40"/>
<rect x="373.75" y="60.5" width="9.80" height="1.05" fill="#fab465"/>
<rect x="373.75" y="61.5" width="9.80" height="1.05" fill="#f4864b"/>
<rect x="373.75" y="62.5" width="9.80" height="1.05" fill="#fcc879"/>
<rect x="373.75" y="63.5" width="9.80" height="2.05" fill="#fbba6b"/>
<rect x="373.75" y="65.5" width="9.80" height="1.05" fill="#f4884c"/>
<rect x="373.75" y="66.5" width="9.80" height="1.05" fill="#f9ac5e"/>
<rect x="373.75" y="67.5" width="9.80" height="2.05" fill="#f79a54"/>
<rect x="373.75" y="69.5" width="9.80" height="1.05" fill="#f8a458"/>
<rect x="373.75" y="70.5" width="9.80" height="1.55" fill="#fab162"/>
<rect x="373.75" y="72.0" width="9.80" height="1.55" fill="#fce79c"/>
<rect x="373.75" y="73.5" width="9.80" height="2.05" fill="#fab466"/>
<rect x="373.75" y="75.5" width="9.80" height="1.55" fill="#fbbe6f"/>
<rect x="373.75" y="77.0" width="9.80" height="2.05" fill="#fdd789"/>
<rect x="373.75" y="79.0" width="9.80" height="1.55" fill="#f48a4c"/>
<rect x="373.75" y="80.5" width="9.80" height="1.55" fill="#f79a54"/>
<rect x="373.75" y="82.0" width="9.80" height="1.55" fill="#f89f56"/>
<rect x="373.75" y="83.5" width="9.80" height="1.05" fill="#faae60"/>
<rect x="373.75" y="84.5" width="9.80" height="2.05" fill="#f8a257"/>
<rect x="373.75" y="86.5" width="9.80" height="1.05" fill="#fcc476"/>
<rect x="373.75" y="87.5" width="9.80" height="1.05" fill="#fce599"/>
<rect x="373.75" y="88.5" width="9.80" height="2.05" fill="#fcdd8f"/>
<rect x="373.75" y="90.5" width="9.80" height="1.55" fill="#f9a659"/>
<rect x="373.75" y="92.0" width="9.80" height="1.05" fill="#f69551"/>
<rect x="373.75" y="93.0" width="9.80" height="1.55" fill="#f8a057"/>
<rect x="373.75" y="94.5" width="9.80" height="2.05" fill="#fdd587"/>
<rect x="373.75" y="96.5" width="9.80" height="1.55" fill="#f69451"/>
<rect x="373.75" y="98.0" width="9.80" height="1.55" fill="#fce498"/>
<rect x="373.75" y="99.5" width="9.80" height="2.05" fill="#fbc071"/>
<rect x="373.75" y="101.5" width="9.80" height="1.55" fill="#fcc677"/>
<rect x="373.75" y="103.0" width="9.80" height="2.05" fill="#fcdc8e"/>
<rect x="373.75" y="105.0" width="9.80" height="2.05" fill="#b7dbdf"/>
<rect x="373.75" y="107.0" width="9.80" height="1.55" fill="#cbe5e1"/>
<rect x="373.75" y="108.5" width="9.80" height="1.05" fill="#b8dbdf"/>
<rect x="373.75" y="109.5" width="9.80" height="1.05" fill="#c2e1e1"/>
<rect x="373.75" y="110.5" width="9.80" height="2.05" fill="#c1e0e1"/>
<rect x="373.75" y="112.5" width="9.80" height="1.55" fill="#cde6e0"/>
<rect x="373.75" y="114.0" width="9.80" height="2.05" fill="#cce6e0"/>
<rect x="373.75" y="116.0" width="9.80" height="1.55" fill="#c2e1e1"/>
<rect x="373.75" y="117.5" width="9.80" height="1.05" fill="#a7d2dd"/>
<rect x="373.75" y="118.5" width="9.80" height="2.05" fill="#c6e3e2"/>
<rect x="373.75" y="120.5" width="9.80" height="1.05" fill="#c4e2e1"/>
<rect x="373.75" y="121.5" width="9.80" height="1.05" fill="#cbe5e1"/>
<rect x="373.75" y="122.5" width="9.80" height="2.05" fill="#cee6df"/>
<rect x="373.75" y="124.5" width="9.80" height="1.55" fill="#d6eadc"/>
<rect x="373.75" y="126.0" width="9.80" height="1.55" fill="#c6e3e2"/>
<rect x="373.75" y="127.5" width="9.80" height="2.05" fill="#bedfe0"/>
<rect x="373.75" y="129.5" width="9.80" height="2.05" fill="#cae5e1"/>
<rect x="373.75" y="131.5" width="9.80" height="1.55" fill="#bbdde0"/>
<rect x="373.75" y="133.0" width="9.80" height="1.55" fill="#cfe7df"/>
<rect x="373.75" y="134.5" width="9.80" height="2.05" fill="#c1e0e1"/>
<rect x="373.75" y="136.5" width="9.80" height="1.05" fill="#c0dfe1"/>
<rect x="373.75" y="137.5" width="9.80" height="1.55" fill="#bfdfe1"/>
<rect x="373.75" y="139.0" width="9.80" height="1.05" fill="#b1d7de"/>
<rect x="373.75" y="140.0" width="9.80" height="1.55" fill="#c6e3e2"/>
<rect x="373.75" y="141.5" width="9.80" height="1.05" fill="#c4e2e1"/>
<rect x="373.75" y="142.5" width="9.80" height="2.05" fill="#b1d7de"/>
<rect x="373.75" y="144.5" width="9.80" height="1.05" fill="#c0e0e1"/>
<rect x="373.75" y="145.5" width="9.80" height="2.05" fill="#f4eeb3"/>
<rect x="373.75" y="147.5" width="9.80" height="1.05" fill="#c2e1e1"/>
<rect x="373.75" y="148.5" width="9.80" height="1.55" fill="#e9efcc"/>
<rect x="373.75" y="150.0" width="9.80" height="1.55" fill="#d3e8dd"/>
<rect x="373.75" y="151.5" width="9.80" height="1.05" fill="#cae5e1"/>
<rect x="373.75" y="152.5" width="9.80" height="1.55" fill="#bfdfe1"/>
<rect x="373.75" y="154.0" width="9.80" height="1.55" fill="#b9dce0"/>
<rect x="373.75" y="155.5" width="9.80" height="1.55" fill="#d2e8de"/>
<rect x="373.75" y="157.0" width="9.80" height="1.05" fill="#c2e1e1"/>
<rect x="373.75" y="158.0" width="9.80" height="1.55" fill="#cde6e0"/>
<rect x="373.75" y="159.5" width="9.80" height="2.05" fill="#b8dbdf"/>
<rect x="373.75" y="161.5" width="9.80" height="1.55" fill="#d0e7df"/>
<rect x="373.75" y="163.0" width="9.80" height="1.05" fill="#c9e5e1"/>
<rect x="373.75" y="164.0" width="9.80" height="1.55" fill="#bfdfe1"/>
<rect x="373.75" y="165.5" width="9.80" height="1.05" fill="#d2e8de"/>
<rect x="373.75" y="166.5" width="9.80" height="2.05" fill="#badce0"/>
<rect x="373.75" y="168.5" width="9.80" height="2.05" fill="#c1e0e1"/>
<rect x="373.75" y="170.5" width="9.80" height="2.05" fill="#c4e2e1"/>
<rect x="373.75" y="172.5" width="9.80" height="1.05" fill="#b1d7de"/>
<rect x="373.75" y="173.5" width="9.80" height="1.05" fill="#c9e4e1"/>
<rect x="373.75" y="174.5" width="9.80" height="1.55" fill="#c5e2e1"/>
<rect x="383.50" y="41.0" width="9.80" height="1.05" fill="#fab365"/>
<rect x="383.50" y="42.0" width="9.80" height="2.05" fill="#f9a559"/>
<rect x="383.50" y="44.0" width="9.80" height="2.05" fill="#fbbc6d"/>
<rect x="383.50" y="46.0" width="9.80" height="1.05" fill="#fdd485"/>
<rect x="383.50" y="47.0" width="9.80" height="1.05" fill="#f9aa5c"/>
<rect x="383.50" y="48.0" width="9.80" height="2.05" fill="#fab466"/>
<rect x="383.50" y="50.0" width="9.80" height="1.05" fill="#fce396"/>
<rect x="383.50" y="51.0" width="9.80" height="2.05" fill="#f27945"/>
<rect x="383.50" y="53.0" width="9.80" height="1.55" fill="#fccb7c"/>
<rect x="383.50" y="54.5" width="9.80" height="2.05" fill="#f79d55"/>
<rect x="383.50" y="56.5" width="9.80" height="2.05" fill="#fbbd6f"/>
<rect x="383.50" y="58.5" width="9.80" height="1.05" fill="#f69652"/>
<rect x="383.50" y="59.5" width="9.80" height="1.05" fill="#ed6c40"/>
<rect x="383.50" y="60.5" width="9.80" height="1.05" fill="#fbbd6f"/>
<rect x="383.50" y="61.5" width="9.80" height="1.05" fill="#f58a4d"/>
<rect x="383.50" y="62.5" width="9.80" height="1.05" fill="#fcc778"/>
<rect x="383.50" y="63.5" width="9.80" height="2.05" fill="#f79c55"/>
<rect x="383.50" y="65.5" width="9.80" height="1.05" fill="#fbbd6f"/>
<rect x="383.50" y="66.5" width="9.80" height="1.05" fill="#f9ad5f"/>
<rect x="383.50" y="67.5" width="9.80" height="2.05" fill="#f17544"/>
<rect x="383.50" y="69.5" width="9.80" height="1.05" fill="#f9ad5f"/>
<rect x="383.50" y="70.5" width="9.80" height="1.55" fill="#fcc778"/>
<rect x="383.50" y="72.0" width="9.80" height="1.55" fill="#f9ac5e"/>
<rect x="383.50" y="73.5" width="9.80" height="2.05" fill="#fdcf80"/>
<rect x="383.50" y="75.5" width="9.80" height="1.55" fill="#fab365"/>
<rect x="383.50" y="77.0" width="9.80" height="2.05" fill="#fab466"/>
<rect x="383.50" y="79.0" width="9.80" height="1.55" fill="#fcdc8e"/>
<rect x="383.50" y="80.5" width="9.80" height="1.55" fill="#fbba6c"/>
<rect x="383.50" y="82.0" width="9.80" height="1.55" fill="#f9a659"/>
<rect x="383.50" y="83.5" width="9.80" height="1.05" fill="#fce79c"/>
<rect x="383.50" y="84.5" width="9.80" height="2.05" fill="#f58b4d"/>
<rect x="383.50" y="86.5" width="9.80" height="1.05" fill="#f17543"/>
<rect x="383.50" y="87.5" width="9.80" height="1.05" fill="#fbc274"/>
<rect x="383.50" y="88.5" width="9.80" height="2.05" fill="#fdd88a"/>
<rect x="383.50" y="90.5" width="9.80" height="1.55" fill="#f8a257"/>
<rect x="383.50" y="92.0" width="9.80" height="1.05" fill="#f69551"/>
<rect x="383.50" y="93.0" width="9.80" height="1.55" fill="#fcdb8d"/>
<rect x="383.50" y="94.5" width="9.80" height="2.05" fill="#fdd98b"/>
<rect x="383.50" y="96.5" width="9.80" height="1.55" fill="#ed6c40"/>
<rect x="383.50" y="98.0" width="9.80" height="1.55" fill="#fab466"/>
<rect x="383.50" y="99.5" width="9.80" height="2.05" fill="#fbbc6e"/>
<rect x="383.50" y="101.5" width="9.80" height="1.55" fill="#f27b46"/>
<rect x="383.50" y="103.0" width="9.80" height="2.05" fill="#f37d47"/>
<rect x="383.50" y="105.0" width="9.80" height="2.05" fill="#bddee0"/>
<rect x="383.50" y="107.0" width="9.80" height="1.55" fill="#b7dbdf"/>
<rect x="383.50" y="108.5" width="9.80" height="1.05" fill="#a0cddb"/>
<rect x="383.50" y="109.5" width="9.80" height="1.05" fill="#b0d7de"/>
<rect x="383.50" y="110.5" width="9.80" height="2.05" fill="#c0e0e1"/>
<rect x="383.50" y="112.5" width="9.80" height="1.55" fill="#badce0"/>
<rect x="383.50" y="114.0" width="9.80" height="2.05" fill="#c1e0e1"/>
<rect x="383.50" y="116.0" width="9.80" height="1.55" fill="#bfdfe1"/>
<rect x="383.50" y="117.5" width="9.80" height="1.05" fill="#c2e1e1"/>
<rect x="383.50" y="118.5" width="9.80" height="2.05" fill="#cfe7df"/>
<rect x="383.50" y="120.5" width="9.80" height="1.05" fill="#c4e2e1"/>
<rect x="383.50" y="121.5" width="9.80" height="1.05" fill="#d7eadc"/>
<rect x="383.50" y="122.5" width="9.80" height="2.05" fill="#b7dbdf"/>
<rect x="383.50" y="124.5" width="9.80" height="1.55" fill="#c9e4e2"/>
<rect x="383.50" y="126.0" width="9.80" height="1.55" fill="#cde6e0"/>
<rect x="383.50" y="127.5" width="9.80" height="2.05" fill="#b1d7de"/>
<rect x="383.50" y="129.5" width="9.80" height="2.05" fill="#bfdfe1"/>
<rect x="383.50" y="131.5" width="9.80" height="1.55" fill="#c7e4e2"/>
<rect x="383.50" y="133.0" width="9.80" height="1.55" fill="#cae5e1"/>
<rect x="383.50" y="134.5" width="9.80" height="2.05" fill="#bbdde0"/>
<rect x="383.50" y="136.5" width="9.80" height="1.05" fill="#badde0"/>
<rect x="383.50" y="137.5" width="9.80" height="1.55" fill="#bddee0"/>
<rect x="383.50" y="139.0" width="9.80" height="1.05" fill="#cde6e0"/>
<rect x="383.50" y="140.0" width="9.80" height="1.55" fill="#bedee0"/>
<rect x="383.50" y="141.5" width="9.80" height="1.05" fill="#cde6e0"/>
<rect x="383.50" y="142.5" width="9.80" height="2.05" fill="#b6dadf"/>
<rect x="383.50" y="144.5" width="9.80" height="1.05" fill="#b9dce0"/>
<rect x="383.50" y="145.5" width="9.80" height="2.05" fill="#b2d8df"/>
<rect x="383.50" y="147.5" width="9.80" height="1.05" fill="#c7e4e2"/>
<rect x="383.50" y="148.5" width="9.80" height="1.55" fill="#c0dfe1"/>
<rect x="383.50" y="150.0" width="9.80" height="1.55" fill="#c2e1e1"/>
<rect x="383.50" y="151.5" width="9.80" height="1.05" fill="#bcdde0"/>
<rect x="383.50" y="152.5" width="9.80" height="1.55" fill="#c4e2e1"/>
<rect x="383.50" y="154.0" width="9.80" height="1.55" fill="#b2d8df"/>
<rect x="383.50" y="155.5" width="9.80" height="1.55" fill="#afd6de"/>
<rect x="383.50" y="157.0" width="9.80" height="1.05" fill="#cde6e0"/>
<rect x="383.50" y="158.0" width="9.80" height="1.55" fill="#dcecd9"/>
<rect x="383.50" y="159.5" width="9.80" height="2.05" fill="#c2e1e1"/>
<rect x="383.50" y="161.5" width="9.80" height="1.55" fill="#d6e9dc"/>
<rect x="383.50" y="163.0" width="9.80" height="1.05" fill="#c6e3e2"/>
<rect x="383.50" y="164.0" width="9.80" height="1.55" fill="#b3d9df"/>
<rect x="383.50" y="165.5" width="9.80" height="1.05" fill="#c5e3e2"/>
<rect x="383.50" y="166.5" width="9.80" height="2.05" fill="#bedfe0"/>
<rect x="383.50" y="168.5" width="9.80" height="2.05" fill="#bcdde0"/>
<rect x="383.50" y="170.5" width="9.80" height="2.05" fill="#b8dbdf"/>
<rect x="383.50" y="172.5" width="9.80" height="1.05" fill="#bfdfe1"/>
<rect x="383.50" y="173.5" width="9.80" height="1.05" fill="#a7d2dd"/>
<rect x="383.50" y="174.5" width="9.80" height="1.55" fill="#cee6df"/>
<rect x="393.25" y="41.0" width="9.80" height="1.05" fill="#c6e3e2"/>
<rect x="393.25" y="42.0" width="9.80" height="2.05" fill="#b4d9df"/>
<rect x="393.25" y="44.0" width="9.80" height="2.05" fill="#e6efd2"/>
<rect x="393.25" y="46.0" width="9.80" height="1.05" fill="#d7eadc"/>
<rect x="393.25" y="47.0" width="9.80" height="1.05" fill="#bcdde0"/>
<rect x="393.25" y="48.0" width="9.80" height="2.05" fill="#b5dadf"/>
<rect x="393.25" y="50.0" width="9.80" height="1.05" fill="#a5d1dc"/>
<rect x="393.25" y="51.0" width="9.80" height="2.05" fill="#c7e4e2"/>
<rect x="393.25" y="53.0" width="9.80" height="1.55" fill="#b8dbe0"/>
<rect x="393.25" y="54.5" width="9.80" height="2.05" fill="#b3d8df"/>
<rect x="393.25" y="56.5" width="9.80" height="2.05" fill="#d0e7df"/>
<rect x="393.25" y="58.5" width="9.80" height="1.05" fill="#a3d0dc"/>
<rect x="393.25" y="59.5" width="9.80" height="1.05" fill="#b2d8df"/>
<rect x="393.25" y="60.5" width="9.80" height="1.05" fill="#c8e4e2"/>
<rect x="393.25" y="61.5" width="9.80" height="1.05" fill="#aed6de"/>
<rect x="393.25" y="62.5" width="9.80" height="1.05" fill="#cee6e0"/>
<rect x="393.25" y="63.5" width="9.80" height="2.05" fill="#e1eed7"/>
<rect x="393.25" y="65.5" width="9.80" height="1.05" fill="#c0e0e1"/>
<rect x="393.25" y="66.5" width="9.80" height="1.05" fill="#bedfe0"/>
<rect x="393.25" y="67.5" width="9.80" height="2.05" fill="#bcdde0"/>
<rect x="393.25" y="69.5" width="9.80" height="1.05" fill="#cae5e1"/>
<rect x="393.25" y="70.5" width="9.80" height="1.55" fill="#c9e4e2"/>
<rect x="393.25" y="72.0" width="9.80" height="1.55" fill="#dfedd8"/>
<rect x="393.25" y="73.5" width="9.80" height="2.05" fill="#acd5de"/>
<rect x="393.25" y="75.5" width="9.80" height="1.55" fill="#b8dbdf"/>
<rect x="393.25" y="77.0" width="9.80" height="2.05" fill="#c7e4e2"/>
<rect x="393.25" y="79.0" width="9.80" height="1.55" fill="#bddee0"/>
<rect x="393.25" y="80.5" width="9.80" height="1.55" fill="#cde6e0"/>
<rect x="393.25" y="82.0" width="9.80" height="1.55" fill="#b5dadf"/>
<rect x="393.25" y="83.5" width="9.80" height="1.05" fill="#c2e1e1"/>
<rect x="393.25" y="84.5" width="9.80" height="2.05" fill="#d0e7df"/>
<rect x="393.25" y="86.5" width="9.80" height="1.05" fill="#badce0"/>
<rect x="393.25" y="87.5" width="9.80" height="1.05" fill="#c2e1e1"/>
<rect x="393.25" y="88.5" width="9.80" height="2.05" fill="#c8e4e2"/>
<rect x="393.25" y="90.5" width="9.80" height="1.55" fill="#aed5de"/>
<rect x="393.25" y="92.0" width="9.80" height="1.05" fill="#c7e3e2"/>
<rect x="393.25" y="93.0" width="9.80" height="1.55" fill="#acd4de"/>
<rect x="393.25" y="94.5" width="9.80" height="2.05" fill="#a5d1dc"/>
<rect x="393.25" y="96.5" width="9.80" height="1.55" fill="#d2e8de"/>
<rect x="393.25" y="98.0" width="9.80" height="1.55" fill="#b3d8df"/>
<rect x="393.25" y="99.5" width="9.80" height="2.05" fill="#add5de"/>
<rect x="393.25" y="101.5" width="9.80" height="1.55" fill="#a7d2dd"/>
<rect x="393.25" y="103.0" width="9.80" height="2.05" fill="#a8d3dd"/>
<rect x="393.25" y="105.0" width="9.80" height="2.05" fill="#fbb86a"/>
<rect x="393.25" y="107.0" width="9.80" height="1.55" fill="#fcdc8e"/>
<rect x="393.25" y="108.5" width="9.80" height="1.05" fill="#fbb96a"/>
<rect x="393.25" y="109.5" width="9.80" height="1.05" fill="#f89e56"/>
<rect x="393.25" y="110.5" width="9.80" height="2.05" fill="#f9aa5c"/>
<rect x="393.25" y="112.5" width="9.80" height="1.55" fill="#fdd789"/>
<rect x="393.25" y="114.0" width="9.80" height="2.05" fill="#fdd98b"/>
<rect x="393.25" y="116.0" width="9.80" height="1.55" fill="#f69652"/>
<rect x="393.25" y="117.5" width="9.80" height="1.05" fill="#faae60"/>
<rect x="393.25" y="118.5" width="9.80" height="2.05" fill="#fcc879"/>
<rect x="393.25" y="120.5" width="9.80" height="1.05" fill="#fce195"/>
<rect x="393.25" y="121.5" width="9.80" height="1.05" fill="#fbc071"/>
<rect x="393.25" y="122.5" width="9.80" height="2.05" fill="#fbb96b"/>
<rect x="393.25" y="124.5" width="9.80" height="1.55" fill="#fbc273"/>
<rect x="393.25" y="126.0" width="9.80" height="1.55" fill="#ed6d40"/>
<rect x="393.25" y="127.5" width="9.80" height="2.05" fill="#fcdf92"/>
<rect x="393.25" y="129.5" width="9.80" height="2.05" fill="#fbba6c"/>
<rect x="393.25" y="131.5" width="9.80" height="1.55" fill="#fab567"/>
<rect x="393.25" y="133.0" width="9.80" height="1.55" fill="#f9ac5e"/>
<rect x="393.25" y="134.5" width="9.80" height="2.05" fill="#fab667"/>
<rect x="393.25" y="136.5" width="9.80" height="1.05" fill="#fce094"/>
<rect x="393.25" y="137.5" width="9.80" height="1.55" fill="#f79d55"/>
<rect x="393.25" y="139.0" width="9.80" height="1.05" fill="#fcce7f"/>
<rect x="393.25" y="140.0" width="9.80" height="1.55" fill="#f9a85a"/>
<rect x="393.25" y="141.5" width="9.80" height="1.05" fill="#f8a358"/>
<rect x="393.25" y="142.5" width="9.80" height="2.05" fill="#ed6c40"/>
<rect x="393.25" y="144.5" width="9.80" height="1.05" fill="#fdcf80"/>
<rect x="393.25" y="145.5" width="9.80" height="2.05" fill="#fab162"/>
<rect x="393.25" y="147.5" width="9.80" height="1.05" fill="#fcc677"/>
<rect x="393.25" y="148.5" width="9.80" height="1.55" fill="#f58e4e"/>
<rect x="393.25" y="150.0" width="9.80" height="1.55" fill="#fdd384"/>
<rect x="393.25" y="151.5" width="9.80" height="1.05" fill="#fab668"/>
<rect x="393.25" y="152.5" width="9.80" height="1.55" fill="#fab365"/>
<rect x="393.25" y="154.0" width="9.80" height="1.55" fill="#fdd283"/>
<rect x="393.25" y="155.5" width="9.80" height="1.55" fill="#f8a257"/>
<rect x="393.25" y="157.0" width="9.80" height="1.05" fill="#fdd789"/>
<rect x="393.25" y="158.0" width="9.80" height="1.55" fill="#f38148"/>
<rect x="393.25" y="159.5" width="9.80" height="2.05" fill="#f58a4d"/>
<rect x="393.25" y="161.5" width="9.80" height="1.55" fill="#fcc375"/>
<rect x="393.25" y="163.0" width="9.80" height="1.05" fill="#fdd789"/>
<rect x="393.25" y="164.0" width="9.80" height="1.55" fill="#fdd384"/>
<rect x="393.25" y="165.5" width="9.80" height="1.05" fill="#fccc7d"/>
<rect x="393.25" y="166.5" width="9.80" height="2.05" fill="#fdd88a"/>
<rect x="393.25" y="168.5" width="9.80" height="2.05" fill="#f4884c"/>
<rect x="393.25" y="170.5" width="9.80" height="2.05" fill="#fdd384"/>
<rect x="393.25" y="172.5" width="9.80" height="1.05" fill="#f9a559"/>
<rect x="393.25" y="173.5" width="9.80" height="1.05" fill="#fdd586"/>
<rect x="393.25" y="174.5" width="9.80" height="1.55" fill="#fab769"/>
<rect x="403.00" y="41.0" width="9.80" height="1.05" fill="#c7e3e2"/>
<rect x="403.00" y="42.0" width="9.80" height="2.05" fill="#bddee0"/>
<rect x="403.00" y="44.0" width="9.80" height="2.05" fill="#cfe7df"/>
<rect x="403.00" y="46.0" width="9.80" height="1.05" fill="#b7dadf"/>
<rect x="403.00" y="47.0" width="9.80" height="1.05" fill="#bcdde0"/>
<rect x="403.00" y="48.0" width="9.80" height="2.05" fill="#e2eed7"/>
<rect x="403.00" y="50.0" width="9.80" height="1.05" fill="#c5e2e2"/>
<rect x="403.00" y="51.0" width="9.80" height="2.05" fill="#b9dce0"/>
<rect x="403.00" y="53.0" width="9.80" height="1.55" fill="#c9e4e2"/>
<rect x="403.00" y="54.5" width="9.80" height="2.05" fill="#f2eeb8"/>
<rect x="403.00" y="56.5" width="9.80" height="2.05" fill="#cae5e1"/>
<rect x="403.00" y="58.5" width="9.80" height="1.05" fill="#c2e1e1"/>
<rect x="403.00" y="59.5" width="9.80" height="1.05" fill="#b2d8df"/>
<rect x="403.00" y="60.5" width="9.80" height="1.05" fill="#b1d7de"/>
<rect x="403.00" y="61.5" width="9.80" height="1.05" fill="#c2e1e1"/>
<rect x="403.00" y="62.5" width="9.80" height="1.05" fill="#b7dbdf"/>
<rect x="403.00" y="63.5" width="9.80" height="2.05" fill="#c6e3e2"/>
<rect x="403.00" y="65.5" width="9.80" height="1.05" fill="#c9e4e2"/>
<rect x="403.00" y="66.5" width="9.80" height="1.05" fill="#bfdfe1"/>
<rect x="403.00" y="67.5" width="9.80" height="2.05" fill="#f4eeb3"/>
<rect x="403.00" y="69.5" width="9.80" height="1.05" fill="#c7e4e2"/>
<rect x="403.00" y="70.5" width="9.80" height="1.55" fill="#c5e2e1"/>
<rect x="403.00" y="72.0" width="9.80" height="1.55" fill="#cee6df"/>
<rect x="403.00" y="73.5" width="9.80" height="2.05" fill="#cae5e1"/>
<rect x="403.00" y="75.5" width="9.80" height="1.55" fill="#cbe5e1"/>
<rect x="403.00" y="77.0" width="9.80" height="2.05" fill="#c1e0e1"/>
<rect x="403.00" y="79.0" width="9.80" height="1.55" fill="#cfe7df"/>
<rect x="403.00" y="80.5" width="9.80" height="1.55" fill="#c5e2e1"/>
<rect x="403.00" y="82.0" width="9.80" height="1.55" fill="#cce6e0"/>
<rect x="403.00" y="83.5" width="9.80" height="1.05" fill="#bedfe0"/>
<rect x="403.00" y="84.5" width="9.80" height="2.05" fill="#bfdfe1"/>
<rect x="403.00" y="86.5" width="9.80" height="1.05" fill="#bbdde0"/>
<rect x="403.00" y="87.5" width="9.80" height="1.05" fill="#afd6de"/>
<rect x="403.00" y="88.5" width="9.80" height="2.05" fill="#b5dadf"/>
<rect x="403.00" y="90.5" width="9.80" height="1.55" fill="#c3e1e1"/>
<rect x="403.00" y="92.0" width="9.80" height="1.05" fill="#c0dfe1"/>
<rect x="403.00" y="93.0" width="9.80" height="1.55" fill="#b7dbdf"/>
<rect x="403.00" y="94.5" width="9.80" height="2.05" fill="#cbe5e1"/>
<rect x="403.00" y="96.5" width="9.80" height="1.55" fill="#a8d2dd"/>
<rect x="403.00" y="98.0" width="9.80" height="1.55" fill="#b6dadf"/>
<rect x="403.00" y="99.5" width="9.80" height="2.05" fill="#d3e8dd"/>
<rect x="403.00" y="101.5" width="9.80" height="1.55" fill="#bedfe0"/>
<rect x="403.00" y="103.0" width="9.80" height="2.05" fill="#c9e4e2"/>
<rect x="403.00" y="105.0" width="9.80" height="2.05" fill="#fbbb6d"/>
<rect x="403.00" y="107.0" width="9.80" height="1.55" fill="#f9a659"/>
<rect x="403.00" y="108.5" width="9.80" height="1.05" fill="#f17844"/>
<rect x="403.00" y="109.5" width="9.80" height="1.05" fill="#ef7142"/>
<rect x="403.00" y="110.5" width="9.80" height="2.05" fill="#f9aa5c"/>
<rect x="403.00" y="112.5" width="9.80" height="1.55" fill="#faaf61"/>
<rect x="403.00" y="114.0" width="9.80" height="2.05" fill="#fccd7e"/>
<rect x="403.00" y="116.0" width="9.80" height="1.55" fill="#fbc172"/>
<rect x="403.00" y="117.5" width="9.80" height="1.05" fill="#fccc7d"/>
<rect x="403.00" y="118.5" width="9.80" height="2.05" fill="#fcc476"/>
<rect x="403.00" y="120.5" width="9.80" height="1.05" fill="#fab869"/>
<rect x="403.00" y="121.5" width="9.80" height="1.05" fill="#fab365"/>
<rect x="403.00" y="122.5" width="9.80" height="2.05" fill="#f9a75a"/>
<rect x="403.00" y="124.5" width="9.80" height="1.55" fill="#f69752"/>
<rect x="403.00" y="126.0" width="9.80" height="1.55" fill="#fccc7d"/>
<rect x="403.00" y="127.5" width="9.80" height="2.05" fill="#f4864b"/>
<rect x="403.00" y="129.5" width="9.80" height="2.05" fill="#fdd081"/>
<rect x="403.00" y="131.5" width="9.80" height="1.55" fill="#fcc576"/>
<rect x="403.00" y="133.0" width="9.80" height="1.55" fill="#fab668"/>
<rect x="403.00" y="134.5" width="9.80" height="2.05" fill="#fab263"/>
<rect x="403.00" y="136.5" width="9.80" height="1.05" fill="#fbbd6f"/>
<rect x="403.00" y="137.5" width="9.80" height="1.55" fill="#f79b54"/>
<rect x="403.00" y="139.0" width="9.80" height="1.05" fill="#f17744"/>
<rect x="403.00" y="140.0" width="9.80" height="1.55" fill="#fbbd6e"/>
<rect x="403.00" y="141.5" width="9.80" height="1.05" fill="#f8a458"/>
<rect x="403.00" y="142.5" width="9.80" height="2.05" fill="#fcdb8e"/>
<rect x="403.00" y="144.5" width="9.80" height="1.05" fill="#fcc576"/>
<rect x="403.00" y="145.5" width="9.80" height="2.05" fill="#fce194"/>
<rect x="403.00" y="147.5" width="9.80" height="1.05" fill="#fdd789"/>
<rect x="403.00" y="148.5" width="9.80" height="1.55" fill="#f79a54"/>
<rect x="403.00" y="150.0" width="9.80" height="1.55" fill="#f69250"/>
<rect x="403.00" y="151.5" width="9.80" height="1.05" fill="#f37e47"/>
<rect x="403.00" y="152.5" width="9.80" height="1.55" fill="#f27945"/>
<rect x="403.00" y="154.0" width="9.80" height="1.55" fill="#fbbc6d"/>
<rect x="403.00" y="155.5" width="9.80" height="1.55" fill="#f27845"/>
<rect x="403.00" y="157.0" width="9.80" height="1.05" fill="#fab162"/>
<rect x="403.00" y="158.0" width="9.80" height="1.55" fill="#fcdd90"/>
<rect x="403.00" y="159.5" width="9.80" height="2.05" fill="#ed6c40"/>
<rect x="403.00" y="161.5" width="9.80" height="1.55" fill="#fce396"/>
<rect x="403.00" y="163.0" width="9.80" height="1.05" fill="#fbc273"/>
<rect x="403.00" y="164.0" width="9.80" height="1.55" fill="#f69551"/>
<rect x="403.00" y="165.5" width="9.80" height="1.05" fill="#f79a54"/>
<rect x="403.00" y="166.5" width="9.80" height="2.05" fill="#fbbd6e"/>
<rect x="403.00" y="168.5" width="9.80" height="2.05" fill="#ed6c40"/>
<rect x="403.00" y="170.5" width="9.80" height="2.05" fill="#f79853"/>
<rect x="403.00" y="172.5" width="9.80" height="1.05" fill="#fdd485"/>
<rect x="403.00" y="173.5" width="9.80" height="1.05" fill="#ef7041"/>
<rect x="403.00" y="174.5" width="9.80" height="1.55" fill="#fbc172"/>
<rect x="412.75" y="41.0" width="9.80" height="1.05" fill="#d2e8de"/>
<rect x="412.75" y="42.0" width="9.80" height="2.05" fill="#cbe5e1"/>
<rect x="412.75" y="44.0" width="9.80" height="2.05" fill="#a7d2dd"/>
<rect x="412.75" y="46.0" width="9.80" height="1.05" fill="#b2d8df"/>
<rect x="412.75" y="47.0" width="9.80" height="1.05" fill="#b0d7de"/>
<rect x="412.75" y="48.0" width="9.80" height="2.05" fill="#c4e2e1"/>
<rect x="412.75" y="50.0" width="9.80" height="1.05" fill="#b9dce0"/>
<rect x="412.75" y="51.0" width="9.80" height="2.05" fill="#abd4dd"/>
<rect x="412.75" y="53.0" width="9.80" height="1.55" fill="#d8eadb"/>
<rect x="412.75" y="54.5" width="9.80" height="2.05" fill="#bfdfe1"/>
<rect x="412.75" y="56.5" width="9.80" height="2.05" fill="#aad3dd"/>
<rect x="412.75" y="58.5" width="9.80" height="1.05" fill="#d4e9dd"/>
<rect x="412.75" y="59.5" width="9.80" height="1.05" fill="#d2e8de"/>
<rect x="412.75" y="60.5" width="9.80" height="1.05" fill="#b6dadf"/>
<rect x="412.75" y="61.5" width="9.80" height="1.05" fill="#bcdde0"/>
<rect x="412.75" y="62.5" width="9.80" height="1.05" fill="#eaefc9"/>
<rect x="412.75" y="63.5" width="9.80" height="2.05" fill="#c9e4e2"/>
<rect x="412.75" y="65.5" width="9.80" height="1.05" fill="#c8e4e2"/>
<rect x="412.75" y="66.5" width="9.80" height="1.05" fill="#aad4dd"/>
<rect x="412.75" y="67.5" width="9.80" height="2.05" fill="#e5efd3"/>
<rect x="412.75" y="69.5" width="9.80" height="1.05" fill="#b8dbdf"/>
<rect x="412.75" y="70.5" width="9.80" height="1.55" fill="#a2cfdc"/>
<rect x="412.75" y="72.0" width="9.80" height="1.55" fill="#e7efcf"/>
<rect x="412.75" y="73.5" width="9.80" height="2.05" fill="#bedee0"/>
<rect x="412.75" y="75.5" width="9.80" height="1.55" fill="#b6dadf"/>
<rect x="412.75" y="77.0" width="9.80" height="2.05" fill="#add5de"/>
<rect x="412.75" y="79.0" width="9.80" height="1.55" fill="#cee6df"/>
<rect x="412.75" y="80.5" width="9.80" height="1.55" fill="#c8e4e2"/>
<rect x="412.75" y="82.0" width="9.80" height="1.55" fill="#b1d7de"/>
<rect x="412.75" y="83.5" width="9.80" height="1.05" fill="#c5e3e2"/>
<rect x="412.75" y="84.5" width="9.80" height="2.05" fill="#c1e0e1"/>
<rect x="412.75" y="86.5" width="9.80" height="1.05" fill="#c3e1e1"/>
<rect x="412.75" y="87.5" width="9.80" height="1.05" fill="#cfe7df"/>
<rect x="412.75" y="88.5" width="9.80" height="2.05" fill="#c7e3e2"/>
<rect x="412.75" y="90.5" width="9.80" height="1.55" fill="#bedee0"/>
<rect x="412.75" y="92.0" width="9.80" height="1.05" fill="#cae5e1"/>
<rect x="412.75" y="93.0" width="9.80" height="1.55" fill="#c8e4e2"/>
<rect x="412.75" y="94.5" width="9.80" height="2.05" fill="#cfe7df"/>
<rect x="412.75" y="96.5" width="9.80" height="1.55" fill="#dfedd8"/>
<rect x="412.75" y="98.0" width="9.80" height="1.55" fill="#badce0"/>
<rect x="412.75" y="99.5" width="9.80" height="2.05" fill="#daebda"/>
<rect x="412.75" y="101.5" width="9.80" height="1.55" fill="#b4d9df"/>
<rect x="412.75" y="103.0" width="9.80" height="2.05" fill="#cae5e1"/>
<rect x="412.75" y="105.0" width="9.80" height="2.05" fill="#fcc475"/>
<rect x="412.75" y="107.0" width="9.80" height="1.55" fill="#f8a358"/>
<rect x="412.75" y="108.5" width="9.80" height="1.05" fill="#f9ab5d"/>
<rect x="412.75" y="109.5" width="9.80" height="1.05" fill="#f79953"/>
<rect x="412.75" y="110.5" width="9.80" height="2.05" fill="#fab566"/>
<rect x="412.75" y="112.5" width="9.80" height="1.55" fill="#fce79c"/>
<rect x="412.75" y="114.0" width="9.80" height="2.05" fill="#ed6c40"/>
<rect x="412.75" y="116.0" width="9.80" height="1.55" fill="#fdd182"/>
<rect x="412.75" y="117.5" width="9.80" height="1.05" fill="#fcc879"/>
<rect x="412.75" y="118.5" width="9.80" height="2.05" fill="#fcc779"/>
<rect x="412.75" y="120.5" width="9.80" height="1.05" fill="#fce296"/>
<rect x="412.75" y="121.5" width="9.80" height="1.05" fill="#fdcf80"/>
<rect x="412.75" y="122.5" width="9.80" height="2.05" fill="#f69250"/>
<rect x="412.75" y="124.5" width="9.80" height="1.55" fill="#fcc779"/>
<rect x="412.75" y="126.0" width="9.80" height="1.55" fill="#fdd88a"/>
<rect x="412.75" y="127.5" width="9.80" height="2.05" fill="#fbc274"/>
<rect x="412.75" y="129.5" width="9.80" height="2.05" fill="#fcc677"/>
<rect x="412.75" y="131.5" width="9.80" height="1.55" fill="#fce79c"/>
<rect x="412.75" y="133.0" width="9.80" height="1.55" fill="#f27945"/>
<rect x="412.75" y="134.5" width="9.80" height="2.05" fill="#fdd789"/>
<rect x="412.75" y="136.5" width="9.80" height="1.05" fill="#fbba6b"/>
<rect x="412.75" y="137.5" width="9.80" height="1.55" fill="#fab668"/>
<rect x="412.75" y="139.0" width="9.80" height="1.05" fill="#f8a458"/>
<rect x="412.75" y="140.0" width="9.80" height="1.55" fill="#fcc476"/>
<rect x="412.75" y="141.5" width="9.80" height="1.05" fill="#f8a157"/>
<rect x="412.75" y="142.5" width="9.80" height="2.05" fill="#fdd182"/>
<rect x="412.75" y="144.5" width="9.80" height="1.05" fill="#f79c55"/>
<rect x="412.75" y="145.5" width="9.80" height="2.05" fill="#fbbe70"/>
<rect x="412.75" y="147.5" width="9.80" height="1.05" fill="#fab86a"/>
<rect x="412.75" y="148.5" width="9.80" height="1.55" fill="#fcc97a"/>
<rect x="412.75" y="150.0" width="9.80" height="1.55" fill="#f79853"/>
<rect x="412.75" y="151.5" width="9.80" height="1.05" fill="#fdd485"/>
<rect x="412.75" y="152.5" width="9.80" height="1.55" fill="#fdd889"/>
<rect x="412.75" y="154.0" width="9.80" height="1.55" fill="#f8a257"/>
<rect x="412.75" y="155.5" width="9.80" height="1.55" fill="#f58d4e"/>
<rect x="412.75" y="157.0" width="9.80" height="1.05" fill="#f38048"/>
<rect x="412.75" y="158.0" width="9.80" height="1.55" fill="#fce295"/>
<rect x="412.75" y="159.5" width="9.80" height="2.05" fill="#f07242"/>
<rect x="412.75" y="161.5" width="9.80" height="1.55" fill="#fab062"/>
<rect x="412.75" y="163.0" width="9.80" height="1.05" fill="#fdd485"/>
<rect x="412.75" y="164.0" width="9.80" height="1.55" fill="#fab567"/>
<rect x="412.75" y="165.5" width="9.80" height="1.05" fill="#fdd788"/>
<rect x="412.75" y="166.5" width="9.80" height="2.05" fill="#fbbb6d"/>
<rect x="412.75" y="168.5" width="9.80" height="2.05" fill="#faaf60"/>
<rect x="412.75" y="170.5" width="9.80" height="2.05" fill="#f9ac5e"/>
<rect x="412.75" y="172.5" width="9.80" height="1.05" fill="#f4884c"/>
<rect x="412.75" y="173.5" width="9.80" height="1.05" fill="#fbbe6f"/>
<rect x="412.75" y="174.5" width="9.80" height="1.55" fill="#fcc374"/>
<rect x="422.50" y="41.0" width="9.80" height="1.05" fill="#d7eadc"/>
<rect x="422.50" y="42.0" width="9.80" height="2.05" fill="#b3d9df"/>
<rect x="422.50" y="44.0" width="9.80" height="2.05" fill="#b1d7de"/>
<rect x="422.50" y="46.0" width="9.80" height="1.05" fill="#d0e7de"/>
<rect x="422.50" y="47.0" width="9.80" height="1.05" fill="#c2e1e1"/>
<rect x="422.50" y="48.0" width="9.80" height="2.05" fill="#cbe5e1"/>
<rect x="422.50" y="50.0" width="9.80" height="1.05" fill="#c3e1e1"/>
<rect x="422.50" y="51.0" width="9.80" height="2.05" fill="#bbdde0"/>
<rect x="422.50" y="53.0" width="9.80" height="1.55" fill="#bddee0"/>
<rect x="422.50" y="54.5" width="9.80" height="2.05" fill="#b4d9df"/>
<rect x="422.50" y="56.5" width="9.80" height="2.05" fill="#cde6e0"/>
<rect x="422.50" y="58.5" width="9.80" height="1.05" fill="#b3d8df"/>
<rect x="422.50" y="59.5" width="9.80" height="1.05" fill="#bbdde0"/>
<rect x="422.50" y="60.5" width="9.80" height="1.05" fill="#cbe5e1"/>
<rect x="422.50" y="61.5" width="9.80" height="1.05" fill="#abd4dd"/>
<rect x="422.50" y="62.5" width="9.80" height="1.05" fill="#cbe5e1"/>
<rect x="422.50" y="63.5" width="9.80" height="2.05" fill="#b5dadf"/>
<rect x="422.50" y="65.5" width="9.80" height="1.05" fill="#b3d9df"/>
<rect x="422.50" y="66.5" width="9.80" height="1.05" fill="#d0e7de"/>
<rect x="422.50" y="67.5" width="9.80" height="2.05" fill="#c9e4e1"/>
<rect x="422.50" y="69.5" width="9.80" height="1.05" fill="#aad3dd"/>
<rect x="422.50" y="70.5" width="9.80" height="1.55" fill="#acd5de"/>
<rect x="422.50" y="72.0" width="9.80" height="1.55" fill="#bbdde0"/>
<rect x="422.50" y="73.5" width="9.80" height="2.05" fill="#c7e3e2"/>
<rect x="422.50" y="75.5" width="9.80" height="1.55" fill="#badce0"/>
<rect x="422.50" y="77.0" width="9.80" height="2.05" fill="#cfe7df"/>
<rect x="422.50" y="79.0" width="9.80" height="1.55" fill="#cfe7df"/>
<rect x="422.50" y="80.5" width="9.80" height="1.55" fill="#cae5e1"/>
<rect x="422.50" y="82.0" width="9.80" height="1.55" fill="#add5de"/>
<rect x="422.50" y="83.5" width="9.80" height="1.05" fill="#b7dbdf"/>
<rect x="422.50" y="84.5" width="9.80" height="2.05" fill="#c2e1e1"/>
<rect x="422.50" y="86.5" width="9.80" height="1.05" fill="#b3d8df"/>
<rect x="422.50" y="87.5" width="9.80" height="1.05" fill="#aad4dd"/>
<rect x="422.50" y="88.5" width="9.80" height="2.05" fill="#cce5e0"/>
<rect x="422.50" y="90.5" width="9.80" height="1.55" fill="#cde6e0"/>
<rect x="422.50" y="92.0" width="9.80" height="1.05" fill="#cee6df"/>
<rect x="422.50" y="93.0" width="9.80" height="1.55" fill="#c8e4e2"/>
<rect x="422.50" y="94.5" width="9.80" height="2.05" fill="#c2e1e1"/>
<rect x="422.50" y="96.5" width="9.80" height="1.55" fill="#cbe5e1"/>
<rect x="422.50" y="98.0" width="9.80" height="1.55" fill="#bfdfe1"/>
<rect x="422.50" y="99.5" width="9.80" height="2.05" fill="#c6e3e2"/>
<rect x="422.50" y="101.5" width="9.80" height="1.55" fill="#badce0"/>
<rect x="422.50" y="103.0" width="9.80" height="2.05" fill="#c2e1e1"/>
<rect x="422.50" y="105.0" width="9.80" height="2.05" fill="#fab769"/>
<rect x="422.50" y="107.0" width="9.80" height="1.55" fill="#f5904f"/>
<rect x="422.50" y="108.5" width="9.80" height="1.05" fill="#f79853"/>
<rect x="422.50" y="109.5" width="9.80" height="1.05" fill="#fab365"/>
<rect x="422.50" y="110.5" width="9.80" height="2.05" fill="#fab061"/>
<rect x="422.50" y="112.5" width="9.80" height="1.55" fill="#f79e55"/>
<rect x="422.50" y="114.0" width="9.80" height="2.05" fill="#f9ad5f"/>
<rect x="422.50" y="116.0" width="9.80" height="1.55" fill="#f79b54"/>
<rect x="422.50" y="117.5" width="9.80" height="1.05" fill="#ed6c40"/>
<rect x="422.50" y="118.5" width="9.80" height="2.05" fill="#fce79c"/>
<rect x="422.50" y="120.5" width="9.80" height="1.05" fill="#fab163"/>
<rect x="422.50" y="121.5" width="9.80" height="1.05" fill="#f79a54"/>
<rect x="422.50" y="122.5" width="9.80" height="2.05" fill="#fcc576"/>
<rect x="422.50" y="124.5" width="9.80" height="1.55" fill="#fbbb6d"/>
<rect x="422.50" y="126.0" width="9.80" height="1.55" fill="#f69752"/>
<rect x="422.50" y="127.5" width="9.80" height="2.05" fill="#fce195"/>
<rect x="422.50" y="129.5" width="9.80" height="2.05" fill="#fbc374"/>
<rect x="422.50" y="131.5" width="9.80" height="1.55" fill="#f38249"/>
<rect x="422.50" y="133.0" width="9.80" height="1.55" fill="#f8a257"/>
<rect x="422.50" y="134.5" width="9.80" height="2.05" fill="#fdcf80"/>
<rect x="422.50" y="136.5" width="9.80" height="1.05" fill="#fbb86a"/>
<rect x="422.50" y="137.5" width="9.80" height="1.55" fill="#f79853"/>
<rect x="422.50" y="139.0" width="9.80" height="1.05" fill="#f9ab5d"/>
<rect x="422.50" y="140.0" width="9.80" height="1.55" fill="#f79c55"/>
<rect x="422.50" y="141.5" width="9.80" height="1.05" fill="#f69150"/>
<rect x="422.50" y="142.5" width="9.80" height="2.05" fill="#fbc071"/>
<rect x="422.50" y="144.5" width="9.80" height="1.05" fill="#f5904f"/>
<rect x="422.50" y="145.5" width="9.80" height="2.05" fill="#f9a659"/>
<rect x="422.50" y="147.5" width="9.80" height="1.05" fill="#fab567"/>
<rect x="422.50" y="148.5" width="9.80" height="1.55" fill="#fdd384"/>
<rect x="422.50" y="150.0" width="9.80" height="1.55" fill="#f9ad5f"/>
<rect x="422.50" y="151.5" width="9.80" height="1.05" fill="#fdd586"/>
<rect x="422.50" y="152.5" width="9.80" height="1.55" fill="#f58d4e"/>
<rect x="422.50" y="154.0" width="9.80" height="1.55" fill="#fab567"/>
<rect x="422.50" y="155.5" width="9.80" height="1.55" fill="#fcdc8e"/>
<rect x="422.50" y="157.0" width="9.80" height="1.05" fill="#fab869"/>
<rect x="422.50" y="158.0" width="9.80" height="1.55" fill="#f37e47"/>
<rect x="422.50" y="159.5" width="9.80" height="2.05" fill="#fab364"/>
<rect x="422.50" y="161.5" width="9.80" height="1.55" fill="#f69752"/>
<rect x="422.50" y="163.0" width="9.80" height="1.05" fill="#f69652"/>
<rect x="422.50" y="164.0" width="9.80" height="1.55" fill="#f9aa5c"/>
<rect x="422.50" y="165.5" width="9.80" height="1.05" fill="#fab163"/>
<rect x="422.50" y="166.5" width="9.80" height="2.05" fill="#fce094"/>
<rect x="422.50" y="168.5" width="9.80" height="2.05" fill="#fab062"/>
<rect x="422.50" y="170.5" width="9.80" height="2.05" fill="#f8a257"/>
<rect x="422.50" y="172.5" width="9.80" height="1.05" fill="#fbb96b"/>
<rect x="422.50" y="173.5" width="9.80" height="1.05" fill="#f8a358"/>
<rect x="422.50" y="174.5" width="9.80" height="1.55" fill="#fbc273"/>
<rect x="432.25" y="41.0" width="9.80" height="1.05" fill="#c2e1e1"/>
<rect x="432.25" y="42.0" width="9.80" height="2.05" fill="#b4d9df"/>
<rect x="432.25" y="44.0" width="9.80" height="2.05" fill="#b0d7de"/>
<rect x="432.25" y="46.0" width="9.80" height="1.05" fill="#d5e9dc"/>
<rect x="432.25" y="47.0" width="9.80" height="1.05" fill="#d6eadc"/>
<rect x="432.25" y="48.0" width="9.80" height="2.05" fill="#cae5e1"/>
<rect x="432.25" y="50.0" width="9.80" height="1.05" fill="#cce6e0"/>
<rect x="432.25" y="51.0" width="9.80" height="2.05" fill="#a6d1dd"/>
<rect x="432.25" y="53.0" width="9.80" height="1.55" fill="#b6dadf"/>
<rect x="432.25" y="54.5" width="9.80" height="2.05" fill="#badce0"/>
<rect x="432.25" y="56.5" width="9.80" height="2.05" fill="#c3e1e1"/>
<rect x="432.25" y="58.5" width="9.80" height="1.05" fill="#c0dfe1"/>
<rect x="432.25" y="59.5" width="9.80" height="1.05" fill="#c9e4e2"/>
<rect x="432.25" y="60.5" width="9.80" height="1.05" fill="#b2d8de"/>
<rect x="432.25" y="61.5" width="9.80" height="1.05" fill="#c2e1e1"/>
<rect x="432.25" y="62.5" width="9.80" height="1.05" fill="#b3d9df"/>
<rect x="432.25" y="63.5" width="9.80" height="2.05" fill="#cae5e1"/>
<rect x="432.25" y="65.5" width="9.80" height="1.05" fill="#c8e4e2"/>
<rect x="432.25" y="66.5" width="9.80" height="1.05" fill="#abd4dd"/>
<rect x="432.25" y="67.5" width="9.80" height="2.05" fill="#badce0"/>
<rect x="432.25" y="69.5" width="9.80" height="1.05" fill="#c4e2e1"/>
<rect x="432.25" y="70.5" width="9.80" height="1.55" fill="#9fccdb"/>
<rect x="432.25" y="72.0" width="9.80" height="1.55" fill="#d1e8de"/>
<rect x="432.25" y="73.5" width="9.80" height="2.05" fill="#c9e4e2"/>
<rect x="432.25" y="75.5" width="9.80" height="1.55" fill="#c4e2e1"/>
<rect x="432.25" y="77.0" width="9.80" height="2.05" fill="#c0e0e1"/>
<rect x="432.25" y="79.0" width="9.80" height="1.55" fill="#bddee0"/>
<rect x="432.25" y="80.5" width="9.80" height="1.55" fill="#bedee0"/>
<rect x="432.25" y="82.0" width="9.80" height="1.55" fill="#b6dadf"/>
<rect x="432.25" y="83.5" width="9.80" height="1.05" fill="#c8e4e2"/>
<rect x="432.25" y="84.5" width="9.80" height="2.05" fill="#c2e0e1"/>
<rect x="432.25" y="86.5" width="9.80" height="1.05" fill="#c4e2e1"/>
<rect x="432.25" y="87.5" width="9.80" height="1.05" fill="#abd4dd"/>
<rect x="432.25" y="88.5" width="9.80" height="2.05" fill="#b5d9df"/>
<rect x="432.25" y="90.5" width="9.80" height="1.55" fill="#c3e1e1"/>
<rect x="432.25" y="92.0" width="9.80" height="1.05" fill="#d0e7df"/>
<rect x="432.25" y="93.0" width="9.80" height="1.55" fill="#d5e9dc"/>
<rect x="432.25" y="94.5" width="9.80" height="2.05" fill="#c5e3e2"/>
<rect x="432.25" y="96.5" width="9.80" height="1.55" fill="#b7dbdf"/>
<rect x="432.25" y="98.0" width="9.80" height="1.55" fill="#bfdfe1"/>
<rect x="432.25" y="99.5" width="9.80" height="2.05" fill="#c5e3e2"/>
<rect x="432.25" y="101.5" width="9.80" height="1.55" fill="#c6e3e2"/>
<rect x="432.25" y="103.0" width="9.80" height="2.05" fill="#c8e4e2"/>
<rect x="432.25" y="105.0" width="9.80" height="2.05" fill="#fcc375"/>
<rect x="432.25" y="107.0" width="9.80" height="1.55" fill="#f79b54"/>
<rect x="432.25" y="108.5" width="9.80" height="1.05" fill="#f9a559"/>
<rect x="432.25" y="109.5" width="9.80" height="1.05" fill="#f8a157"/>
<rect x="432.25" y="110.5" width="9.80" height="2.05" fill="#fcc778"/>
<rect x="432.25" y="112.5" width="9.80" height="1.55" fill="#fdd485"/>
<rect x="432.25" y="114.0" width="9.80" height="2.05" fill="#fbc273"/>
<rect x="432.25" y="116.0" width="9.80" height="1.55" fill="#fcda8d"/>
<rect x="432.25" y="117.5" width="9.80" height="1.05" fill="#fbc374"/>
<rect x="432.25" y="118.5" width="9.80" height="2.05" fill="#f69652"/>
<rect x="432.25" y="120.5" width="9.80" height="1.05" fill="#fbbb6c"/>
<rect x="432.25" y="121.5" width="9.80" height="1.05" fill="#fbbc6d"/>
<rect x="432.25" y="122.5" width="9.80" height="2.05" fill="#fcde91"/>
<rect x="432.25" y="124.5" width="9.80" height="1.55" fill="#fab466"/>
<rect x="432.25" y="126.0" width="9.80" height="1.55" fill="#fcca7c"/>
<rect x="432.25" y="127.5" width="9.80" height="2.05" fill="#fab668"/>
<rect x="432.25" y="129.5" width="9.80" height="2.05" fill="#fcde91"/>
<rect x="432.25" y="131.5" width="9.80" height="1.55" fill="#fdd283"/>
<rect x="432.25" y="133.0" width="9.80" height="1.55" fill="#f9a659"/>
<rect x="432.25" y="134.5" width="9.80" height="2.05" fill="#fab769"/>
<rect x="432.25" y="136.5" width="9.80" height="1.05" fill="#fccd7e"/>
<rect x="432.25" y="137.5" width="9.80" height="1.55" fill="#fab163"/>
<rect x="432.25" y="139.0" width="9.80" height="1.05" fill="#fcc475"/>
<rect x="432.25" y="140.0" width="9.80" height="1.55" fill="#f79d55"/>
<rect x="432.25" y="141.5" width="9.80" height="1.05" fill="#fdd88a"/>
<rect x="432.25" y="142.5" width="9.80" height="2.05" fill="#f79753"/>
<rect x="432.25" y="144.5" width="9.80" height="1.05" fill="#fcc374"/>
<rect x="432.25" y="145.5" width="9.80" height="2.05" fill="#fab466"/>
<rect x="432.25" y="147.5" width="9.80" height="1.05" fill="#f4894c"/>
<rect x="432.25" y="148.5" width="9.80" height="1.55" fill="#f9aa5c"/>
<rect x="432.25" y="150.0" width="9.80" height="1.55" fill="#f8a358"/>
<rect x="432.25" y="151.5" width="9.80" height="1.05" fill="#f79953"/>
<rect x="432.25" y="152.5" width="9.80" height="1.55" fill="#fccc7d"/>
<rect x="432.25" y="154.0" width="9.80" height="1.55" fill="#f79d55"/>
<rect x="432.25" y="155.5" width="9.80" height="1.55" fill="#fce79c"/>
<rect x="432.25" y="157.0" width="9.80" height="1.05" fill="#fab869"/>
<rect x="432.25" y="158.0" width="9.80" height="1.55" fill="#fdd789"/>
<rect x="432.25" y="159.5" width="9.80" height="2.05" fill="#fccb7c"/>
<rect x="432.25" y="161.5" width="9.80" height="1.55" fill="#f38148"/>
<rect x="432.25" y="163.0" width="9.80" height="1.05" fill="#fab869"/>
<rect x="432.25" y="164.0" width="9.80" height="1.55" fill="#f69150"/>
<rect x="432.25" y="165.5" width="9.80" height="1.05" fill="#fab264"/>
<rect x="432.25" y="166.5" width="9.80" height="2.05" fill="#fcc97a"/>
<rect x="432.25" y="168.5" width="9.80" height="2.05" fill="#fab466"/>
<rect x="432.25" y="170.5" width="9.80" height="2.05" fill="#fab264"/>
<rect x="432.25" y="172.5" width="9.80" height="1.05" fill="#f58f4f"/>
<rect x="432.25" y="173.5" width="9.80" height="1.05" fill="#fcc475"/>
<rect x="432.25" y="174.5" width="9.80" height="1.55" fill="#fce093"/>
</g></g>
<rect x="442.9" y="40.8" width="12" height="135.2" fill="#858280"/>
<rect x="446.8" y="40.8" width="1.2" height="135.2" fill="#4a4744"/>
<rect x="449.2" y="40.8" width="1.0" height="135.2" fill="#9a9692"/>
<rect x="451.8" y="40.8" width="2.4" height="135.2" fill="#7a7672"/>
<line x1="452.6" y1="40.8" x2="452.6" y2="176" stroke="#4e4a47" stroke-width="1.2" stroke-dasharray="1.2 1.3"/>
<line x1="450.6" y1="41.5" x2="450.6" y2="176" stroke="#5e5a57" stroke-width="0.8" stroke-dasharray="0.8 2.1"/>
<text x="354.40" y="180.5" font-size="8.3" text-anchor="end" fill="#231f20" color="#231f20" transform="rotate(-90 354.40 180.5)">Mut1</text>
<text x="363.77" y="180.5" font-size="8.3" text-anchor="end" fill="#231f20" color="#231f20" transform="rotate(-90 363.77 180.5)">Mut2</text>
<text x="373.14" y="180.5" font-size="8.3" text-anchor="end" fill="#231f20" color="#231f20" transform="rotate(-90 373.14 180.5)">Mut3</text>
<text x="382.51" y="180.5" font-size="8.3" text-anchor="end" fill="#231f20" color="#231f20" transform="rotate(-90 382.51 180.5)">Mut4</text>
<text x="391.88" y="180.5" font-size="8.3" text-anchor="end" fill="#231f20" color="#231f20" transform="rotate(-90 391.88 180.5)">Mut5</text>
<text x="401.25" y="180.5" font-size="8.3" text-anchor="end" fill="#231f20" color="#231f20" transform="rotate(-90 401.25 180.5)">Sib1</text>
<text x="410.62" y="180.5" font-size="8.3" text-anchor="end" fill="#231f20" color="#231f20" transform="rotate(-90 410.62 180.5)">Sib2</text>
<text x="419.99" y="180.5" font-size="8.3" text-anchor="end" fill="#231f20" color="#231f20" transform="rotate(-90 419.99 180.5)">Sib3</text>
<text x="429.36" y="180.5" font-size="8.3" text-anchor="end" fill="#231f20" color="#231f20" transform="rotate(-90 429.36 180.5)">Sib4</text>
<text x="438.73" y="180.5" font-size="8.3" text-anchor="end" fill="#231f20" color="#231f20" transform="rotate(-90 438.73 180.5)">Sib5</text>
<defs><linearGradient id="cbg" x1="0" x2="1" y1="0" y2="0"><stop offset="0.000" stop-color="#3b2a78"/><stop offset="0.077" stop-color="#3d4796"/><stop offset="0.154" stop-color="#4a6cae"/><stop offset="0.231" stop-color="#6b9ac6"/><stop offset="0.308" stop-color="#a2cfdc"/><stop offset="0.385" stop-color="#c8e4e2"/><stop offset="0.462" stop-color="#e4efd6"/><stop offset="0.538" stop-color="#fbeea4"/><stop offset="0.615" stop-color="#fdd384"/><stop offset="0.692" stop-color="#f9a85a"/><stop offset="0.769" stop-color="#f27945"/><stop offset="0.846" stop-color="#e24e33"/><stop offset="0.923" stop-color="#c8312a"/><stop offset="1.000" stop-color="#962224"/></linearGradient></defs>
<rect x="361.0" y="202.2" width="65.8" height="8.0" fill="url(#cbg)"/>
<line x1="361.0" y1="210.2" x2="426.8" y2="210.2" stroke="#231f20" stroke-width="1.0"/>
<line x1="371.2" y1="210.2" x2="371.2" y2="213.3" stroke="#231f20" stroke-width="1.0"/>
<text x="371.2" y="223.8" font-size="7.4" text-anchor="middle" fill="#231f20" color="#231f20">−2</text>
<line x1="382.5" y1="210.2" x2="382.5" y2="213.3" stroke="#231f20" stroke-width="1.0"/>
<text x="382.5" y="223.8" font-size="7.4" text-anchor="middle" fill="#231f20" color="#231f20">−1</text>
<line x1="394.3" y1="210.2" x2="394.3" y2="213.3" stroke="#231f20" stroke-width="1.0"/>
<text x="394.3" y="223.8" font-size="7.4" text-anchor="middle" fill="#231f20" color="#231f20">0</text>
<line x1="405.8" y1="210.2" x2="405.8" y2="213.3" stroke="#231f20" stroke-width="1.0"/>
<text x="405.8" y="223.8" font-size="7.4" text-anchor="middle" fill="#231f20" color="#231f20">1</text>
<line x1="417.6" y1="210.2" x2="417.6" y2="213.3" stroke="#231f20" stroke-width="1.0"/>
<text x="417.6" y="223.8" font-size="7.4" text-anchor="middle" fill="#231f20" color="#231f20">2</text>
<text x="394.3" y="238.2" font-size="9.6" text-anchor="middle" fill="#231f20" color="#231f20" textLength="51.2" lengthAdjust="spacingAndGlyphs">Row Z-score</text>
<text x="10" y="268" font-size="12.2" text-anchor="start" fill="#231f20" color="#231f20">D</text>
<text x="10.5" y="303.7" font-size="8.7" text-anchor="start" fill="#231f20" color="#231f20" textLength="39.5" lengthAdjust="spacingAndGlyphs">Mesoderm</text>
<rect x="13" y="315.8" width="34.5" height="38.7" fill="#c6d9e0"/>
<circle cx="31" cy="336.3" r="7" fill="#6c3f7c"/>
<line x1="47.5" y1="337.25" x2="79" y2="337.25" stroke="#2a2a2a" stroke-width="1.15"/>
<path d="M76.4,334.35 L83,337.25 L76.4,340.15 L78.0,337.25 Z" fill="#111"/>
<text x="72.6" y="303.1" font-size="8.7" text-anchor="start" fill="#231f20" color="#231f20" textLength="60.5" lengthAdjust="spacingAndGlyphs">Hemato-vascular</text>
<text x="83.1" y="313.1" font-size="8.7" text-anchor="start" fill="#231f20" color="#231f20" textLength="39.7" lengthAdjust="spacingAndGlyphs">mesoderm</text>
<rect x="85.1" y="316.9" width="34.9" height="37.7" fill="#5a8286"/>
<circle cx="103" cy="336.3" r="6.8" fill="#6c3f7c"/>
<text x="56.9" y="363.4" font-size="8.7" text-anchor="start" fill="#62a048" color="#62a048" textLength="17.7" lengthAdjust="spacingAndGlyphs">lmo2</text>
<text x="56.9" y="373.4" font-size="8.7" text-anchor="start" fill="#62a048" color="#62a048" textLength="20" lengthAdjust="spacingAndGlyphs">gata2</text>
<text x="56.9" y="383.5" font-size="8.7" text-anchor="start" fill="#62a048" color="#62a048" textLength="14.9" lengthAdjust="spacingAndGlyphs">fli1a</text>
<line x1="123" y1="337.45" x2="152" y2="337.45" stroke="#2a2a2a" stroke-width="1.15"/>
<path d="M149.4,334.55 L156,337.45 L149.4,340.34999999999997 L151.0,337.45 Z" fill="#111"/>
<text x="167.0" y="303.75" font-size="8.7" text-anchor="start" fill="#231f20" color="#231f20" textLength="17.5" lengthAdjust="spacingAndGlyphs">ProE</text>
<ellipse cx="175.35" cy="335.4" rx="17.9" ry="19.0" fill="#7774aa"/>
<ellipse cx="175.3" cy="335.8" rx="14.4" ry="14.0" fill="#6d467c"/>
<text x="127.5" y="361" font-size="8.7" text-anchor="start" fill="#62a048" color="#62a048" textLength="19.5" lengthAdjust="spacingAndGlyphs">gata1</text>
<text x="183.75" y="361.25" font-size="8.7" text-anchor="start" fill="#62a048" color="#62a048" textLength="50" lengthAdjust="spacingAndGlyphs">hbae1, hbae3,</text>
<text x="183.75" y="372.1" font-size="8.7" text-anchor="start" fill="#62a048" color="#62a048" textLength="51" lengthAdjust="spacingAndGlyphs">hbbe1, hbbe2,</text>
<text x="183.75" y="381.6" font-size="8.7" text-anchor="start" fill="#62a048" color="#62a048" textLength="21.5" lengthAdjust="spacingAndGlyphs">hbbe3</text>
<text x="169.3" y="272.4" font-size="8.7" text-anchor="start" fill="#231f20" color="#231f20" textLength="96.5" lengthAdjust="spacingAndGlyphs">Stage of most gata1:eGFP+</text>
<text x="177.3" y="281.2" font-size="8.7" text-anchor="start" fill="#231f20" color="#231f20" textLength="81.2" lengthAdjust="spacingAndGlyphs">erythroblasts at 24 hpf</text>
<line x1="183.9" y1="286.8" x2="250.7" y2="286.8" stroke="#231f20" stroke-width="1.0"/>
<line x1="195.75" y1="337.45" x2="225" y2="337.45" stroke="#2a2a2a" stroke-width="1.15"/>
<path d="M222.4,334.55 L229,337.45 L222.4,340.34999999999997 L224.0,337.45 Z" fill="#111"/>
<text x="238" y="303.75" font-size="8.7" text-anchor="start" fill="#231f20" color="#231f20" textLength="21.5" lengthAdjust="spacingAndGlyphs">BasoE</text>
<ellipse cx="248.75" cy="335.6" rx="18.25" ry="17.5" fill="#da9eae"/>
<ellipse cx="248.5" cy="336.9" rx="12.75" ry="10.6" fill="#6a3f7a"/>
<text x="263.5" y="363" font-size="8.7" text-anchor="start" fill="#62a048" color="#62a048" textLength="45.5" lengthAdjust="spacingAndGlyphs">alas1, hmbs,</text>
<text x="263.5" y="373" font-size="8.7" text-anchor="start" fill="#62a048" color="#62a048" textLength="39" lengthAdjust="spacingAndGlyphs">uros, cpox,</text>
<text x="263.5" y="383" font-size="8.7" text-anchor="start" fill="#62a048" color="#62a048" textLength="39.5" lengthAdjust="spacingAndGlyphs">ppox, fech,</text>
<text x="263.5" y="393" font-size="8.7" text-anchor="start" fill="#62a048" color="#62a048" textLength="57.75" lengthAdjust="spacingAndGlyphs">mitoferrin, dmt1</text>
<line x1="270" y1="337.45" x2="303.1" y2="337.45" stroke="#2a2a2a" stroke-width="1.15"/>
<path d="M300.5,334.55 L307.1,337.45 L300.5,340.34999999999997 L302.1,337.45 Z" fill="#111"/>
<text x="310.5" y="303.75" font-size="8.7" text-anchor="start" fill="#231f20" color="#231f20" textLength="25.75" lengthAdjust="spacingAndGlyphs">OrthoE</text>
<ellipse cx="323.75" cy="336" rx="15.75" ry="14" fill="#c06a72"/>
<ellipse cx="323.75" cy="336.6" rx="9.25" ry="5.9" fill="#6a4488"/>
<line x1="342" y1="337.84999999999997" x2="360" y2="337.84999999999997" stroke="#2a2a2a" stroke-width="1.15"/>
<path d="M357.4,334.95 L364,337.84999999999997 L357.4,340.74999999999994 L359.0,337.84999999999997 Z" fill="#111"/>
<text x="367.7" y="303" font-size="8.7" text-anchor="start" fill="#231f20" color="#231f20" textLength="25.7" lengthAdjust="spacingAndGlyphs">Mature</text>
<text x="359.2" y="313" font-size="8.7" text-anchor="start" fill="#231f20" color="#231f20" textLength="42" lengthAdjust="spacingAndGlyphs">erythrocyte</text>
<ellipse cx="380.15" cy="337.5" rx="14.75" ry="8.3" fill="#b93b36"/>
<ellipse cx="380.2" cy="337.25" rx="7.5" ry="5.75" fill="#6a4a90"/>
<text x="10.6" y="423.8" font-size="11.6" text-anchor="start" fill="#231f20" color="#231f20">E</text>
<text x="69.8" y="436" font-size="11.0" text-anchor="start" fill="#231f20" color="#231f20" textLength="153.2" lengthAdjust="spacingAndGlyphs">Upregulated genes: KEGG Pathways</text>
<line x1="40.2" y1="441.3" x2="40.2" y2="459.9" stroke="#231f20" stroke-width="1.2"/>
<line x1="40.2" y1="462.8" x2="40.2" y2="586.9" stroke="#231f20" stroke-width="1.2"/>
<line x1="37.1" y1="460.5" x2="43.5" y2="460.5" stroke="#231f20" stroke-width="1.1"/>
<line x1="37.1" y1="463.6" x2="43.5" y2="463.6" stroke="#231f20" stroke-width="1.1"/>
<line x1="37.2" y1="444.4" x2="40.2" y2="444.4" stroke="#231f20" stroke-width="1.1"/>
<text x="34.2" y="447.1" font-size="8.8" text-anchor="end" fill="#231f20" color="#231f20" textLength="9.3" lengthAdjust="spacingAndGlyphs">40</text>
<line x1="37.2" y1="586.3" x2="40.2" y2="586.3" stroke="#231f20" stroke-width="1.1"/>
<text x="34.2" y="589.3" font-size="8.8" text-anchor="end" fill="#231f20" color="#231f20" textLength="4.7" lengthAdjust="spacingAndGlyphs">0</text>
<line x1="37.2" y1="558.3" x2="40.2" y2="558.3" stroke="#231f20" stroke-width="1.1"/>
<text x="34.2" y="561.3" font-size="8.8" text-anchor="end" fill="#231f20" color="#231f20" textLength="4.7" lengthAdjust="spacingAndGlyphs">2</text>
<line x1="37.2" y1="530.3" x2="40.2" y2="530.3" stroke="#231f20" stroke-width="1.1"/>
<text x="34.2" y="533.3" font-size="8.8" text-anchor="end" fill="#231f20" color="#231f20" textLength="4.7" lengthAdjust="spacingAndGlyphs">4</text>
<line x1="37.2" y1="502.29999999999995" x2="40.2" y2="502.29999999999995" stroke="#231f20" stroke-width="1.1"/>
<text x="34.2" y="505.29999999999995" font-size="8.8" text-anchor="end" fill="#231f20" color="#231f20" textLength="4.7" lengthAdjust="spacingAndGlyphs">6</text>
<line x1="37.2" y1="474.29999999999995" x2="40.2" y2="474.29999999999995" stroke="#231f20" stroke-width="1.1"/>
<text x="34.2" y="477.29999999999995" font-size="8.8" text-anchor="end" fill="#231f20" color="#231f20" textLength="4.7" lengthAdjust="spacingAndGlyphs">8</text>
<line x1="39.6" y1="586.3" x2="252.5" y2="586.3" stroke="#231f20" stroke-width="1.2"/>
<rect x="56" y="452.3" width="34.3" height="133.99999999999994" fill="#6b4567"/>
<rect x="104.5" y="474.6" width="34.69999999999999" height="111.69999999999993" fill="#4b5f80"/>
<rect x="153" y="530" width="34.80000000000001" height="56.299999999999955" fill="#646870"/>
<rect x="202.3" y="533.7" width="34.5" height="52.59999999999991" fill="#c9c3c6"/>
<line x1="72.7" y1="586.3" x2="72.7" y2="589.6" stroke="#231f20" stroke-width="1.1"/>
<line x1="121.6" y1="586.3" x2="121.6" y2="589.6" stroke="#231f20" stroke-width="1.1"/>
<line x1="170.5" y1="586.3" x2="170.5" y2="589.6" stroke="#231f20" stroke-width="1.1"/>
<line x1="219.3" y1="586.3" x2="219.3" y2="589.6" stroke="#231f20" stroke-width="1.1"/>
<text x="18.1" y="513.6" font-size="10" text-anchor="middle" fill="#231f20" color="#231f20" textLength="53.5" lengthAdjust="spacingAndGlyphs" transform="rotate(-90 18.1 513.6)">-log(pvalue)</text>
<text x="76.7" y="599.5" font-size="8.4" text-anchor="end" fill="#231f20" color="#231f20" textLength="45.5" lengthAdjust="spacingAndGlyphs" transform="rotate(-45 76.7 599.5)">Spliceosome</text>
<text x="125.6" y="599.5" font-size="8.4" text-anchor="end" fill="#231f20" color="#231f20" textLength="49" lengthAdjust="spacingAndGlyphs" transform="rotate(-45 125.6 599.5)">p53 Signaling</text>
<text x="174.5" y="599.5" font-size="8.4" text-anchor="end" fill="#231f20" color="#231f20" textLength="66" lengthAdjust="spacingAndGlyphs" transform="rotate(-45 174.5 599.5)">TGF beta signaling</text>
<text x="223.3" y="599.5" font-size="8.4" text-anchor="end" fill="#231f20" color="#231f20" textLength="58" lengthAdjust="spacingAndGlyphs" transform="rotate(-45 223.3 599.5)">MAPK Signaling</text>
<text x="269.9" y="423.9" font-size="11.6" text-anchor="start" fill="#231f20" color="#231f20">F</text>
<text x="320" y="434.6" font-size="11.0" text-anchor="start" fill="#231f20" color="#231f20" textLength="167" lengthAdjust="spacingAndGlyphs">Downregulated genes: KEGG Pathways</text>
<line x1="295.1" y1="440.4" x2="295.1" y2="588.9" stroke="#231f20" stroke-width="1.2"/>
<line x1="292.1" y1="588.3" x2="295.1" y2="588.3" stroke="#231f20" stroke-width="1.1"/>
<text x="288.9" y="591.3" font-size="8.8" text-anchor="end" fill="#231f20" color="#231f20" textLength="4.7" lengthAdjust="spacingAndGlyphs">0</text>
<line x1="292.1" y1="551.6999999999999" x2="295.1" y2="551.6999999999999" stroke="#231f20" stroke-width="1.1"/>
<text x="288.9" y="554.6999999999999" font-size="8.8" text-anchor="end" fill="#231f20" color="#231f20" textLength="4.7" lengthAdjust="spacingAndGlyphs">2</text>
<line x1="292.1" y1="515.0999999999999" x2="295.1" y2="515.0999999999999" stroke="#231f20" stroke-width="1.1"/>
<text x="288.9" y="518.0999999999999" font-size="8.8" text-anchor="end" fill="#231f20" color="#231f20" textLength="4.7" lengthAdjust="spacingAndGlyphs">4</text>
<line x1="292.1" y1="478.49999999999994" x2="295.1" y2="478.49999999999994" stroke="#231f20" stroke-width="1.1"/>
<text x="288.9" y="481.49999999999994" font-size="8.8" text-anchor="end" fill="#231f20" color="#231f20" textLength="4.7" lengthAdjust="spacingAndGlyphs">6</text>
<line x1="292.1" y1="441.9" x2="295.1" y2="441.9" stroke="#231f20" stroke-width="1.1"/>
<text x="288.9" y="444.9" font-size="8.8" text-anchor="end" fill="#231f20" color="#231f20" textLength="4.7" lengthAdjust="spacingAndGlyphs">8</text>
<line x1="294.5" y1="588.3" x2="512.5" y2="588.3" stroke="#231f20" stroke-width="1.2"/>
<rect x="311.2" y="471.5" width="34.69999999999999" height="116.79999999999995" fill="#6b4567"/>
<rect x="361.5" y="471.5" width="34.10000000000002" height="116.79999999999995" fill="#4b5f80"/>
<rect x="412.1" y="471.3" width="34.299999999999955" height="116.99999999999994" fill="#646870"/>
<rect x="461.8" y="501.5" width="35.099999999999966" height="86.79999999999995" fill="#c9c3c6"/>
<line x1="328.5" y1="588.3" x2="328.5" y2="591.6" stroke="#231f20" stroke-width="1.1"/>
<line x1="378.3" y1="588.3" x2="378.3" y2="591.6" stroke="#231f20" stroke-width="1.1"/>
<line x1="429" y1="588.3" x2="429" y2="591.6" stroke="#231f20" stroke-width="1.1"/>
<line x1="479.6" y1="588.3" x2="479.6" y2="591.6" stroke="#231f20" stroke-width="1.1"/>
<text x="277.7" y="514.3" font-size="10" text-anchor="middle" fill="#231f20" color="#231f20" textLength="52.8" lengthAdjust="spacingAndGlyphs" transform="rotate(-90 277.7 514.3)">-log(pvalue)</text>
<text x="332.5" y="600.2" font-size="8.4" text-anchor="end" fill="#231f20" color="#231f20" textLength="52.5" lengthAdjust="spacingAndGlyphs" transform="rotate(-45 332.5 600.2)">Hematopoietic</text>
<text x="336.2" y="610.7" font-size="8.4" text-anchor="end" fill="#231f20" color="#231f20" textLength="45.5" lengthAdjust="spacingAndGlyphs" transform="rotate(-45 336.2 610.7)">Cell Lineage</text>
<text x="382.8" y="600.2" font-size="8.4" text-anchor="end" fill="#231f20" color="#231f20" textLength="67" lengthAdjust="spacingAndGlyphs" transform="rotate(-45 382.8 600.2)">Calcium Signaling</text>
<text x="433.0" y="600.2" font-size="8.4" text-anchor="end" fill="#231f20" color="#231f20" textLength="70" lengthAdjust="spacingAndGlyphs" transform="rotate(-45 433.0 600.2)">Purine Metabolism</text>
<text x="483.6" y="600.2" font-size="8.4" text-anchor="end" fill="#231f20" color="#231f20" textLength="35.5" lengthAdjust="spacingAndGlyphs" transform="rotate(-45 483.6 600.2)">Cell Cycle</text>
<rect x="1" y="1" width="518" height="654" fill="none" stroke="#4d4d4d" stroke-width="2"/>
</svg>
</body></html>
